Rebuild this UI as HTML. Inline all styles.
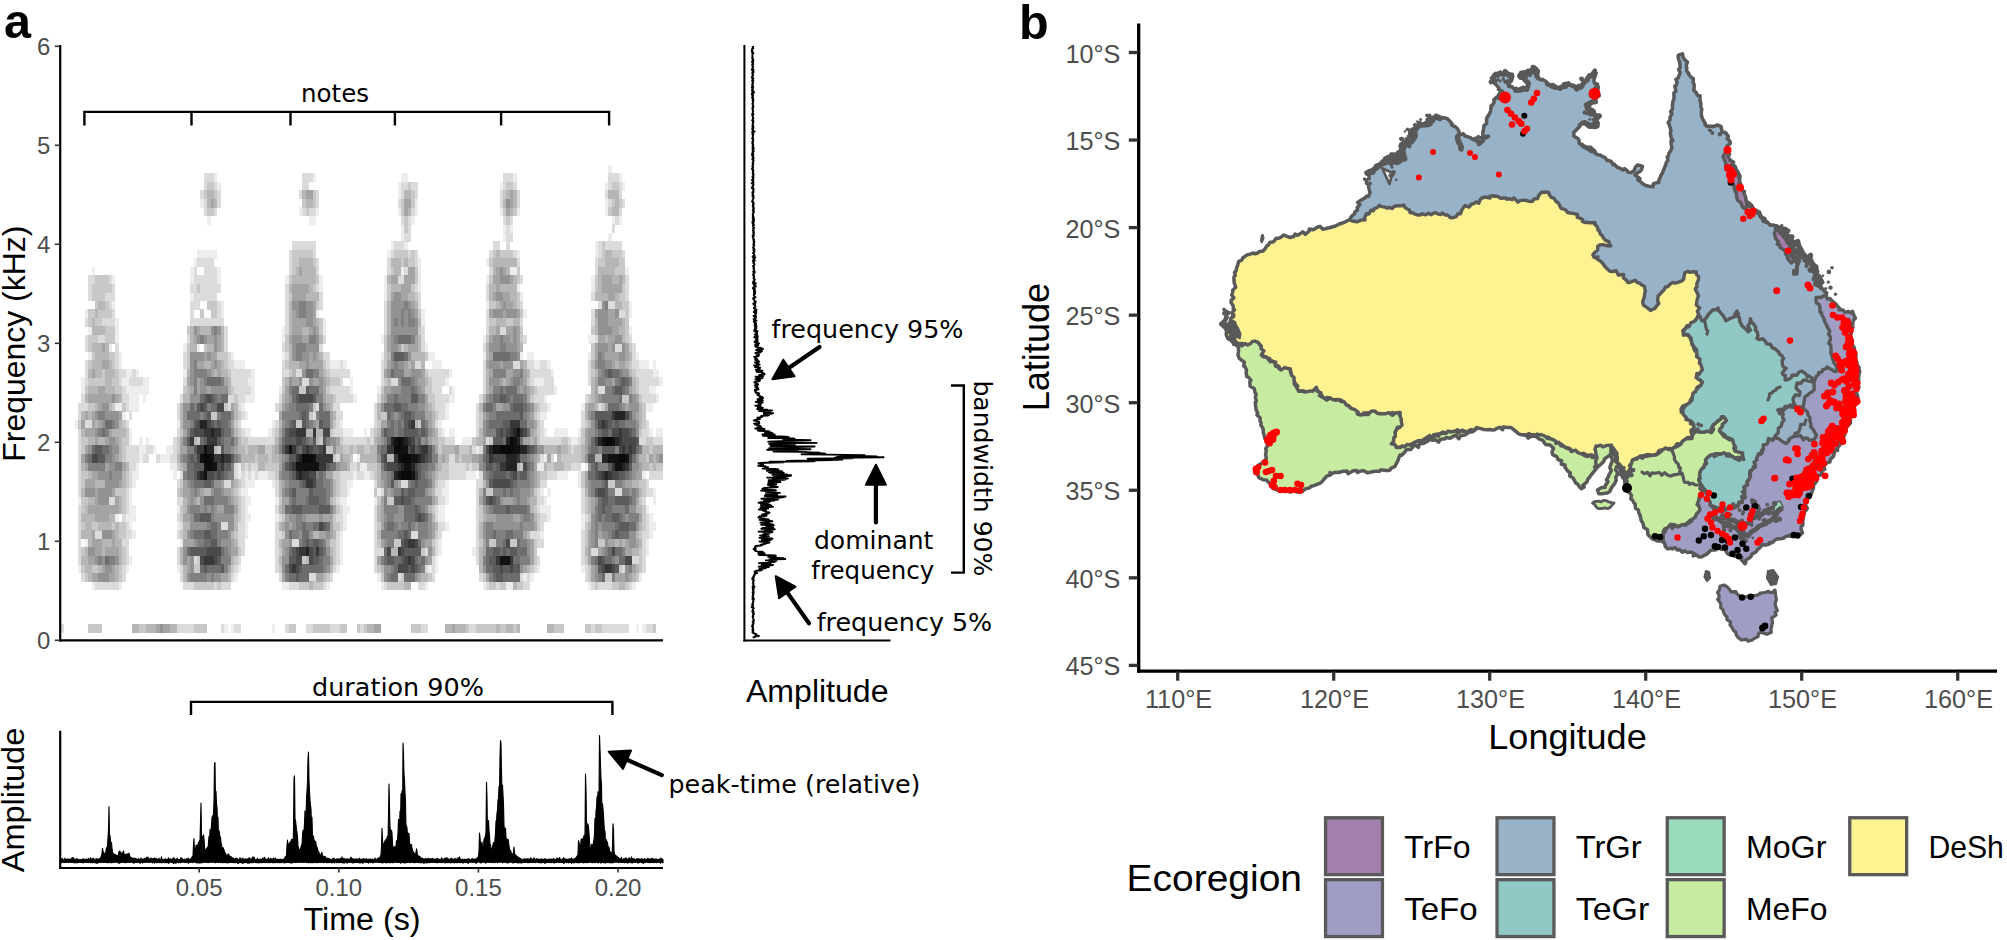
<!DOCTYPE html>
<html lang="en"><head><meta charset="utf-8"><title>Figure</title>
<style>html,body{margin:0;padding:0;background:#fff}svg{display:block}</style></head>
<body>
<svg width="2007" height="940" viewBox="0 0 2007 940">
<rect width="2007" height="940" fill="#fff"/>
<g shape-rendering="crispEdges" fill="none" stroke-width="8.6">
<path stroke="rgb(237,237,237)" d="M608.4 169.25h3.4M214.0 177.75h3.4M312.6 177.75h3.4M401.0 177.75h6.8M513.2 177.75h3.4M618.6 177.75h3.4M217.4 186.25h3.4M397.6 186.25h3.4M499.6 186.25h3.4M605.0 186.25h3.4M622.0 186.25h3.4M397.6 194.75h3.4M200.4 203.25h3.4M414.6 203.25h3.4M605.0 203.25h3.4M299.0 211.75h3.4M316.0 211.75h3.4M397.6 211.75h3.4M414.6 211.75h3.4M499.6 211.75h3.4M516.6 211.75h3.4M605.0 211.75h3.4M207.2 220.25h3.4M309.2 220.25h6.8M411.2 220.25h3.4M611.8 220.25h3.4M618.6 220.25h3.4M401.0 228.75h3.4M503.0 228.75h3.4M509.8 228.75h3.4M401.0 237.25h3.4M503.0 237.25h3.4M608.4 237.25h3.4M390.8 245.75h3.4M404.4 245.75h3.4M594.8 245.75h3.4M197.0 254.25h20.4M387.4 254.25h3.4M516.6 254.25h3.4M594.8 254.25h3.4M193.6 262.75h3.4M418.0 262.75h3.4M486.0 262.75h3.4M91.6 271.25h3.4M190.2 271.25h3.4M217.4 271.25h3.4M401.0 271.25h3.4M418.0 271.25h3.4M509.8 271.25h6.8M625.4 271.25h3.4M112.0 279.75h3.4M190.2 279.75h3.4M217.4 279.75h3.4M285.4 279.75h3.4M319.4 279.75h3.4M384.0 279.75h3.4M418.0 279.75h3.4M486.0 279.75h3.4M591.4 279.75h3.4M319.4 288.25h3.4M384.0 288.25h3.4M418.0 288.25h3.4M516.6 288.25h3.4M591.4 288.25h3.4M190.2 296.75h3.4M384.0 296.75h3.4M520.0 296.75h3.4M112.0 305.25h3.4M220.8 305.25h3.4M486.0 305.25h3.4M628.8 305.25h3.4M84.8 313.75h3.4M220.8 313.75h3.4M316.0 313.75h3.4M421.4 313.75h3.4M523.4 313.75h3.4M628.8 313.75h3.4M115.4 322.25h3.4M322.8 322.25h3.4M421.4 322.25h3.4M88.2 330.75h3.4M115.4 330.75h3.4M282.0 330.75h3.4M322.8 330.75h3.4M628.8 330.75h3.4M115.4 339.25h3.4M282.0 339.25h3.4M380.6 339.25h3.4M482.6 339.25h3.4M588.0 339.25h6.8M108.6 347.75h3.4M183.4 347.75h3.4M197.0 347.75h3.4M424.8 347.75h3.4M88.2 356.25h3.4M118.8 356.25h3.4M231.0 356.25h3.4M282.0 356.25h3.4M380.6 356.25h3.4M428.2 356.25h6.8M482.6 356.25h3.4M520.0 356.25h3.4M526.8 356.25h6.8M588.0 356.25h3.4M635.6 356.25h3.4M118.8 364.75h3.4M234.4 364.75h10.2M329.6 364.75h10.2M343.2 364.75h3.4M431.6 364.75h10.2M533.6 364.75h6.8M547.2 364.75h3.4M639.0 364.75h10.2M652.6 364.75h3.4M125.6 373.25h6.8M135.8 373.25h3.4M183.4 373.25h3.4M251.4 373.25h3.4M448.6 373.25h3.4M550.6 373.25h3.4M652.6 373.25h6.8M81.4 381.75h3.4M122.2 381.75h6.8M142.6 381.75h6.8M248.0 381.75h6.8M350.0 381.75h3.4M445.2 381.75h3.4M533.6 381.75h10.2M659.4 381.75h3.4M81.4 390.25h3.4M125.6 390.25h23.8M251.4 390.25h3.4M278.6 390.25h3.4M350.0 390.25h3.4M377.2 390.25h3.4M452.0 390.25h3.4M554.0 390.25h3.4M649.2 390.25h6.8M129.0 398.75h10.2M142.6 398.75h3.4M244.6 398.75h10.2M353.4 398.75h3.4M448.6 398.75h6.8M543.8 398.75h3.4M656.0 398.75h3.4M115.4 407.25h6.8M129.0 407.25h10.2M241.2 407.25h3.4M445.2 407.25h3.4M547.2 407.25h3.4M581.2 407.25h3.4M645.8 407.25h6.8M122.2 415.75h3.4M244.6 415.75h3.4M445.2 415.75h3.4M540.4 415.75h6.8M74.6 424.25h3.4M176.6 424.25h3.4M271.8 424.25h3.4M339.8 424.25h3.4M438.4 424.25h3.4M129.0 432.75h3.4M244.6 432.75h6.8M268.4 432.75h3.4M343.2 432.75h10.2M363.6 432.75h3.4M441.8 432.75h3.4M448.6 432.75h6.8M543.8 432.75h3.4M554.0 432.75h13.6M577.8 432.75h3.4M649.2 432.75h3.4M656.0 432.75h6.8M129.0 441.25h3.4M139.2 441.25h3.4M146.0 441.25h3.4M462.2 441.25h10.2M571.0 441.25h6.8M139.2 449.75h6.8M152.8 449.75h3.4M166.4 449.75h6.8M475.8 449.75h3.4M139.2 458.25h3.4M159.6 458.25h10.2M356.8 458.25h3.4M543.8 458.25h3.4M135.8 466.75h3.4M169.8 466.75h6.8M237.8 466.75h3.4M360.2 466.75h6.8M537.0 466.75h6.8M584.6 466.75h3.4M132.4 475.25h6.8M173.2 475.25h3.4M237.8 475.25h3.4M244.6 475.25h3.4M251.4 475.25h3.4M258.2 475.25h10.2M353.4 475.25h3.4M363.6 475.25h6.8M465.6 475.25h10.2M557.4 475.25h10.2M577.8 475.25h3.4M642.4 475.25h3.4M132.4 483.75h3.4M244.6 483.75h10.2M271.8 483.75h3.4M346.6 483.75h6.8M445.2 483.75h3.4M577.8 483.75h3.4M129.0 492.25h3.4M241.2 492.25h6.8M346.6 492.25h3.4M377.2 492.25h3.4M441.8 492.25h6.8M540.4 492.25h3.4M547.2 492.25h3.4M652.6 492.25h3.4M78.0 500.75h3.4M129.0 500.75h3.4M244.6 500.75h6.8M275.2 500.75h3.4M339.8 500.75h6.8M373.8 500.75h3.4M445.2 500.75h3.4M543.8 500.75h3.4M652.6 500.75h3.4M129.0 509.25h6.8M176.6 509.25h3.4M244.6 509.25h3.4M343.2 509.25h6.8M438.4 509.25h6.8M540.4 509.25h10.2M645.8 509.25h3.4M115.4 517.75h3.4M125.6 517.75h10.2M244.6 517.75h6.8M275.2 517.75h3.4M343.2 517.75h3.4M438.4 517.75h6.8M547.2 517.75h3.4M581.2 517.75h3.4M649.2 517.75h3.4M129.0 526.25h3.4M176.6 526.25h3.4M244.6 526.25h3.4M343.2 526.25h3.4M445.2 526.25h3.4M581.2 526.25h3.4M649.2 526.25h6.8M132.4 534.75h3.4M244.6 534.75h3.4M339.8 534.75h3.4M540.4 534.75h3.4M649.2 534.75h3.4M84.8 543.25h3.4M180.0 543.25h3.4M339.8 543.25h3.4M438.4 543.25h3.4M645.8 543.25h3.4M339.8 551.75h3.4M438.4 551.75h3.4M472.4 551.75h3.4M645.8 551.75h3.4M129.0 560.25h3.4M339.8 560.25h3.4M435.0 560.25h3.4M78.0 568.75h3.4M125.6 568.75h3.4M176.6 568.75h3.4M237.8 568.75h3.4M336.4 568.75h3.4M428.2 568.75h3.4M435.0 568.75h3.4M537.0 568.75h3.4M581.2 568.75h3.4M234.4 577.25h3.4M377.2 577.25h3.4M523.4 577.25h3.4M530.2 577.25h3.4M639.0 577.25h3.4M91.6 585.75h3.4M118.8 585.75h3.4M282.0 585.75h6.8M326.2 585.75h3.4M380.6 585.75h3.4M424.8 585.75h3.4M482.6 585.75h3.4M506.4 585.75h6.8M588.0 585.75h3.4M632.2 585.75h3.4M224.2 628.25h3.4M231.0 628.25h3.4M271.8 628.25h3.4M635.6 628.25h3.4M642.4 628.25h3.4"/>
<path stroke="rgb(219,219,219)" d="M203.8 177.75h10.2M302.4 177.75h10.2M503.0 177.75h10.2M608.4 177.75h10.2M203.8 186.25h3.4M214.0 186.25h3.4M302.4 186.25h6.8M401.0 186.25h6.8M411.2 186.25h6.8M503.0 186.25h3.4M513.2 186.25h3.4M608.4 186.25h3.4M618.6 186.25h3.4M200.4 194.75h3.4M217.4 194.75h3.4M299.0 194.75h3.4M316.0 194.75h3.4M401.0 194.75h3.4M414.6 194.75h3.4M499.6 194.75h3.4M516.6 194.75h3.4M605.0 194.75h3.4M618.6 194.75h3.4M203.8 203.25h3.4M217.4 203.25h3.4M316.0 203.25h3.4M397.6 203.25h3.4M499.6 203.25h3.4M516.6 203.25h3.4M608.4 203.25h3.4M622.0 203.25h3.4M203.8 211.75h3.4M214.0 211.75h3.4M302.4 211.75h3.4M309.2 211.75h6.8M411.2 211.75h3.4M618.6 211.75h3.4M401.0 220.25h3.4M407.8 220.25h3.4M503.0 220.25h3.4M509.8 220.25h3.4M615.2 220.25h3.4M407.8 228.75h3.4M506.4 228.75h3.4M611.8 228.75h3.4M404.4 237.25h6.8M506.4 237.25h6.8M292.2 245.75h23.8M394.2 245.75h10.2M492.8 245.75h6.8M506.4 245.75h3.4M598.2 245.75h3.4M605.0 245.75h17.0M288.8 254.25h3.4M312.6 254.25h3.4M390.8 254.25h3.4M407.8 254.25h3.4M414.6 254.25h3.4M489.4 254.25h3.4M513.2 254.25h3.4M598.2 254.25h3.4M622.0 254.25h3.4M197.0 262.75h17.0M288.8 262.75h3.4M316.0 262.75h3.4M387.4 262.75h3.4M414.6 262.75h3.4M516.6 262.75h3.4M594.8 262.75h3.4M193.6 271.25h3.4M203.8 271.25h13.6M288.8 271.25h3.4M316.0 271.25h3.4M387.4 271.25h3.4M404.4 271.25h3.4M489.4 271.25h3.4M594.8 271.25h3.4M88.2 279.75h6.8M108.6 279.75h3.4M193.6 279.75h23.8M397.6 279.75h6.8M520.0 279.75h3.4M625.4 279.75h3.4M88.2 288.25h3.4M112.0 288.25h3.4M190.2 288.25h6.8M200.4 288.25h20.4M285.4 288.25h3.4M316.0 288.25h3.4M414.6 288.25h3.4M486.0 288.25h3.4M625.4 288.25h3.4M88.2 296.75h3.4M105.2 296.75h10.2M193.6 296.75h23.8M285.4 296.75h3.4M319.4 296.75h3.4M418.0 296.75h3.4M486.0 296.75h3.4M591.4 296.75h3.4M625.4 296.75h3.4M108.6 305.25h3.4M190.2 305.25h10.2M217.4 305.25h3.4M285.4 305.25h3.4M319.4 305.25h3.4M384.0 305.25h3.4M418.0 305.25h3.4M520.0 305.25h3.4M598.2 305.25h3.4M608.4 305.25h6.8M112.0 313.75h3.4M190.2 313.75h3.4M217.4 313.75h3.4M285.4 313.75h3.4M384.0 313.75h3.4M486.0 313.75h3.4M591.4 313.75h3.4M618.6 313.75h6.8M84.8 322.25h3.4M101.8 322.25h13.6M190.2 322.25h34.0M285.4 322.25h3.4M384.0 322.25h3.4M486.0 322.25h3.4M520.0 322.25h3.4M591.4 322.25h3.4M224.2 330.75h3.4M285.4 330.75h3.4M384.0 330.75h3.4M421.4 330.75h3.4M486.0 330.75h3.4M499.6 330.75h6.8M84.8 339.25h3.4M98.4 339.25h6.8M186.8 339.25h3.4M224.2 339.25h3.4M322.8 339.25h3.4M421.4 339.25h3.4M523.4 339.25h3.4M594.8 339.25h3.4M628.8 339.25h3.4M84.8 347.75h3.4M115.4 347.75h3.4M224.2 347.75h3.4M282.0 347.75h3.4M319.4 347.75h3.4M421.4 347.75h3.4M482.6 347.75h3.4M615.2 347.75h6.8M632.2 347.75h3.4M115.4 356.25h3.4M183.4 356.25h3.4M227.6 356.25h3.4M285.4 356.25h3.4M322.8 356.25h6.8M632.2 356.25h3.4M84.8 364.75h3.4M115.4 364.75h3.4M183.4 364.75h3.4M227.6 364.75h6.8M282.0 364.75h3.4M326.2 364.75h3.4M339.8 364.75h3.4M380.6 364.75h3.4M414.6 364.75h6.8M482.6 364.75h3.4M513.2 364.75h6.8M526.8 364.75h6.8M540.4 364.75h6.8M588.0 364.75h3.4M632.2 364.75h6.8M84.8 373.25h3.4M118.8 373.25h6.8M132.4 373.25h3.4M231.0 373.25h20.4M282.0 373.25h6.8M295.6 373.25h6.8M329.6 373.25h20.4M380.6 373.25h3.4M428.2 373.25h20.4M482.6 373.25h3.4M530.2 373.25h20.4M588.0 373.25h3.4M635.6 373.25h17.0M84.8 381.75h3.4M118.8 381.75h3.4M129.0 381.75h13.6M183.4 381.75h3.4M231.0 381.75h17.0M302.4 381.75h6.8M339.8 381.75h3.4M380.6 381.75h3.4M390.8 381.75h6.8M431.6 381.75h13.6M482.6 381.75h3.4M530.2 381.75h3.4M543.8 381.75h10.2M588.0 381.75h3.4M639.0 381.75h20.4M122.2 390.25h3.4M234.4 390.25h17.0M329.6 390.25h20.4M431.6 390.25h10.2M448.6 390.25h3.4M482.6 390.25h3.4M537.0 390.25h17.0M598.2 390.25h6.8M639.0 390.25h10.2M81.4 398.75h3.4M122.2 398.75h6.8M180.0 398.75h3.4M227.6 398.75h6.8M237.8 398.75h6.8M278.6 398.75h3.4M336.4 398.75h17.0M377.2 398.75h3.4M435.0 398.75h13.6M479.2 398.75h3.4M533.6 398.75h10.2M584.6 398.75h3.4M642.4 398.75h13.6M78.0 407.25h10.2M125.6 407.25h3.4M176.6 407.25h3.4M227.6 407.25h3.4M237.8 407.25h3.4M275.2 407.25h3.4M316.0 407.25h3.4M333.0 407.25h6.8M373.8 407.25h3.4M435.0 407.25h10.2M475.8 407.25h3.4M540.4 407.25h6.8M598.2 407.25h3.4M78.0 415.75h3.4M129.0 415.75h3.4M176.6 415.75h3.4M241.2 415.75h3.4M312.6 415.75h3.4M336.4 415.75h6.8M373.8 415.75h3.4M438.4 415.75h6.8M475.8 415.75h3.4M537.0 415.75h3.4M581.2 415.75h3.4M84.8 424.25h6.8M125.6 424.25h3.4M237.8 424.25h3.4M275.2 424.25h3.4M336.4 424.25h3.4M373.8 424.25h3.4M435.0 424.25h3.4M475.8 424.25h3.4M540.4 424.25h3.4M581.2 424.25h3.4M645.8 424.25h3.4M78.0 432.75h3.4M176.6 432.75h3.4M241.2 432.75h3.4M271.8 432.75h3.4M333.0 432.75h10.2M370.4 432.75h3.4M438.4 432.75h3.4M475.8 432.75h3.4M540.4 432.75h3.4M642.4 432.75h6.8M78.0 441.25h3.4M173.2 441.25h3.4M248.0 441.25h27.2M343.2 441.25h23.8M370.4 441.25h3.4M445.2 441.25h10.2M486.0 441.25h3.4M540.4 441.25h20.4M567.6 441.25h3.4M577.8 441.25h3.4M639.0 441.25h6.8M652.6 441.25h10.2M78.0 449.75h3.4M125.6 449.75h13.6M146.0 449.75h6.8M173.2 449.75h3.4M472.4 449.75h3.4M479.2 449.75h3.4M571.0 449.75h3.4M78.0 458.25h3.4M125.6 458.25h13.6M142.6 458.25h6.8M156.2 458.25h3.4M169.8 458.25h6.8M336.4 458.25h3.4M448.6 458.25h6.8M540.4 458.25h3.4M550.6 458.25h3.4M78.0 466.75h3.4M129.0 466.75h6.8M234.4 466.75h3.4M244.6 466.75h3.4M251.4 466.75h6.8M350.0 466.75h6.8M448.6 466.75h17.0M469.0 466.75h3.4M571.0 466.75h10.2M78.0 475.25h3.4M129.0 475.25h3.4M180.0 475.25h3.4M234.4 475.25h3.4M241.2 475.25h3.4M248.0 475.25h3.4M254.8 475.25h3.4M268.4 475.25h6.8M339.8 475.25h13.6M356.8 475.25h6.8M370.4 475.25h3.4M448.6 475.25h17.0M479.2 475.25h3.4M547.2 475.25h10.2M649.2 475.25h13.6M78.0 483.75h3.4M129.0 483.75h3.4M176.6 483.75h3.4M224.2 483.75h6.8M241.2 483.75h3.4M275.2 483.75h3.4M339.8 483.75h6.8M373.8 483.75h3.4M401.0 483.75h6.8M438.4 483.75h6.8M475.8 483.75h6.8M540.4 483.75h6.8M645.8 483.75h3.4M78.0 492.25h3.4M125.6 492.25h3.4M237.8 492.25h3.4M275.2 492.25h3.4M339.8 492.25h6.8M380.6 492.25h3.4M435.0 492.25h6.8M475.8 492.25h3.4M537.0 492.25h3.4M581.2 492.25h3.4M615.2 492.25h6.8M645.8 492.25h6.8M108.6 500.75h6.8M125.6 500.75h3.4M176.6 500.75h6.8M241.2 500.75h3.4M336.4 500.75h3.4M438.4 500.75h6.8M475.8 500.75h3.4M537.0 500.75h6.8M581.2 500.75h3.4M642.4 500.75h3.4M78.0 509.25h3.4M125.6 509.25h3.4M241.2 509.25h3.4M275.2 509.25h3.4M339.8 509.25h3.4M373.8 509.25h3.4M435.0 509.25h3.4M475.8 509.25h3.4M537.0 509.25h3.4M581.2 509.25h3.4M78.0 517.75h3.4M122.2 517.75h3.4M176.6 517.75h3.4M241.2 517.75h3.4M278.6 517.75h3.4M336.4 517.75h6.8M373.8 517.75h3.4M435.0 517.75h3.4M475.8 517.75h3.4M540.4 517.75h6.8M584.6 517.75h3.4M645.8 517.75h3.4M78.0 526.25h3.4M125.6 526.25h3.4M180.0 526.25h3.4M220.8 526.25h6.8M237.8 526.25h6.8M275.2 526.25h3.4M339.8 526.25h3.4M373.8 526.25h3.4M438.4 526.25h6.8M475.8 526.25h3.4M540.4 526.25h3.4M645.8 526.25h3.4M78.0 534.75h3.4M95.0 534.75h6.8M125.6 534.75h6.8M176.6 534.75h3.4M237.8 534.75h6.8M275.2 534.75h6.8M336.4 534.75h3.4M373.8 534.75h3.4M411.2 534.75h6.8M438.4 534.75h3.4M475.8 534.75h3.4M530.2 534.75h10.2M581.2 534.75h3.4M642.4 534.75h6.8M78.0 543.25h3.4M122.2 543.25h6.8M237.8 543.25h6.8M275.2 543.25h3.4M292.2 543.25h6.8M336.4 543.25h3.4M373.8 543.25h3.4M435.0 543.25h3.4M475.8 543.25h3.4M537.0 543.25h6.8M581.2 543.25h3.4M642.4 543.25h3.4M78.0 551.75h3.4M125.6 551.75h3.4M176.6 551.75h3.4M241.2 551.75h3.4M275.2 551.75h3.4M336.4 551.75h3.4M373.8 551.75h10.2M424.8 551.75h3.4M435.0 551.75h3.4M475.8 551.75h3.4M581.2 551.75h3.4M591.4 551.75h6.8M642.4 551.75h3.4M78.0 560.25h3.4M125.6 560.25h3.4M176.6 560.25h3.4M193.6 560.25h3.4M237.8 560.25h3.4M275.2 560.25h3.4M336.4 560.25h3.4M373.8 560.25h3.4M431.6 560.25h3.4M475.8 560.25h3.4M537.0 560.25h3.4M581.2 560.25h3.4M632.2 560.25h6.8M642.4 560.25h3.4M122.2 568.75h3.4M180.0 568.75h3.4M234.4 568.75h3.4M275.2 568.75h3.4M333.0 568.75h3.4M373.8 568.75h3.4M424.8 568.75h3.4M431.6 568.75h3.4M533.6 568.75h3.4M584.6 568.75h3.4M622.0 568.75h3.4M642.4 568.75h3.4M81.4 577.25h3.4M122.2 577.25h3.4M180.0 577.25h3.4M231.0 577.25h3.4M278.6 577.25h3.4M309.2 577.25h6.8M329.6 577.25h3.4M397.6 577.25h3.4M431.6 577.25h3.4M479.2 577.25h3.4M520.0 577.25h3.4M526.8 577.25h3.4M584.6 577.25h3.4M95.0 585.75h23.8M183.4 585.75h10.2M214.0 585.75h3.4M220.8 585.75h10.2M288.8 585.75h10.2M322.8 585.75h3.4M384.0 585.75h3.4M418.0 585.75h6.8M486.0 585.75h3.4M496.2 585.75h3.4M523.4 585.75h6.8M591.4 585.75h3.4M598.2 585.75h13.6M628.8 585.75h3.4M61.0 628.25h3.4M176.6 628.25h17.0M220.8 628.25h3.4M234.4 628.25h6.8M285.4 628.25h3.4M305.8 628.25h6.8M329.6 628.25h10.2M360.2 628.25h3.4M421.4 628.25h6.8M469.0 628.25h6.8M591.4 628.25h3.4M601.6 628.25h27.2M645.8 628.25h6.8"/>
<path stroke="rgb(200,200,200)" d="M207.2 186.25h6.8M407.8 186.25h3.4M506.4 186.25h6.8M611.8 186.25h6.8M203.8 194.75h3.4M214.0 194.75h3.4M312.6 194.75h3.4M411.2 194.75h3.4M503.0 194.75h3.4M302.4 203.25h3.4M312.6 203.25h3.4M401.0 203.25h3.4M411.2 203.25h3.4M611.8 203.25h3.4M618.6 203.25h3.4M207.2 211.75h6.8M305.8 211.75h3.4M401.0 211.75h3.4M503.0 211.75h3.4M513.2 211.75h3.4M608.4 211.75h3.4M404.4 220.25h3.4M506.4 220.25h3.4M404.4 228.75h3.4M601.6 245.75h3.4M292.2 254.25h20.4M394.2 254.25h13.6M411.2 254.25h3.4M492.8 254.25h3.4M499.6 254.25h13.6M601.6 254.25h3.4M611.8 254.25h10.2M292.2 262.75h6.8M312.6 262.75h3.4M401.0 262.75h3.4M407.8 262.75h6.8M489.4 262.75h3.4M598.2 262.75h6.8M618.6 262.75h6.8M292.2 271.25h3.4M390.8 271.25h3.4M414.6 271.25h3.4M516.6 271.25h3.4M615.2 271.25h10.2M95.0 279.75h13.6M288.8 279.75h3.4M316.0 279.75h3.4M414.6 279.75h3.4M489.4 279.75h3.4M516.6 279.75h3.4M594.8 279.75h3.4M91.6 288.25h20.4M197.0 288.25h3.4M312.6 288.25h3.4M387.4 288.25h3.4M411.2 288.25h3.4M594.8 288.25h3.4M622.0 288.25h3.4M91.6 296.75h13.6M288.8 296.75h3.4M387.4 296.75h3.4M414.6 296.75h3.4M516.6 296.75h3.4M618.6 296.75h6.8M95.0 305.25h3.4M105.2 305.25h3.4M207.2 305.25h10.2M316.0 305.25h3.4M489.4 305.25h6.8M516.6 305.25h3.4M622.0 305.25h6.8M88.2 313.75h6.8M98.4 313.75h13.6M200.4 313.75h3.4M210.6 313.75h6.8M418.0 313.75h3.4M520.0 313.75h3.4M625.4 313.75h3.4M88.2 322.25h3.4M95.0 322.25h6.8M319.4 322.25h3.4M489.4 322.25h6.8M506.4 322.25h6.8M625.4 322.25h3.4M105.2 330.75h10.2M186.8 330.75h3.4M319.4 330.75h3.4M418.0 330.75h3.4M520.0 330.75h3.4M591.4 330.75h3.4M625.4 330.75h3.4M88.2 339.25h10.2M105.2 339.25h10.2M285.4 339.25h3.4M384.0 339.25h3.4M486.0 339.25h3.4M520.0 339.25h3.4M625.4 339.25h3.4M88.2 347.75h3.4M186.8 347.75h3.4M203.8 347.75h3.4M285.4 347.75h3.4M384.0 347.75h3.4M401.0 347.75h3.4M591.4 347.75h3.4M628.8 347.75h3.4M91.6 356.25h3.4M108.6 356.25h6.8M186.8 356.25h3.4M217.4 356.25h10.2M384.0 356.25h3.4M424.8 356.25h3.4M591.4 356.25h3.4M88.2 364.75h3.4M112.0 364.75h3.4M186.8 364.75h3.4M224.2 364.75h3.4M285.4 364.75h3.4M322.8 364.75h3.4M384.0 364.75h3.4M628.8 364.75h3.4M101.8 373.25h3.4M115.4 373.25h3.4M227.6 373.25h3.4M288.8 373.25h3.4M326.2 373.25h3.4M424.8 373.25h3.4M591.4 373.25h3.4M632.2 373.25h3.4M88.2 381.75h17.0M112.0 381.75h6.8M282.0 381.75h3.4M329.6 381.75h10.2M384.0 381.75h3.4M428.2 381.75h3.4M526.8 381.75h3.4M635.6 381.75h3.4M84.8 390.25h3.4M115.4 390.25h6.8M183.4 390.25h3.4M231.0 390.25h3.4M282.0 390.25h3.4M299.0 390.25h6.8M326.2 390.25h3.4M380.6 390.25h3.4M424.8 390.25h6.8M533.6 390.25h3.4M635.6 390.25h3.4M234.4 398.75h3.4M333.0 398.75h3.4M428.2 398.75h6.8M530.2 398.75h3.4M588.0 398.75h3.4M622.0 398.75h6.8M639.0 398.75h3.4M88.2 407.25h6.8M112.0 407.25h3.4M122.2 407.25h3.4M224.2 407.25h3.4M278.6 407.25h3.4M312.6 407.25h3.4M431.6 407.25h3.4M537.0 407.25h3.4M601.6 407.25h3.4M642.4 407.25h3.4M210.6 415.75h6.8M237.8 415.75h3.4M309.2 415.75h3.4M380.6 415.75h6.8M435.0 415.75h3.4M479.2 415.75h3.4M533.6 415.75h3.4M642.4 415.75h3.4M78.0 424.25h3.4M122.2 424.25h3.4M234.4 424.25h3.4M295.6 424.25h6.8M333.0 424.25h3.4M377.2 424.25h3.4M418.0 424.25h3.4M479.2 424.25h3.4M537.0 424.25h3.4M584.6 424.25h3.4M642.4 424.25h3.4M125.6 432.75h3.4M180.0 432.75h3.4M237.8 432.75h3.4M275.2 432.75h3.4M329.6 432.75h3.4M373.8 432.75h3.4M537.0 432.75h3.4M581.2 432.75h3.4M639.0 432.75h3.4M81.4 441.25h6.8M122.2 441.25h6.8M176.6 441.25h3.4M197.0 441.25h3.4M241.2 441.25h6.8M319.4 441.25h3.4M339.8 441.25h3.4M367.0 441.25h3.4M438.4 441.25h6.8M472.4 441.25h3.4M489.4 441.25h3.4M537.0 441.25h3.4M560.8 441.25h6.8M581.2 441.25h3.4M645.8 441.25h6.8M81.4 449.75h3.4M122.2 449.75h3.4M176.6 449.75h3.4M217.4 449.75h3.4M244.6 449.75h3.4M265.0 449.75h6.8M326.2 449.75h6.8M343.2 449.75h6.8M353.4 449.75h3.4M363.6 449.75h6.8M438.4 449.75h3.4M458.8 449.75h10.2M567.6 449.75h3.4M574.4 449.75h6.8M649.2 449.75h3.4M122.2 458.25h3.4M254.8 458.25h3.4M268.4 458.25h3.4M333.0 458.25h3.4M350.0 458.25h3.4M458.8 458.25h3.4M560.8 458.25h20.4M645.8 458.25h3.4M176.6 466.75h3.4M241.2 466.75h3.4M248.0 466.75h3.4M265.0 466.75h13.6M356.8 466.75h3.4M367.0 466.75h10.2M441.8 466.75h6.8M465.6 466.75h3.4M472.4 466.75h6.8M520.0 466.75h3.4M547.2 466.75h6.8M564.2 466.75h6.8M649.2 466.75h3.4M656.0 466.75h6.8M81.4 475.25h6.8M125.6 475.25h3.4M275.2 475.25h3.4M333.0 475.25h6.8M373.8 475.25h3.4M438.4 475.25h10.2M540.4 475.25h6.8M581.2 475.25h3.4M81.4 483.75h3.4M125.6 483.75h3.4M180.0 483.75h3.4M237.8 483.75h3.4M336.4 483.75h3.4M435.0 483.75h3.4M581.2 483.75h3.4M608.4 483.75h6.8M639.0 483.75h6.8M115.4 492.25h10.2M176.6 492.25h3.4M234.4 492.25h3.4M336.4 492.25h3.4M373.8 492.25h3.4M486.0 492.25h6.8M533.6 492.25h3.4M642.4 492.25h3.4M81.4 500.75h6.8M122.2 500.75h3.4M237.8 500.75h3.4M278.6 500.75h3.4M333.0 500.75h3.4M377.2 500.75h3.4M387.4 500.75h6.8M584.6 500.75h3.4M639.0 500.75h3.4M81.4 509.25h3.4M122.2 509.25h3.4M180.0 509.25h3.4M237.8 509.25h3.4M336.4 509.25h3.4M431.6 509.25h3.4M479.2 509.25h3.4M533.6 509.25h3.4M584.6 509.25h3.4M642.4 509.25h3.4M180.0 517.75h3.4M237.8 517.75h3.4M282.0 517.75h3.4M333.0 517.75h3.4M479.2 517.75h3.4M537.0 517.75h3.4M588.0 517.75h3.4M642.4 517.75h3.4M81.4 526.25h3.4M91.6 526.25h6.8M112.0 526.25h3.4M118.8 526.25h6.8M333.0 526.25h6.8M377.2 526.25h3.4M537.0 526.25h3.4M584.6 526.25h3.4M642.4 526.25h3.4M118.8 534.75h6.8M180.0 534.75h3.4M234.4 534.75h3.4M282.0 534.75h3.4M435.0 534.75h3.4M584.6 534.75h3.4M639.0 534.75h3.4M329.6 543.25h6.8M377.2 543.25h3.4M394.2 543.25h6.8M431.6 543.25h3.4M479.2 543.25h3.4M489.4 543.25h6.8M509.8 543.25h6.8M533.6 543.25h3.4M584.6 543.25h3.4M598.2 543.25h6.8M81.4 551.75h3.4M122.2 551.75h3.4M237.8 551.75h3.4M278.6 551.75h3.4M333.0 551.75h3.4M421.4 551.75h3.4M533.6 551.75h3.4M639.0 551.75h3.4M122.2 560.25h3.4M197.0 560.25h3.4M234.4 560.25h3.4M302.4 560.25h3.4M333.0 560.25h3.4M533.6 560.25h3.4M584.6 560.25h3.4M639.0 560.25h3.4M81.4 568.75h3.4M91.6 568.75h6.8M118.8 568.75h3.4M193.6 568.75h6.8M231.0 568.75h3.4M278.6 568.75h3.4M377.2 568.75h3.4M530.2 568.75h3.4M588.0 568.75h3.4M618.6 568.75h3.4M639.0 568.75h3.4M84.8 577.25h3.4M118.8 577.25h3.4M326.2 577.25h3.4M380.6 577.25h3.4M401.0 577.25h3.4M428.2 577.25h3.4M482.6 577.25h3.4M588.0 577.25h3.4M605.0 577.25h6.8M635.6 577.25h3.4M193.6 585.75h20.4M217.4 585.75h3.4M299.0 585.75h10.2M312.6 585.75h10.2M387.4 585.75h17.0M489.4 585.75h6.8M499.6 585.75h6.8M516.6 585.75h6.8M594.8 585.75h3.4M611.8 585.75h6.8M625.4 585.75h3.4M88.2 628.25h13.6M139.2 628.25h6.8M193.6 628.25h13.6M288.8 628.25h6.8M312.6 628.25h17.0M339.8 628.25h6.8M356.8 628.25h3.4M363.6 628.25h3.4M411.2 628.25h10.2M465.6 628.25h3.4M475.8 628.25h20.4M499.6 628.25h6.8M513.2 628.25h3.4M554.0 628.25h10.2M584.6 628.25h6.8M594.8 628.25h6.8M652.6 628.25h3.4"/>
<path stroke="rgb(182,182,182)" d="M207.2 194.75h6.8M302.4 194.75h3.4M404.4 194.75h6.8M506.4 194.75h3.4M513.2 194.75h3.4M608.4 194.75h10.2M207.2 203.25h3.4M214.0 203.25h3.4M305.8 203.25h6.8M503.0 203.25h3.4M513.2 203.25h3.4M615.2 203.25h3.4M407.8 211.75h3.4M509.8 211.75h3.4M611.8 211.75h6.8M496.2 254.25h3.4M605.0 254.25h6.8M299.0 262.75h13.6M390.8 262.75h10.2M404.4 262.75h3.4M492.8 262.75h23.8M605.0 262.75h13.6M295.6 271.25h3.4M302.4 271.25h13.6M394.2 271.25h6.8M492.8 271.25h3.4M506.4 271.25h3.4M598.2 271.25h17.0M292.2 279.75h23.8M387.4 279.75h3.4M513.2 279.75h3.4M598.2 279.75h3.4M611.8 279.75h6.8M622.0 279.75h3.4M288.8 288.25h3.4M309.2 288.25h3.4M390.8 288.25h10.2M489.4 288.25h6.8M499.6 288.25h17.0M598.2 288.25h3.4M305.8 296.75h13.6M407.8 296.75h6.8M489.4 296.75h3.4M509.8 296.75h6.8M594.8 296.75h13.6M615.2 296.75h3.4M98.4 305.25h6.8M288.8 305.25h3.4M387.4 305.25h3.4M414.6 305.25h3.4M496.2 305.25h3.4M513.2 305.25h3.4M615.2 305.25h6.8M95.0 313.75h3.4M288.8 313.75h3.4M387.4 313.75h3.4M91.6 322.25h3.4M288.8 322.25h3.4M316.0 322.25h3.4M387.4 322.25h3.4M418.0 322.25h3.4M496.2 322.25h10.2M513.2 322.25h6.8M594.8 322.25h3.4M622.0 322.25h3.4M91.6 330.75h13.6M190.2 330.75h3.4M200.4 330.75h10.2M220.8 330.75h3.4M288.8 330.75h3.4M302.4 330.75h6.8M387.4 330.75h3.4M489.4 330.75h6.8M594.8 330.75h3.4M618.6 330.75h6.8M190.2 339.25h3.4M220.8 339.25h3.4M319.4 339.25h3.4M418.0 339.25h3.4M605.0 339.25h3.4M622.0 339.25h3.4M91.6 347.75h10.2M105.2 347.75h3.4M190.2 347.75h6.8M207.2 347.75h6.8M220.8 347.75h3.4M288.8 347.75h3.4M404.4 347.75h3.4M418.0 347.75h3.4M486.0 347.75h3.4M520.0 347.75h3.4M95.0 356.25h13.6M288.8 356.25h3.4M319.4 356.25h3.4M387.4 356.25h3.4M411.2 356.25h13.6M486.0 356.25h3.4M628.8 356.25h3.4M91.6 364.75h10.2M108.6 364.75h3.4M203.8 364.75h6.8M220.8 364.75h3.4M288.8 364.75h10.2M407.8 364.75h3.4M421.4 364.75h3.4M523.4 364.75h3.4M591.4 364.75h3.4M615.2 364.75h3.4M625.4 364.75h3.4M88.2 373.25h3.4M95.0 373.25h6.8M105.2 373.25h10.2M186.8 373.25h3.4M214.0 373.25h3.4M220.8 373.25h6.8M292.2 373.25h3.4M322.8 373.25h3.4M486.0 373.25h3.4M526.8 373.25h3.4M594.8 373.25h3.4M628.8 373.25h3.4M105.2 381.75h6.8M227.6 381.75h3.4M285.4 381.75h3.4M326.2 381.75h3.4M387.4 381.75h3.4M424.8 381.75h3.4M486.0 381.75h3.4M503.0 381.75h3.4M591.4 381.75h3.4M632.2 381.75h3.4M88.2 390.25h10.2M105.2 390.25h10.2M186.8 390.25h3.4M227.6 390.25h3.4M486.0 390.25h3.4M530.2 390.25h3.4M591.4 390.25h3.4M632.2 390.25h3.4M84.8 398.75h3.4M118.8 398.75h3.4M183.4 398.75h6.8M282.0 398.75h3.4M326.2 398.75h6.8M380.6 398.75h3.4M482.6 398.75h3.4M591.4 398.75h3.4M95.0 407.25h3.4M108.6 407.25h3.4M180.0 407.25h3.4M234.4 407.25h3.4M329.6 407.25h3.4M377.2 407.25h3.4M428.2 407.25h3.4M479.2 407.25h3.4M533.6 407.25h3.4M584.6 407.25h3.4M594.8 407.25h3.4M639.0 407.25h3.4M81.4 415.75h3.4M88.2 415.75h3.4M180.0 415.75h3.4M234.4 415.75h3.4M333.0 415.75h3.4M377.2 415.75h3.4M431.6 415.75h3.4M584.6 415.75h3.4M639.0 415.75h3.4M95.0 424.25h3.4M118.8 424.25h3.4M180.0 424.25h3.4M278.6 424.25h3.4M414.6 424.25h3.4M431.6 424.25h3.4M588.0 424.25h3.4M639.0 424.25h3.4M81.4 432.75h3.4M112.0 432.75h13.6M234.4 432.75h3.4M305.8 432.75h6.8M316.0 432.75h6.8M377.2 432.75h3.4M435.0 432.75h3.4M479.2 432.75h3.4M533.6 432.75h3.4M88.2 441.25h6.8M98.4 441.25h6.8M118.8 441.25h3.4M193.6 441.25h3.4M237.8 441.25h3.4M275.2 441.25h3.4M316.0 441.25h3.4M373.8 441.25h3.4M431.6 441.25h6.8M475.8 441.25h6.8M530.2 441.25h3.4M118.8 449.75h3.4M214.0 449.75h3.4M237.8 449.75h6.8M248.0 449.75h10.2M271.8 449.75h3.4M336.4 449.75h6.8M350.0 449.75h3.4M356.8 449.75h6.8M370.4 449.75h6.8M441.8 449.75h13.6M469.0 449.75h3.4M543.8 449.75h13.6M560.8 449.75h6.8M581.2 449.75h3.4M642.4 449.75h6.8M652.6 449.75h10.2M118.8 458.25h3.4M176.6 458.25h3.4M241.2 458.25h13.6M258.2 458.25h10.2M271.8 458.25h6.8M343.2 458.25h6.8M360.2 458.25h17.0M387.4 458.25h6.8M438.4 458.25h3.4M445.2 458.25h3.4M455.4 458.25h3.4M462.2 458.25h10.2M537.0 458.25h3.4M557.4 458.25h3.4M581.2 458.25h3.4M594.8 458.25h6.8M639.0 458.25h6.8M652.6 458.25h3.4M81.4 466.75h3.4M125.6 466.75h3.4M180.0 466.75h3.4M258.2 466.75h6.8M346.6 466.75h3.4M377.2 466.75h3.4M438.4 466.75h3.4M516.6 466.75h3.4M543.8 466.75h3.4M554.0 466.75h10.2M642.4 466.75h6.8M652.6 466.75h3.4M88.2 475.25h3.4M122.2 475.25h3.4M377.2 475.25h3.4M435.0 475.25h3.4M537.0 475.25h3.4M95.0 483.75h10.2M122.2 483.75h3.4M234.4 483.75h3.4M278.6 483.75h3.4M333.0 483.75h3.4M377.2 483.75h3.4M482.6 483.75h3.4M537.0 483.75h3.4M632.2 483.75h6.8M81.4 492.25h3.4M180.0 492.25h3.4M203.8 492.25h6.8M231.0 492.25h3.4M278.6 492.25h3.4M333.0 492.25h3.4M431.6 492.25h3.4M479.2 492.25h3.4M584.6 492.25h3.4M639.0 492.25h3.4M88.2 500.75h6.8M118.8 500.75h3.4M183.4 500.75h3.4M197.0 500.75h3.4M234.4 500.75h3.4M329.6 500.75h3.4M435.0 500.75h3.4M530.2 500.75h6.8M588.0 500.75h3.4M84.8 509.25h3.4M118.8 509.25h3.4M183.4 509.25h3.4M278.6 509.25h3.4M377.2 509.25h3.4M428.2 509.25h3.4M530.2 509.25h3.4M588.0 509.25h3.4M635.6 509.25h6.8M81.4 517.75h13.6M108.6 517.75h6.8M234.4 517.75h3.4M377.2 517.75h3.4M431.6 517.75h3.4M482.6 517.75h3.4M533.6 517.75h3.4M84.8 526.25h6.8M98.4 526.25h13.6M115.4 526.25h3.4M183.4 526.25h6.8M234.4 526.25h3.4M278.6 526.25h3.4M435.0 526.25h3.4M479.2 526.25h3.4M588.0 526.25h3.4M639.0 526.25h3.4M81.4 534.75h10.2M115.4 534.75h3.4M183.4 534.75h3.4M231.0 534.75h3.4M312.6 534.75h6.8M333.0 534.75h3.4M377.2 534.75h3.4M479.2 534.75h3.4M526.8 534.75h3.4M635.6 534.75h3.4M88.2 543.25h3.4M101.8 543.25h10.2M115.4 543.25h6.8M234.4 543.25h3.4M278.6 543.25h3.4M615.2 543.25h3.4M622.0 543.25h3.4M639.0 543.25h3.4M84.8 551.75h3.4M101.8 551.75h3.4M118.8 551.75h3.4M180.0 551.75h3.4M329.6 551.75h3.4M390.8 551.75h6.8M431.6 551.75h3.4M479.2 551.75h3.4M584.6 551.75h3.4M632.2 551.75h6.8M81.4 560.25h6.8M118.8 560.25h3.4M180.0 560.25h3.4M231.0 560.25h3.4M278.6 560.25h3.4M305.8 560.25h3.4M479.2 560.25h3.4M84.8 568.75h6.8M98.4 568.75h3.4M115.4 568.75h3.4M183.4 568.75h3.4M329.6 568.75h3.4M380.6 568.75h3.4M479.2 568.75h3.4M526.8 568.75h3.4M635.6 568.75h3.4M88.2 577.25h3.4M115.4 577.25h3.4M183.4 577.25h3.4M227.6 577.25h3.4M322.8 577.25h3.4M421.4 577.25h6.8M632.2 577.25h3.4M309.2 585.75h3.4M404.4 585.75h6.8M513.2 585.75h3.4M618.6 585.75h6.8M132.4 628.25h6.8M146.0 628.25h10.2M169.8 628.25h6.8M367.0 628.25h6.8M445.2 628.25h6.8M455.4 628.25h10.2M496.2 628.25h3.4M506.4 628.25h6.8M516.6 628.25h3.4M547.2 628.25h6.8"/>
<path stroke="rgb(164,164,164)" d="M305.8 194.75h6.8M509.8 194.75h3.4M210.6 203.25h3.4M404.4 203.25h6.8M509.8 203.25h3.4M404.4 211.75h3.4M506.4 211.75h3.4M299.0 271.25h3.4M407.8 271.25h6.8M496.2 271.25h3.4M503.0 271.25h3.4M390.8 279.75h6.8M404.4 279.75h10.2M492.8 279.75h6.8M509.8 279.75h3.4M601.6 279.75h10.2M618.6 279.75h3.4M292.2 288.25h17.0M401.0 288.25h10.2M496.2 288.25h3.4M601.6 288.25h20.4M292.2 296.75h13.6M390.8 296.75h3.4M401.0 296.75h6.8M492.8 296.75h3.4M503.0 296.75h6.8M608.4 296.75h6.8M312.6 305.25h3.4M411.2 305.25h3.4M499.6 305.25h3.4M506.4 305.25h6.8M292.2 313.75h3.4M312.6 313.75h3.4M414.6 313.75h3.4M489.4 313.75h3.4M503.0 313.75h3.4M516.6 313.75h3.4M594.8 313.75h3.4M608.4 313.75h6.8M292.2 322.25h13.6M312.6 322.25h3.4M608.4 322.25h13.6M197.0 330.75h3.4M292.2 330.75h10.2M309.2 330.75h3.4M316.0 330.75h3.4M496.2 330.75h3.4M506.4 330.75h6.8M516.6 330.75h3.4M611.8 330.75h6.8M193.6 339.25h3.4M207.2 339.25h6.8M217.4 339.25h3.4M288.8 339.25h3.4M302.4 339.25h6.8M387.4 339.25h3.4M414.6 339.25h3.4M489.4 339.25h3.4M509.8 339.25h3.4M516.6 339.25h3.4M598.2 339.25h6.8M608.4 339.25h6.8M101.8 347.75h3.4M217.4 347.75h3.4M387.4 347.75h3.4M397.6 347.75h3.4M407.8 347.75h10.2M516.6 347.75h3.4M594.8 347.75h3.4M608.4 347.75h3.4M625.4 347.75h3.4M203.8 356.25h3.4M210.6 356.25h6.8M309.2 356.25h3.4M316.0 356.25h3.4M489.4 356.25h3.4M594.8 356.25h3.4M605.0 356.25h13.6M625.4 356.25h3.4M101.8 364.75h6.8M197.0 364.75h6.8M210.6 364.75h3.4M217.4 364.75h3.4M299.0 364.75h6.8M309.2 364.75h13.6M387.4 364.75h3.4M404.4 364.75h3.4M411.2 364.75h3.4M486.0 364.75h3.4M499.6 364.75h3.4M520.0 364.75h3.4M611.8 364.75h3.4M618.6 364.75h6.8M91.6 373.25h3.4M210.6 373.25h3.4M217.4 373.25h3.4M319.4 373.25h3.4M384.0 373.25h3.4M404.4 373.25h6.8M421.4 373.25h3.4M489.4 373.25h3.4M506.4 373.25h6.8M523.4 373.25h3.4M186.8 381.75h3.4M197.0 381.75h3.4M224.2 381.75h3.4M292.2 381.75h6.8M312.6 381.75h6.8M322.8 381.75h3.4M418.0 381.75h6.8M499.6 381.75h3.4M506.4 381.75h3.4M523.4 381.75h3.4M594.8 381.75h3.4M611.8 381.75h3.4M98.4 390.25h6.8M190.2 390.25h3.4M197.0 390.25h3.4M207.2 390.25h3.4M285.4 390.25h3.4M322.8 390.25h3.4M384.0 390.25h6.8M421.4 390.25h3.4M489.4 390.25h3.4M520.0 390.25h3.4M526.8 390.25h3.4M594.8 390.25h3.4M628.8 390.25h3.4M88.2 398.75h23.8M115.4 398.75h3.4M285.4 398.75h3.4M322.8 398.75h3.4M384.0 398.75h3.4M424.8 398.75h3.4M526.8 398.75h3.4M594.8 398.75h3.4M635.6 398.75h3.4M98.4 407.25h3.4M231.0 407.25h3.4M282.0 407.25h3.4M326.2 407.25h3.4M424.8 407.25h3.4M496.2 407.25h6.8M588.0 407.25h6.8M605.0 407.25h3.4M625.4 407.25h3.4M84.8 415.75h3.4M91.6 415.75h3.4M118.8 415.75h3.4M278.6 415.75h3.4M329.6 415.75h3.4M424.8 415.75h6.8M482.6 415.75h3.4M530.2 415.75h3.4M635.6 415.75h3.4M81.4 424.25h3.4M91.6 424.25h3.4M98.4 424.25h3.4M231.0 424.25h3.4M316.0 424.25h3.4M329.6 424.25h3.4M380.6 424.25h6.8M428.2 424.25h3.4M533.6 424.25h3.4M84.8 432.75h10.2M108.6 432.75h3.4M183.4 432.75h3.4M278.6 432.75h3.4M431.6 432.75h3.4M530.2 432.75h3.4M584.6 432.75h3.4M95.0 441.25h3.4M105.2 441.25h3.4M115.4 441.25h3.4M180.0 441.25h3.4M336.4 441.25h3.4M377.2 441.25h3.4M428.2 441.25h3.4M482.6 441.25h3.4M523.4 441.25h6.8M533.6 441.25h3.4M584.6 441.25h3.4M84.8 449.75h3.4M180.0 449.75h6.8M234.4 449.75h3.4M258.2 449.75h6.8M275.2 449.75h3.4M435.0 449.75h3.4M455.4 449.75h3.4M557.4 449.75h3.4M584.6 449.75h3.4M81.4 458.25h3.4M115.4 458.25h3.4M278.6 458.25h3.4M339.8 458.25h3.4M441.8 458.25h3.4M472.4 458.25h6.8M533.6 458.25h3.4M547.2 458.25h3.4M649.2 458.25h3.4M656.0 458.25h3.4M84.8 466.75h3.4M105.2 466.75h3.4M122.2 466.75h3.4M183.4 466.75h3.4M278.6 466.75h3.4M339.8 466.75h6.8M435.0 466.75h3.4M533.6 466.75h3.4M639.0 466.75h3.4M91.6 475.25h6.8M326.2 475.25h6.8M431.6 475.25h3.4M533.6 475.25h3.4M584.6 475.25h3.4M635.6 475.25h6.8M84.8 483.75h10.2M118.8 483.75h3.4M183.4 483.75h3.4M220.8 483.75h3.4M231.0 483.75h3.4M282.0 483.75h3.4M380.6 483.75h3.4M397.6 483.75h3.4M431.6 483.75h3.4M533.6 483.75h3.4M584.6 483.75h3.4M625.4 483.75h6.8M95.0 492.25h3.4M112.0 492.25h3.4M183.4 492.25h6.8M200.4 492.25h3.4M224.2 492.25h6.8M387.4 492.25h3.4M428.2 492.25h3.4M530.2 492.25h3.4M95.0 500.75h3.4M115.4 500.75h3.4M186.8 500.75h3.4M193.6 500.75h3.4M231.0 500.75h3.4M282.0 500.75h6.8M380.6 500.75h3.4M431.6 500.75h3.4M479.2 500.75h3.4M503.0 500.75h10.2M526.8 500.75h3.4M591.4 500.75h3.4M635.6 500.75h3.4M88.2 509.25h30.6M217.4 509.25h6.8M234.4 509.25h3.4M282.0 509.25h3.4M333.0 509.25h3.4M380.6 509.25h3.4M482.6 509.25h3.4M591.4 509.25h3.4M95.0 517.75h13.6M183.4 517.75h6.8M285.4 517.75h3.4M305.8 517.75h13.6M322.8 517.75h10.2M380.6 517.75h3.4M486.0 517.75h10.2M513.2 517.75h6.8M639.0 517.75h3.4M282.0 526.25h3.4M288.8 526.25h3.4M329.6 526.25h3.4M380.6 526.25h3.4M431.6 526.25h3.4M533.6 526.25h3.4M91.6 534.75h3.4M112.0 534.75h3.4M319.4 534.75h6.8M329.6 534.75h3.4M431.6 534.75h3.4M523.4 534.75h3.4M588.0 534.75h3.4M598.2 534.75h3.4M91.6 543.25h10.2M112.0 543.25h3.4M183.4 543.25h10.2M231.0 543.25h3.4M282.0 543.25h6.8M326.2 543.25h3.4M380.6 543.25h3.4M424.8 543.25h6.8M482.6 543.25h3.4M530.2 543.25h3.4M588.0 543.25h3.4M608.4 543.25h6.8M618.6 543.25h3.4M625.4 543.25h3.4M635.6 543.25h3.4M95.0 551.75h6.8M105.2 551.75h13.6M231.0 551.75h6.8M282.0 551.75h3.4M482.6 551.75h3.4M530.2 551.75h3.4M588.0 551.75h3.4M598.2 551.75h3.4M625.4 551.75h6.8M88.2 560.25h6.8M186.8 560.25h3.4M329.6 560.25h3.4M377.2 560.25h3.4M428.2 560.25h3.4M530.2 560.25h3.4M588.0 560.25h3.4M101.8 568.75h3.4M112.0 568.75h3.4M186.8 568.75h3.4M227.6 568.75h3.4M523.4 568.75h3.4M591.4 568.75h3.4M632.2 568.75h3.4M91.6 577.25h6.8M108.6 577.25h6.8M220.8 577.25h6.8M282.0 577.25h3.4M316.0 577.25h6.8M418.0 577.25h3.4M486.0 577.25h3.4M591.4 577.25h3.4M615.2 577.25h10.2M628.8 577.25h3.4M156.2 628.25h3.4M163.0 628.25h6.8M373.8 628.25h6.8M452.0 628.25h3.4"/>
<path stroke="rgb(146,146,146)" d="M506.4 203.25h3.4M499.6 271.25h3.4M499.6 279.75h10.2M394.2 296.75h6.8M496.2 296.75h6.8M292.2 305.25h6.8M305.8 305.25h6.8M390.8 305.25h13.6M407.8 305.25h3.4M503.0 305.25h3.4M601.6 305.25h3.4M295.6 313.75h3.4M305.8 313.75h6.8M390.8 313.75h10.2M404.4 313.75h3.4M411.2 313.75h3.4M492.8 313.75h10.2M506.4 313.75h10.2M598.2 313.75h10.2M615.2 313.75h3.4M305.8 322.25h6.8M390.8 322.25h3.4M397.6 322.25h3.4M404.4 322.25h3.4M414.6 322.25h3.4M598.2 322.25h10.2M193.6 330.75h3.4M210.6 330.75h3.4M217.4 330.75h3.4M312.6 330.75h3.4M390.8 330.75h27.2M513.2 330.75h3.4M598.2 330.75h13.6M197.0 339.25h3.4M203.8 339.25h3.4M214.0 339.25h3.4M292.2 339.25h10.2M316.0 339.25h3.4M390.8 339.25h3.4M492.8 339.25h6.8M503.0 339.25h6.8M513.2 339.25h3.4M615.2 339.25h6.8M214.0 347.75h3.4M292.2 347.75h3.4M305.8 347.75h13.6M390.8 347.75h6.8M489.4 347.75h10.2M506.4 347.75h10.2M598.2 347.75h10.2M611.8 347.75h3.4M622.0 347.75h3.4M190.2 356.25h13.6M207.2 356.25h3.4M292.2 356.25h3.4M302.4 356.25h6.8M312.6 356.25h3.4M407.8 356.25h3.4M516.6 356.25h3.4M601.6 356.25h3.4M618.6 356.25h6.8M190.2 364.75h3.4M214.0 364.75h3.4M305.8 364.75h3.4M390.8 364.75h3.4M397.6 364.75h6.8M489.4 364.75h10.2M503.0 364.75h10.2M594.8 364.75h3.4M605.0 364.75h6.8M190.2 373.25h3.4M207.2 373.25h3.4M302.4 373.25h3.4M387.4 373.25h3.4M411.2 373.25h10.2M513.2 373.25h6.8M598.2 373.25h3.4M622.0 373.25h6.8M190.2 381.75h3.4M200.4 381.75h3.4M288.8 381.75h3.4M299.0 381.75h3.4M309.2 381.75h3.4M319.4 381.75h3.4M397.6 381.75h3.4M414.6 381.75h3.4M489.4 381.75h10.2M509.8 381.75h3.4M520.0 381.75h3.4M605.0 381.75h6.8M200.4 390.25h6.8M210.6 390.25h17.0M319.4 390.25h3.4M390.8 390.25h10.2M418.0 390.25h3.4M516.6 390.25h3.4M523.4 390.25h3.4M112.0 398.75h3.4M190.2 398.75h10.2M288.8 398.75h3.4M486.0 398.75h3.4M598.2 398.75h3.4M632.2 398.75h3.4M101.8 407.25h6.8M183.4 407.25h6.8M285.4 407.25h3.4M322.8 407.25h3.4M380.6 407.25h3.4M418.0 407.25h6.8M503.0 407.25h6.8M530.2 407.25h3.4M622.0 407.25h3.4M628.8 407.25h10.2M95.0 415.75h3.4M105.2 415.75h13.6M183.4 415.75h3.4M231.0 415.75h3.4M394.2 415.75h3.4M486.0 415.75h3.4M526.8 415.75h3.4M588.0 415.75h3.4M632.2 415.75h3.4M101.8 424.25h3.4M115.4 424.25h3.4M183.4 424.25h6.8M282.0 424.25h3.4M312.6 424.25h3.4M482.6 424.25h3.4M526.8 424.25h6.8M591.4 424.25h3.4M635.6 424.25h3.4M95.0 432.75h3.4M231.0 432.75h3.4M428.2 432.75h3.4M482.6 432.75h3.4M588.0 432.75h6.8M635.6 432.75h3.4M108.6 441.25h6.8M234.4 441.25h3.4M278.6 441.25h3.4M329.6 441.25h6.8M380.6 441.25h3.4M421.4 441.25h3.4M588.0 441.25h3.4M88.2 449.75h3.4M112.0 449.75h6.8M231.0 449.75h3.4M333.0 449.75h3.4M537.0 449.75h6.8M112.0 458.25h3.4M180.0 458.25h3.4M237.8 458.25h3.4M282.0 458.25h3.4M377.2 458.25h3.4M479.2 458.25h3.4M530.2 458.25h3.4M584.6 458.25h3.4M635.6 458.25h3.4M659.4 458.25h3.4M108.6 466.75h6.8M336.4 466.75h3.4M479.2 466.75h3.4M588.0 466.75h3.4M632.2 466.75h6.8M98.4 475.25h10.2M112.0 475.25h10.2M278.6 475.25h3.4M380.6 475.25h6.8M428.2 475.25h3.4M482.6 475.25h3.4M530.2 475.25h3.4M632.2 475.25h3.4M105.2 483.75h13.6M186.8 483.75h3.4M214.0 483.75h6.8M285.4 483.75h3.4M329.6 483.75h3.4M384.0 483.75h3.4M394.2 483.75h3.4M486.0 483.75h3.4M530.2 483.75h3.4M588.0 483.75h3.4M622.0 483.75h3.4M84.8 492.25h10.2M98.4 492.25h13.6M190.2 492.25h3.4M197.0 492.25h3.4M210.6 492.25h3.4M220.8 492.25h3.4M282.0 492.25h3.4M329.6 492.25h3.4M384.0 492.25h3.4M390.8 492.25h3.4M424.8 492.25h3.4M520.0 492.25h10.2M588.0 492.25h3.4M628.8 492.25h3.4M635.6 492.25h3.4M98.4 500.75h10.2M190.2 500.75h3.4M200.4 500.75h3.4M227.6 500.75h3.4M499.6 500.75h3.4M513.2 500.75h3.4M520.0 500.75h6.8M594.8 500.75h3.4M186.8 509.25h3.4M200.4 509.25h3.4M207.2 509.25h3.4M214.0 509.25h3.4M397.6 509.25h6.8M424.8 509.25h3.4M486.0 509.25h3.4M628.8 509.25h6.8M190.2 517.75h3.4M214.0 517.75h20.4M288.8 517.75h6.8M302.4 517.75h3.4M319.4 517.75h3.4M384.0 517.75h3.4M394.2 517.75h10.2M428.2 517.75h3.4M496.2 517.75h17.0M520.0 517.75h3.4M530.2 517.75h3.4M591.4 517.75h3.4M625.4 517.75h3.4M190.2 526.25h17.0M227.6 526.25h6.8M285.4 526.25h3.4M292.2 526.25h3.4M397.6 526.25h3.4M414.6 526.25h3.4M428.2 526.25h3.4M482.6 526.25h3.4M492.8 526.25h27.2M523.4 526.25h10.2M591.4 526.25h3.4M598.2 526.25h3.4M635.6 526.25h3.4M101.8 534.75h10.2M186.8 534.75h3.4M227.6 534.75h3.4M285.4 534.75h3.4M299.0 534.75h3.4M309.2 534.75h3.4M326.2 534.75h3.4M428.2 534.75h3.4M482.6 534.75h3.4M591.4 534.75h3.4M601.6 534.75h6.8M628.8 534.75h6.8M193.6 543.25h3.4M220.8 543.25h10.2M288.8 543.25h3.4M384.0 543.25h3.4M421.4 543.25h3.4M526.8 543.25h3.4M591.4 543.25h3.4M605.0 543.25h3.4M628.8 543.25h6.8M88.2 551.75h6.8M183.4 551.75h3.4M227.6 551.75h3.4M285.4 551.75h3.4M326.2 551.75h3.4M428.2 551.75h3.4M526.8 551.75h3.4M601.6 551.75h3.4M95.0 560.25h3.4M101.8 560.25h3.4M115.4 560.25h3.4M183.4 560.25h3.4M190.2 560.25h3.4M282.0 560.25h6.8M424.8 560.25h3.4M615.2 560.25h3.4M105.2 568.75h6.8M190.2 568.75h3.4M282.0 568.75h3.4M326.2 568.75h3.4M384.0 568.75h6.8M482.6 568.75h3.4M520.0 568.75h3.4M594.8 568.75h3.4M625.4 568.75h3.4M98.4 577.25h10.2M186.8 577.25h3.4M207.2 577.25h3.4M214.0 577.25h6.8M384.0 577.25h3.4M414.6 577.25h3.4M594.8 577.25h3.4M625.4 577.25h3.4M159.6 628.25h3.4"/>
<path stroke="rgb(128,128,128)" d="M299.0 305.25h6.8M404.4 305.25h3.4M605.0 305.25h3.4M299.0 313.75h6.8M401.0 313.75h3.4M407.8 313.75h3.4M394.2 322.25h3.4M401.0 322.25h3.4M407.8 322.25h6.8M214.0 330.75h3.4M200.4 339.25h3.4M309.2 339.25h6.8M394.2 339.25h3.4M411.2 339.25h3.4M499.6 339.25h3.4M295.6 347.75h10.2M499.6 347.75h6.8M295.6 356.25h6.8M390.8 356.25h3.4M509.8 356.25h6.8M598.2 356.25h3.4M193.6 364.75h3.4M394.2 364.75h3.4M598.2 364.75h6.8M193.6 373.25h13.6M312.6 373.25h6.8M394.2 373.25h10.2M492.8 373.25h13.6M520.0 373.25h3.4M601.6 373.25h3.4M618.6 373.25h3.4M193.6 381.75h3.4M203.8 381.75h3.4M220.8 381.75h3.4M411.2 381.75h3.4M513.2 381.75h6.8M598.2 381.75h6.8M615.2 381.75h3.4M628.8 381.75h3.4M193.6 390.25h3.4M288.8 390.25h3.4M401.0 390.25h10.2M414.6 390.25h3.4M492.8 390.25h6.8M503.0 390.25h3.4M605.0 390.25h6.8M625.4 390.25h3.4M217.4 398.75h3.4M316.0 398.75h6.8M387.4 398.75h6.8M397.6 398.75h13.6M418.0 398.75h6.8M489.4 398.75h3.4M509.8 398.75h3.4M523.4 398.75h3.4M601.6 398.75h17.0M628.8 398.75h3.4M193.6 407.25h3.4M207.2 407.25h3.4M288.8 407.25h6.8M309.2 407.25h3.4M407.8 407.25h10.2M482.6 407.25h3.4M492.8 407.25h3.4M526.8 407.25h3.4M618.6 407.25h3.4M98.4 415.75h6.8M200.4 415.75h3.4M217.4 415.75h3.4M282.0 415.75h17.0M316.0 415.75h3.4M390.8 415.75h3.4M397.6 415.75h3.4M414.6 415.75h10.2M489.4 415.75h6.8M523.4 415.75h3.4M591.4 415.75h3.4M112.0 424.25h3.4M190.2 424.25h3.4M227.6 424.25h3.4M285.4 424.25h3.4M309.2 424.25h3.4M387.4 424.25h3.4M394.2 424.25h3.4M401.0 424.25h3.4M424.8 424.25h3.4M486.0 424.25h3.4M625.4 424.25h10.2M98.4 432.75h3.4M105.2 432.75h3.4M186.8 432.75h3.4M282.0 432.75h3.4M380.6 432.75h3.4M394.2 432.75h3.4M486.0 432.75h10.2M594.8 432.75h3.4M183.4 441.25h3.4M224.2 441.25h6.8M309.2 441.25h3.4M326.2 441.25h3.4M384.0 441.25h3.4M424.8 441.25h3.4M108.6 449.75h3.4M186.8 449.75h6.8M224.2 449.75h6.8M278.6 449.75h3.4M377.2 449.75h3.4M431.6 449.75h3.4M482.6 449.75h3.4M588.0 449.75h3.4M598.2 449.75h3.4M615.2 449.75h3.4M639.0 449.75h3.4M84.8 458.25h3.4M105.2 458.25h6.8M183.4 458.25h3.4M234.4 458.25h3.4M285.4 458.25h3.4M431.6 458.25h6.8M526.8 458.25h3.4M88.2 466.75h17.0M115.4 466.75h6.8M231.0 466.75h3.4M282.0 466.75h3.4M380.6 466.75h3.4M428.2 466.75h6.8M482.6 466.75h3.4M530.2 466.75h3.4M598.2 466.75h10.2M108.6 475.25h3.4M183.4 475.25h3.4M227.6 475.25h6.8M282.0 475.25h6.8M316.0 475.25h3.4M322.8 475.25h3.4M387.4 475.25h3.4M424.8 475.25h3.4M486.0 475.25h3.4M526.8 475.25h3.4M628.8 475.25h3.4M190.2 483.75h3.4M288.8 483.75h10.2M322.8 483.75h6.8M387.4 483.75h3.4M407.8 483.75h3.4M428.2 483.75h3.4M516.6 483.75h13.6M591.4 483.75h10.2M615.2 483.75h6.8M193.6 492.25h3.4M214.0 492.25h6.8M285.4 492.25h3.4M295.6 492.25h13.6M326.2 492.25h3.4M394.2 492.25h6.8M482.6 492.25h3.4M492.8 492.25h10.2M506.4 492.25h3.4M513.2 492.25h6.8M591.4 492.25h3.4M608.4 492.25h6.8M622.0 492.25h6.8M632.2 492.25h3.4M214.0 500.75h13.6M288.8 500.75h3.4M295.6 500.75h10.2M326.2 500.75h3.4M384.0 500.75h3.4M414.6 500.75h17.0M482.6 500.75h3.4M516.6 500.75h3.4M632.2 500.75h3.4M190.2 509.25h10.2M203.8 509.25h3.4M210.6 509.25h3.4M224.2 509.25h10.2M329.6 509.25h3.4M384.0 509.25h13.6M421.4 509.25h3.4M489.4 509.25h3.4M526.8 509.25h3.4M594.8 509.25h3.4M611.8 509.25h13.6M210.6 517.75h3.4M295.6 517.75h6.8M387.4 517.75h6.8M523.4 517.75h6.8M594.8 517.75h3.4M601.6 517.75h3.4M622.0 517.75h3.4M628.8 517.75h10.2M207.2 526.25h3.4M217.4 526.25h3.4M295.6 526.25h6.8M305.8 526.25h6.8M384.0 526.25h3.4M394.2 526.25h3.4M401.0 526.25h6.8M411.2 526.25h3.4M418.0 526.25h10.2M486.0 526.25h6.8M520.0 526.25h3.4M594.8 526.25h3.4M601.6 526.25h13.6M190.2 534.75h3.4M217.4 534.75h10.2M292.2 534.75h6.8M380.6 534.75h17.0M418.0 534.75h10.2M486.0 534.75h6.8M496.2 534.75h10.2M513.2 534.75h10.2M594.8 534.75h3.4M608.4 534.75h3.4M197.0 543.25h6.8M217.4 543.25h3.4M299.0 543.25h3.4M322.8 543.25h3.4M387.4 543.25h6.8M486.0 543.25h3.4M496.2 543.25h6.8M520.0 543.25h6.8M594.8 543.25h3.4M224.2 551.75h3.4M605.0 551.75h3.4M622.0 551.75h3.4M98.4 560.25h3.4M108.6 560.25h6.8M220.8 560.25h10.2M322.8 560.25h6.8M380.6 560.25h3.4M418.0 560.25h3.4M482.6 560.25h3.4M520.0 560.25h10.2M591.4 560.25h3.4M611.8 560.25h3.4M224.2 568.75h3.4M322.8 568.75h3.4M390.8 568.75h3.4M421.4 568.75h3.4M628.8 568.75h3.4M190.2 577.25h17.0M210.6 577.25h3.4M285.4 577.25h3.4M387.4 577.25h3.4M489.4 577.25h3.4M598.2 577.25h3.4M611.8 577.25h3.4"/>
<path stroke="rgb(109,109,109)" d="M397.6 339.25h13.6M404.4 356.25h3.4M492.8 356.25h17.0M305.8 373.25h6.8M390.8 373.25h3.4M605.0 373.25h3.4M611.8 373.25h6.8M207.2 381.75h13.6M401.0 381.75h10.2M618.6 381.75h3.4M625.4 381.75h3.4M292.2 390.25h6.8M309.2 390.25h10.2M411.2 390.25h3.4M499.6 390.25h3.4M506.4 390.25h10.2M611.8 390.25h3.4M622.0 390.25h3.4M200.4 398.75h3.4M214.0 398.75h3.4M220.8 398.75h6.8M292.2 398.75h3.4M394.2 398.75h3.4M492.8 398.75h6.8M506.4 398.75h3.4M513.2 398.75h10.2M618.6 398.75h3.4M190.2 407.25h3.4M210.6 407.25h6.8M295.6 407.25h13.6M319.4 407.25h3.4M384.0 407.25h10.2M401.0 407.25h6.8M486.0 407.25h6.8M509.8 407.25h3.4M523.4 407.25h3.4M608.4 407.25h10.2M186.8 415.75h13.6M203.8 415.75h3.4M220.8 415.75h10.2M299.0 415.75h3.4M305.8 415.75h3.4M319.4 415.75h10.2M387.4 415.75h3.4M401.0 415.75h3.4M411.2 415.75h3.4M496.2 415.75h23.8M628.8 415.75h3.4M105.2 424.25h6.8M214.0 424.25h3.4M220.8 424.25h6.8M288.8 424.25h3.4M305.8 424.25h3.4M322.8 424.25h6.8M390.8 424.25h3.4M397.6 424.25h3.4M421.4 424.25h3.4M489.4 424.25h13.6M520.0 424.25h6.8M594.8 424.25h3.4M611.8 424.25h3.4M618.6 424.25h6.8M101.8 432.75h3.4M224.2 432.75h6.8M387.4 432.75h6.8M397.6 432.75h6.8M418.0 432.75h3.4M424.8 432.75h3.4M526.8 432.75h3.4M598.2 432.75h3.4M608.4 432.75h3.4M632.2 432.75h3.4M200.4 441.25h3.4M220.8 441.25h3.4M231.0 441.25h3.4M282.0 441.25h3.4M305.8 441.25h3.4M414.6 441.25h3.4M503.0 441.25h3.4M520.0 441.25h3.4M591.4 441.25h3.4M91.6 449.75h3.4M101.8 449.75h6.8M299.0 449.75h3.4M380.6 449.75h6.8M533.6 449.75h3.4M591.4 449.75h6.8M635.6 449.75h3.4M88.2 458.25h3.4M186.8 458.25h3.4M193.6 458.25h3.4M482.6 458.25h3.4M520.0 458.25h6.8M632.2 458.25h3.4M186.8 466.75h6.8M329.6 466.75h6.8M421.4 466.75h6.8M492.8 466.75h3.4M526.8 466.75h3.4M591.4 466.75h3.4M186.8 475.25h6.8M224.2 475.25h3.4M288.8 475.25h3.4M319.4 475.25h3.4M390.8 475.25h3.4M421.4 475.25h3.4M489.4 475.25h3.4M506.4 475.25h3.4M516.6 475.25h3.4M588.0 475.25h6.8M625.4 475.25h3.4M193.6 483.75h10.2M210.6 483.75h3.4M299.0 483.75h3.4M316.0 483.75h6.8M411.2 483.75h3.4M418.0 483.75h10.2M513.2 483.75h3.4M601.6 483.75h3.4M288.8 492.25h3.4M312.6 492.25h13.6M404.4 492.25h3.4M414.6 492.25h10.2M503.0 492.25h3.4M509.8 492.25h3.4M203.8 500.75h10.2M292.2 500.75h3.4M305.8 500.75h3.4M319.4 500.75h6.8M411.2 500.75h3.4M496.2 500.75h3.4M598.2 500.75h3.4M608.4 500.75h6.8M628.8 500.75h3.4M285.4 509.25h6.8M302.4 509.25h17.0M404.4 509.25h10.2M418.0 509.25h3.4M492.8 509.25h13.6M509.8 509.25h17.0M598.2 509.25h3.4M605.0 509.25h6.8M625.4 509.25h3.4M193.6 517.75h6.8M404.4 517.75h10.2M424.8 517.75h3.4M598.2 517.75h3.4M605.0 517.75h6.8M618.6 517.75h3.4M210.6 526.25h6.8M302.4 526.25h3.4M312.6 526.25h6.8M326.2 526.25h3.4M387.4 526.25h6.8M407.8 526.25h3.4M615.2 526.25h3.4M628.8 526.25h6.8M193.6 534.75h10.2M210.6 534.75h6.8M288.8 534.75h3.4M302.4 534.75h6.8M397.6 534.75h6.8M407.8 534.75h3.4M492.8 534.75h3.4M506.4 534.75h6.8M611.8 534.75h3.4M618.6 534.75h10.2M203.8 543.25h6.8M302.4 543.25h3.4M309.2 543.25h3.4M319.4 543.25h3.4M418.0 543.25h3.4M503.0 543.25h3.4M516.6 543.25h3.4M186.8 551.75h3.4M220.8 551.75h3.4M288.8 551.75h3.4M322.8 551.75h3.4M384.0 551.75h3.4M486.0 551.75h6.8M499.6 551.75h3.4M506.4 551.75h3.4M516.6 551.75h10.2M608.4 551.75h3.4M615.2 551.75h6.8M105.2 560.25h3.4M319.4 560.25h3.4M384.0 560.25h3.4M394.2 560.25h6.8M414.6 560.25h3.4M421.4 560.25h3.4M486.0 560.25h3.4M513.2 560.25h6.8M594.8 560.25h3.4M605.0 560.25h6.8M618.6 560.25h6.8M200.4 568.75h3.4M207.2 568.75h13.6M285.4 568.75h3.4M302.4 568.75h20.4M394.2 568.75h3.4M418.0 568.75h3.4M486.0 568.75h6.8M288.8 577.25h6.8M299.0 577.25h10.2M390.8 577.25h6.8M404.4 577.25h10.2M492.8 577.25h3.4M503.0 577.25h17.0M601.6 577.25h3.4"/>
<path stroke="rgb(91,91,91)" d="M394.2 356.25h10.2M608.4 373.25h3.4M622.0 381.75h3.4M305.8 390.25h3.4M615.2 390.25h6.8M203.8 398.75h3.4M210.6 398.75h3.4M295.6 398.75h3.4M312.6 398.75h3.4M411.2 398.75h6.8M499.6 398.75h6.8M197.0 407.25h3.4M203.8 407.25h3.4M394.2 407.25h6.8M513.2 407.25h10.2M207.2 415.75h3.4M302.4 415.75h3.4M404.4 415.75h6.8M520.0 415.75h3.4M594.8 415.75h17.0M193.6 424.25h3.4M210.6 424.25h3.4M217.4 424.25h3.4M292.2 424.25h3.4M302.4 424.25h3.4M319.4 424.25h3.4M404.4 424.25h3.4M503.0 424.25h6.8M608.4 424.25h3.4M615.2 424.25h3.4M190.2 432.75h3.4M220.8 432.75h3.4M285.4 432.75h3.4M384.0 432.75h3.4M404.4 432.75h13.6M421.4 432.75h3.4M496.2 432.75h3.4M503.0 432.75h3.4M601.6 432.75h6.8M628.8 432.75h3.4M186.8 441.25h3.4M203.8 441.25h3.4M217.4 441.25h3.4M285.4 441.25h10.2M302.4 441.25h3.4M312.6 441.25h3.4M322.8 441.25h3.4M387.4 441.25h3.4M418.0 441.25h3.4M492.8 441.25h10.2M635.6 441.25h3.4M95.0 449.75h6.8M193.6 449.75h3.4M220.8 449.75h3.4M282.0 449.75h3.4M295.6 449.75h3.4M312.6 449.75h6.8M414.6 449.75h3.4M428.2 449.75h3.4M530.2 449.75h3.4M601.6 449.75h13.6M98.4 458.25h6.8M190.2 458.25h3.4M231.0 458.25h3.4M288.8 458.25h6.8M380.6 458.25h3.4M428.2 458.25h3.4M486.0 458.25h3.4M588.0 458.25h6.8M193.6 466.75h10.2M224.2 466.75h6.8M285.4 466.75h3.4M326.2 466.75h3.4M384.0 466.75h3.4M418.0 466.75h3.4M486.0 466.75h6.8M496.2 466.75h3.4M594.8 466.75h3.4M608.4 466.75h3.4M628.8 466.75h3.4M193.6 475.25h3.4M214.0 475.25h3.4M220.8 475.25h3.4M292.2 475.25h3.4M418.0 475.25h3.4M492.8 475.25h13.6M509.8 475.25h3.4M520.0 475.25h6.8M594.8 475.25h3.4M618.6 475.25h6.8M203.8 483.75h6.8M302.4 483.75h3.4M390.8 483.75h3.4M414.6 483.75h3.4M489.4 483.75h3.4M509.8 483.75h3.4M605.0 483.75h3.4M292.2 492.25h3.4M309.2 492.25h3.4M401.0 492.25h3.4M407.8 492.25h6.8M594.8 492.25h3.4M605.0 492.25h3.4M309.2 500.75h10.2M394.2 500.75h6.8M404.4 500.75h6.8M486.0 500.75h3.4M492.8 500.75h3.4M601.6 500.75h6.8M615.2 500.75h13.6M292.2 509.25h10.2M319.4 509.25h10.2M414.6 509.25h3.4M506.4 509.25h3.4M601.6 509.25h3.4M200.4 517.75h10.2M414.6 517.75h3.4M421.4 517.75h3.4M611.8 517.75h6.8M322.8 526.25h3.4M618.6 526.25h10.2M203.8 534.75h6.8M404.4 534.75h3.4M615.2 534.75h3.4M210.6 543.25h6.8M305.8 543.25h3.4M312.6 543.25h6.8M401.0 543.25h3.4M190.2 551.75h17.0M292.2 551.75h3.4M312.6 551.75h3.4M319.4 551.75h3.4M404.4 551.75h17.0M492.8 551.75h6.8M503.0 551.75h3.4M509.8 551.75h6.8M217.4 560.25h3.4M288.8 560.25h6.8M312.6 560.25h6.8M387.4 560.25h6.8M401.0 560.25h3.4M489.4 560.25h6.8M601.6 560.25h3.4M203.8 568.75h3.4M220.8 568.75h3.4M299.0 568.75h3.4M407.8 568.75h3.4M414.6 568.75h3.4M492.8 568.75h6.8M503.0 568.75h6.8M513.2 568.75h6.8M598.2 568.75h3.4M615.2 568.75h3.4M295.6 577.25h3.4M496.2 577.25h6.8"/>
<path stroke="rgb(73,73,73)" d="M207.2 398.75h3.4M299.0 398.75h13.6M200.4 407.25h3.4M217.4 407.25h6.8M625.4 415.75h3.4M197.0 424.25h3.4M207.2 424.25h3.4M407.8 424.25h3.4M598.2 424.25h3.4M605.0 424.25h3.4M193.6 432.75h10.2M288.8 432.75h6.8M322.8 432.75h6.8M499.6 432.75h3.4M506.4 432.75h3.4M523.4 432.75h3.4M611.8 432.75h6.8M622.0 432.75h6.8M295.6 441.25h6.8M411.2 441.25h3.4M594.8 441.25h3.4M622.0 441.25h13.6M302.4 449.75h3.4M309.2 449.75h3.4M319.4 449.75h3.4M407.8 449.75h3.4M418.0 449.75h3.4M486.0 449.75h3.4M526.8 449.75h3.4M618.6 449.75h3.4M625.4 449.75h3.4M632.2 449.75h3.4M91.6 458.25h6.8M197.0 458.25h3.4M384.0 458.25h3.4M424.8 458.25h3.4M492.8 458.25h13.6M628.8 458.25h3.4M217.4 466.75h3.4M288.8 466.75h3.4M387.4 466.75h10.2M414.6 466.75h3.4M523.4 466.75h3.4M207.2 475.25h6.8M217.4 475.25h3.4M309.2 475.25h6.8M513.2 475.25h3.4M598.2 475.25h3.4M611.8 475.25h6.8M312.6 483.75h3.4M492.8 483.75h17.0M598.2 492.25h6.8M401.0 500.75h3.4M489.4 500.75h3.4M418.0 517.75h3.4M319.4 526.25h3.4M404.4 543.25h3.4M414.6 543.25h3.4M506.4 543.25h3.4M207.2 551.75h13.6M295.6 551.75h3.4M309.2 551.75h3.4M387.4 551.75h3.4M401.0 551.75h3.4M611.8 551.75h3.4M200.4 560.25h3.4M214.0 560.25h3.4M295.6 560.25h6.8M309.2 560.25h3.4M404.4 560.25h3.4M411.2 560.25h3.4M598.2 560.25h3.4M625.4 560.25h6.8M288.8 568.75h3.4M295.6 568.75h3.4M397.6 568.75h10.2M411.2 568.75h3.4M499.6 568.75h3.4M509.8 568.75h3.4M601.6 568.75h3.4M611.8 568.75h3.4"/>
<path stroke="rgb(55,55,55)" d="M611.8 415.75h3.4M411.2 424.25h3.4M509.8 424.25h10.2M601.6 424.25h3.4M203.8 432.75h6.8M214.0 432.75h6.8M295.6 432.75h10.2M312.6 432.75h3.4M509.8 432.75h3.4M520.0 432.75h3.4M618.6 432.75h3.4M190.2 441.25h3.4M207.2 441.25h10.2M407.8 441.25h3.4M618.6 441.25h3.4M197.0 449.75h6.8M285.4 449.75h3.4M292.2 449.75h3.4M305.8 449.75h3.4M322.8 449.75h3.4M387.4 449.75h6.8M411.2 449.75h3.4M421.4 449.75h6.8M622.0 449.75h3.4M628.8 449.75h3.4M214.0 458.25h6.8M224.2 458.25h6.8M295.6 458.25h3.4M316.0 458.25h17.0M394.2 458.25h3.4M421.4 458.25h3.4M489.4 458.25h3.4M516.6 458.25h3.4M220.8 466.75h3.4M292.2 466.75h3.4M319.4 466.75h6.8M397.6 466.75h3.4M499.6 466.75h6.8M611.8 466.75h3.4M625.4 466.75h3.4M197.0 475.25h3.4M295.6 475.25h3.4M302.4 475.25h6.8M414.6 475.25h3.4M601.6 475.25h3.4M608.4 475.25h3.4M305.8 483.75h6.8M407.8 543.25h6.8M299.0 551.75h6.8M316.0 551.75h3.4M397.6 551.75h3.4M203.8 560.25h10.2M407.8 560.25h3.4M496.2 560.25h3.4M509.8 560.25h3.4M292.2 568.75h3.4M605.0 568.75h6.8"/>
<path stroke="rgb(36,36,36)" d="M615.2 415.75h10.2M200.4 424.25h6.8M210.6 432.75h3.4M513.2 432.75h3.4M390.8 441.25h3.4M404.4 441.25h3.4M506.4 441.25h3.4M516.6 441.25h3.4M598.2 441.25h3.4M615.2 441.25h3.4M207.2 449.75h6.8M489.4 449.75h3.4M520.0 449.75h6.8M220.8 458.25h3.4M299.0 458.25h3.4M418.0 458.25h3.4M506.4 458.25h10.2M601.6 458.25h6.8M401.0 466.75h3.4M411.2 466.75h3.4M506.4 466.75h10.2M622.0 466.75h3.4M200.4 475.25h3.4M299.0 475.25h3.4M394.2 475.25h3.4M605.0 475.25h3.4M305.8 551.75h3.4"/>
<path stroke="rgb(18,18,18)" d="M516.6 432.75h3.4M394.2 441.25h3.4M401.0 441.25h3.4M513.2 441.25h3.4M601.6 441.25h3.4M611.8 441.25h3.4M203.8 449.75h3.4M288.8 449.75h3.4M401.0 449.75h6.8M492.8 449.75h6.8M513.2 449.75h6.8M200.4 458.25h3.4M210.6 458.25h3.4M312.6 458.25h3.4M397.6 458.25h3.4M411.2 458.25h6.8M608.4 458.25h10.2M625.4 458.25h3.4M203.8 466.75h3.4M210.6 466.75h6.8M295.6 466.75h23.8M404.4 466.75h6.8M615.2 466.75h6.8M203.8 475.25h3.4M397.6 475.25h3.4M411.2 475.25h3.4M499.6 560.25h10.2"/>
<path stroke="rgb(10,10,10)" d="M397.6 441.25h3.4M509.8 441.25h3.4M605.0 441.25h6.8M394.2 449.75h6.8M499.6 449.75h13.6M203.8 458.25h6.8M302.4 458.25h10.2M401.0 458.25h10.2M618.6 458.25h6.8M207.2 466.75h3.4M401.0 475.25h10.2"/>
</g>
<line x1="60.2" y1="45" x2="60.2" y2="641.4" stroke="#000" stroke-width="2.2" stroke-linecap="butt"/>
<line x1="59.1" y1="640.4" x2="663" y2="640.4" stroke="#000" stroke-width="2.2" stroke-linecap="butt"/>
<line x1="54.8" y1="640.3" x2="60" y2="640.3" stroke="#333" stroke-width="1.6" stroke-linecap="butt"/>
<text x="50.3" y="648.9" font-size="24" fill="#4d4d4d" text-anchor="end" font-family='"Liberation Sans", Arial, Helvetica, sans-serif'>0</text>
<line x1="54.8" y1="541.3" x2="60" y2="541.3" stroke="#333" stroke-width="1.6" stroke-linecap="butt"/>
<text x="50.3" y="549.9" font-size="24" fill="#4d4d4d" text-anchor="end" font-family='"Liberation Sans", Arial, Helvetica, sans-serif'>1</text>
<line x1="54.8" y1="442.3" x2="60" y2="442.3" stroke="#333" stroke-width="1.6" stroke-linecap="butt"/>
<text x="50.3" y="450.90000000000003" font-size="24" fill="#4d4d4d" text-anchor="end" font-family='"Liberation Sans", Arial, Helvetica, sans-serif'>2</text>
<line x1="54.8" y1="343.3" x2="60" y2="343.3" stroke="#333" stroke-width="1.6" stroke-linecap="butt"/>
<text x="50.3" y="351.90000000000003" font-size="24" fill="#4d4d4d" text-anchor="end" font-family='"Liberation Sans", Arial, Helvetica, sans-serif'>3</text>
<line x1="54.8" y1="244.3" x2="60" y2="244.3" stroke="#333" stroke-width="1.6" stroke-linecap="butt"/>
<text x="50.3" y="252.9" font-size="24" fill="#4d4d4d" text-anchor="end" font-family='"Liberation Sans", Arial, Helvetica, sans-serif'>4</text>
<line x1="54.8" y1="145.3" x2="60" y2="145.3" stroke="#333" stroke-width="1.6" stroke-linecap="butt"/>
<text x="50.3" y="153.9" font-size="24" fill="#4d4d4d" text-anchor="end" font-family='"Liberation Sans", Arial, Helvetica, sans-serif'>5</text>
<line x1="54.8" y1="46.3" x2="60" y2="46.3" stroke="#333" stroke-width="1.6" stroke-linecap="butt"/>
<text x="50.3" y="54.9" font-size="24" fill="#4d4d4d" text-anchor="end" font-family='"Liberation Sans", Arial, Helvetica, sans-serif'>6</text>
<text x="25.3" y="343.7" font-size="31" fill="#000" text-anchor="middle" font-family='"Liberation Sans", Arial, Helvetica, sans-serif' textLength="236" lengthAdjust="spacingAndGlyphs" transform="rotate(-90 25.3 343.7)">Frequency (kHz)</text>
<text x="4.0" y="38.4" font-size="48.5" fill="#000" text-anchor="start" font-family='"Liberation Sans", Arial, Helvetica, sans-serif' font-weight="bold">a</text>
<path d="M84.4 125.5V111.9H609.1V125.5M191.5 111.9V125.5M290.5 111.9V125.5M394.9 111.9V125.5M501.1 111.9V125.5" fill="none" stroke="#000" stroke-width="2.4"/>
<text x="335" y="101.8" font-size="25" fill="#000" text-anchor="middle" font-family='"DejaVu Sans", Verdana, sans-serif' textLength="68" lengthAdjust="spacingAndGlyphs">notes</text>
<path d="M191 715V701.9H612.4V715" fill="none" stroke="#000" stroke-width="2.4"/>
<text x="398" y="696" font-size="25" fill="#000" text-anchor="middle" font-family='"DejaVu Sans", Verdana, sans-serif' textLength="172" lengthAdjust="spacingAndGlyphs">duration 90%</text>
<polygon points="61.0,858.9 61.5,859.9 62.0,858.3 62.5,859.1 63.0,859.9 63.5,859.9 64.0,859.9 64.5,859.1 65.0,858.3 65.5,860.0 66.0,859.2 66.5,859.5 67.0,859.6 67.5,859.4 68.0,858.7 68.5,859.7 69.0,859.7 69.5,859.0 70.0,859.0 70.5,859.6 71.0,859.1 71.5,859.9 72.0,857.5 72.5,858.0 73.0,859.1 73.5,857.7 74.0,859.8 74.5,859.5 75.0,859.2 75.5,859.5 76.0,859.9 76.5,859.1 77.0,858.4 77.5,859.8 78.0,859.2 78.5,859.4 79.0,859.9 79.5,859.7 80.0,859.6 80.5,859.5 81.0,859.5 81.5,860.0 82.0,859.8 82.5,859.8 83.0,858.8 83.5,859.7 84.0,858.9 84.5,859.6 85.0,859.4 85.5,859.9 86.0,859.6 86.5,859.1 87.0,859.7 87.5,859.9 88.0,858.9 88.5,858.4 89.0,859.3 89.5,859.3 90.0,859.4 90.5,857.6 91.0,859.0 91.5,859.0 92.0,858.9 92.5,860.0 93.0,858.1 93.5,859.4 94.0,859.2 94.5,859.4 95.0,859.3 95.5,859.7 96.0,859.1 96.5,858.6 97.0,858.9 97.5,859.3 98.0,859.6 98.5,859.1 99.0,859.2 99.5,858.8 100.0,858.5 100.5,858.3 101.0,856.8 101.5,855.8 102.0,853.4 102.5,848.4 103.0,851.6 103.5,852.1 104.0,856.0 104.5,853.8 105.0,853.0 105.5,852.6 106.0,851.2 106.5,847.7 107.0,848.5 107.5,845.0 108.0,837.9 108.5,829.1 109.0,806.5 109.5,834.8 110.0,835.7 110.5,840.4 111.0,843.3 111.5,842.6 112.0,848.3 112.5,852.0 113.0,852.7 113.5,853.7 114.0,855.0 114.5,854.9 115.0,854.3 115.5,854.9 116.0,855.1 116.5,856.7 117.0,855.4 117.5,856.0 118.0,855.6 118.5,854.0 119.0,851.5 119.5,851.1 120.0,851.3 120.5,853.0 121.0,856.4 121.5,854.5 122.0,852.4 122.5,854.6 123.0,854.9 123.5,850.8 124.0,853.8 124.5,855.2 125.0,854.6 125.5,855.6 126.0,854.1 126.5,854.2 127.0,854.6 127.5,854.5 128.0,853.5 128.5,854.5 129.0,853.3 129.5,855.3 130.0,856.8 130.5,857.6 131.0,857.6 131.5,857.5 132.0,857.8 132.5,858.7 133.0,858.8 133.5,858.3 134.0,859.1 134.5,858.1 135.0,859.4 135.5,858.4 136.0,858.7 136.5,859.2 137.0,859.8 137.5,859.3 138.0,859.9 138.5,858.6 139.0,858.7 139.5,859.7 140.0,859.9 140.5,859.5 141.0,857.9 141.5,859.5 142.0,859.2 142.5,859.5 143.0,859.0 143.5,859.9 144.0,858.9 144.5,859.7 145.0,858.1 145.5,859.8 146.0,859.5 146.5,857.3 147.0,859.1 147.5,857.5 148.0,857.1 148.5,859.4 149.0,858.7 149.5,858.9 150.0,859.4 150.5,858.3 151.0,857.8 151.5,859.8 152.0,859.9 152.5,858.7 153.0,858.6 153.5,859.5 154.0,859.0 154.5,857.9 155.0,859.1 155.5,858.5 156.0,859.6 156.5,858.2 157.0,859.7 157.5,860.0 158.0,859.5 158.5,860.0 159.0,858.1 159.5,859.6 160.0,860.0 160.5,859.4 161.0,859.2 161.5,856.8 162.0,859.4 162.5,859.7 163.0,859.7 163.5,859.4 164.0,859.5 164.5,859.4 165.0,859.8 165.5,858.6 166.0,859.8 166.5,859.5 167.0,859.7 167.5,859.2 168.0,859.3 168.5,857.7 169.0,859.9 169.5,859.0 170.0,859.5 170.5,858.9 171.0,859.3 171.5,859.4 172.0,859.3 172.5,858.9 173.0,858.3 173.5,859.9 174.0,857.6 174.5,859.1 175.0,859.3 175.5,859.5 176.0,859.8 176.5,860.0 177.0,858.1 177.5,858.8 178.0,859.9 178.5,859.5 179.0,859.5 179.5,859.5 180.0,860.0 180.5,859.0 181.0,857.5 181.5,859.9 182.0,858.1 182.5,859.6 183.0,859.7 183.5,860.0 184.0,859.2 184.5,859.3 185.0,859.3 185.5,859.5 186.0,859.4 186.5,858.7 187.0,859.7 187.5,859.8 188.0,858.1 188.5,858.6 189.0,859.0 189.5,859.5 190.0,859.7 190.5,859.2 191.0,858.5 191.5,857.8 192.0,857.5 192.5,856.3 193.0,855.7 193.5,844.3 194.0,838.5 194.5,854.1 195.0,848.2 195.5,852.3 196.0,845.1 196.5,846.2 197.0,845.9 197.5,845.6 198.0,844.2 198.5,842.3 199.0,844.5 199.5,840.5 200.0,840.2 200.5,822.0 201.0,803.0 201.5,834.2 202.0,856.0 202.5,836.6 203.0,836.8 203.5,834.9 204.0,839.1 204.5,846.9 205.0,854.0 205.5,851.8 206.0,849.0 206.5,849.1 207.0,848.1 207.5,847.0 208.0,851.5 208.5,842.1 209.0,836.4 209.5,842.8 210.0,829.5 210.5,833.8 211.0,831.1 211.5,825.5 212.0,817.8 212.5,815.8 213.0,823.2 213.5,814.3 214.0,800.6 214.5,763.4 215.0,762.5 215.5,804.8 216.0,791.3 216.5,804.0 217.0,807.5 217.5,822.0 218.0,817.3 218.5,838.7 219.0,830.8 219.5,833.0 220.0,844.1 220.5,836.9 221.0,842.8 221.5,844.5 222.0,848.1 222.5,850.4 223.0,847.5 223.5,849.1 224.0,849.8 224.5,851.7 225.0,852.7 225.5,853.1 226.0,856.0 226.5,854.9 227.0,855.9 227.5,856.5 228.0,854.1 228.5,854.0 229.0,855.0 229.5,856.3 230.0,856.2 230.5,856.5 231.0,856.5 231.5,857.4 232.0,858.6 232.5,857.9 233.0,858.0 233.5,858.5 234.0,858.8 234.5,858.8 235.0,859.3 235.5,858.4 236.0,859.7 236.5,858.0 237.0,858.2 237.5,860.0 238.0,859.9 238.5,859.6 239.0,859.3 239.5,859.1 240.0,857.7 240.5,858.9 241.0,858.5 241.5,859.1 242.0,859.8 242.5,859.9 243.0,858.0 243.5,860.0 244.0,859.7 244.5,859.2 245.0,859.5 245.5,859.0 246.0,859.8 246.5,859.0 247.0,859.5 247.5,858.9 248.0,859.6 248.5,858.5 249.0,857.9 249.5,857.7 250.0,859.0 250.5,859.9 251.0,858.8 251.5,859.2 252.0,860.0 252.5,857.0 253.0,857.9 253.5,859.9 254.0,856.8 254.5,858.6 255.0,859.7 255.5,859.7 256.0,859.5 256.5,859.7 257.0,859.0 257.5,858.3 258.0,859.8 258.5,859.3 259.0,859.8 259.5,859.7 260.0,859.0 260.5,859.5 261.0,859.7 261.5,859.1 262.0,859.6 262.5,858.9 263.0,858.0 263.5,859.1 264.0,859.2 264.5,857.2 265.0,859.4 265.5,858.6 266.0,859.5 266.5,859.8 267.0,859.8 267.5,859.2 268.0,859.9 268.5,857.5 269.0,860.0 269.5,859.7 270.0,859.4 270.5,858.2 271.0,859.6 271.5,859.0 272.0,858.8 272.5,859.8 273.0,859.9 273.5,858.0 274.0,859.1 274.5,858.9 275.0,859.7 275.5,858.0 276.0,859.9 276.5,859.2 277.0,859.5 277.5,859.6 278.0,859.1 278.5,859.9 279.0,859.7 279.5,859.4 280.0,859.5 280.5,859.1 281.0,859.6 281.5,859.5 282.0,859.9 282.5,859.8 283.0,859.2 283.5,859.3 284.0,858.8 284.5,858.1 285.0,857.3 285.5,856.6 286.0,856.3 286.5,855.2 287.0,845.6 287.5,840.1 288.0,847.0 288.5,847.0 289.0,843.8 289.5,842.6 290.0,842.7 290.5,842.7 291.0,841.1 291.5,839.4 292.0,839.5 292.5,839.4 293.0,848.0 293.5,829.8 294.0,778.2 294.5,775.8 295.0,818.7 295.5,820.4 296.0,824.9 296.5,829.8 297.0,832.2 297.5,836.9 298.0,845.9 298.5,848.9 299.0,849.3 299.5,849.7 300.0,849.9 300.5,848.2 301.0,847.2 301.5,844.9 302.0,845.7 302.5,834.8 303.0,830.3 303.5,831.2 304.0,831.4 304.5,823.5 305.0,810.8 305.5,831.8 306.0,817.0 306.5,798.9 307.0,791.0 307.5,782.0 308.0,758.5 308.5,752.0 309.0,780.3 309.5,791.4 310.0,800.0 310.5,805.7 311.0,808.8 311.5,830.5 312.0,817.4 312.5,837.8 313.0,836.0 313.5,836.0 314.0,840.2 314.5,840.3 315.0,842.1 315.5,841.5 316.0,843.4 316.5,846.9 317.0,847.1 317.5,849.1 318.0,850.6 318.5,852.2 319.0,852.5 319.5,853.9 320.0,854.5 320.5,855.4 321.0,855.5 321.5,852.8 322.0,852.6 322.5,856.5 323.0,856.4 323.5,856.2 324.0,856.1 324.5,856.4 325.0,856.7 325.5,857.0 326.0,858.0 326.5,858.0 327.0,858.2 327.5,858.6 328.0,858.6 328.5,858.4 329.0,858.4 329.5,859.5 330.0,858.8 330.5,859.5 331.0,859.8 331.5,859.8 332.0,859.9 332.5,858.9 333.0,858.2 333.5,859.2 334.0,858.1 334.5,859.8 335.0,859.9 335.5,859.2 336.0,859.2 336.5,859.9 337.0,858.6 337.5,859.6 338.0,859.2 338.5,858.9 339.0,859.4 339.5,859.6 340.0,858.6 340.5,859.2 341.0,858.4 341.5,858.6 342.0,856.7 342.5,859.8 343.0,859.9 343.5,858.4 344.0,858.9 344.5,858.9 345.0,859.7 345.5,859.0 346.0,858.7 346.5,859.9 347.0,859.1 347.5,859.5 348.0,858.9 348.5,859.9 349.0,859.1 349.5,859.9 350.0,859.7 350.5,857.9 351.0,857.2 351.5,859.2 352.0,858.4 352.5,858.8 353.0,859.7 353.5,859.4 354.0,858.8 354.5,859.3 355.0,859.2 355.5,859.0 356.0,859.1 356.5,859.4 357.0,858.7 357.5,859.6 358.0,859.7 358.5,859.4 359.0,858.7 359.5,858.2 360.0,858.9 360.5,859.8 361.0,859.7 361.5,859.4 362.0,859.4 362.5,859.6 363.0,858.7 363.5,859.3 364.0,858.6 364.5,859.4 365.0,859.5 365.5,859.3 366.0,859.6 366.5,858.7 367.0,859.3 367.5,859.4 368.0,859.6 368.5,859.4 369.0,859.1 369.5,858.9 370.0,859.2 370.5,859.3 371.0,859.0 371.5,859.6 372.0,859.7 372.5,859.0 373.0,859.9 373.5,859.9 374.0,859.4 374.5,859.8 375.0,858.0 375.5,860.0 376.0,859.3 376.5,859.4 377.0,859.7 377.5,858.9 378.0,858.0 378.5,858.4 379.0,858.5 379.5,857.5 380.0,857.7 380.5,855.7 381.0,854.8 381.5,845.9 382.0,828.4 382.5,839.1 383.0,847.9 383.5,847.8 384.0,843.4 384.5,842.1 385.0,840.8 385.5,841.5 386.0,839.4 386.5,838.8 387.0,838.4 387.5,836.3 388.0,841.1 388.5,813.9 389.0,784.0 389.5,805.9 390.0,827.1 390.5,830.1 391.0,835.5 391.5,830.3 392.0,832.9 392.5,844.0 393.0,847.1 393.5,853.7 394.0,847.0 394.5,847.2 395.0,846.7 395.5,849.4 396.0,846.3 396.5,840.6 397.0,842.2 397.5,839.0 398.0,833.4 398.5,819.3 399.0,820.3 399.5,833.2 400.0,811.1 400.5,820.7 401.0,793.8 401.5,802.2 402.0,790.7 402.5,827.6 403.0,743.0 403.5,754.6 404.0,774.1 404.5,780.0 405.0,792.0 405.5,801.9 406.0,827.5 406.5,825.7 407.0,828.0 407.5,835.4 408.0,837.7 408.5,833.4 409.0,833.3 409.5,842.5 410.0,845.6 410.5,844.3 411.0,846.0 411.5,844.5 412.0,848.5 412.5,850.3 413.0,854.2 413.5,851.7 414.0,853.0 414.5,853.3 415.0,856.0 415.5,855.4 416.0,852.3 416.5,848.7 417.0,851.2 417.5,856.4 418.0,855.7 418.5,855.9 419.0,856.0 419.5,857.0 420.0,856.6 420.5,857.6 421.0,858.1 421.5,858.1 422.0,857.9 422.5,858.4 423.0,859.0 423.5,859.0 424.0,858.9 424.5,859.7 425.0,859.6 425.5,858.6 426.0,859.1 426.5,858.6 427.0,859.1 427.5,858.9 428.0,858.9 428.5,858.2 429.0,859.0 429.5,860.0 430.0,858.8 430.5,859.3 431.0,858.5 431.5,859.0 432.0,859.5 432.5,858.2 433.0,859.7 433.5,859.7 434.0,859.0 434.5,859.7 435.0,858.7 435.5,859.8 436.0,859.8 436.5,859.6 437.0,858.2 437.5,858.7 438.0,859.5 438.5,859.1 439.0,859.2 439.5,859.4 440.0,860.0 440.5,859.6 441.0,859.4 441.5,857.7 442.0,859.9 442.5,858.7 443.0,859.5 443.5,859.9 444.0,859.1 444.5,859.1 445.0,858.1 445.5,858.8 446.0,858.2 446.5,859.6 447.0,857.6 447.5,859.9 448.0,859.3 448.5,858.9 449.0,859.7 449.5,859.5 450.0,859.4 450.5,859.4 451.0,858.2 451.5,858.8 452.0,858.3 452.5,859.8 453.0,859.9 453.5,859.3 454.0,859.8 454.5,858.5 455.0,858.5 455.5,859.2 456.0,859.1 456.5,859.9 457.0,859.1 457.5,858.6 458.0,857.7 458.5,859.0 459.0,859.2 459.5,856.8 460.0,859.2 460.5,858.9 461.0,859.5 461.5,860.0 462.0,859.4 462.5,859.4 463.0,859.4 463.5,859.6 464.0,859.2 464.5,859.5 465.0,859.6 465.5,859.3 466.0,859.4 466.5,859.4 467.0,859.7 467.5,859.8 468.0,858.7 468.5,858.8 469.0,859.8 469.5,859.0 470.0,859.7 470.5,859.8 471.0,859.8 471.5,859.0 472.0,859.0 472.5,858.6 473.0,859.3 473.5,859.4 474.0,859.3 474.5,858.9 475.0,859.9 475.5,859.8 476.0,858.7 476.5,858.5 477.0,857.9 477.5,857.7 478.0,857.1 478.5,856.8 479.0,850.6 479.5,833.1 480.0,837.0 480.5,844.6 481.0,843.8 481.5,846.5 482.0,841.9 482.5,846.9 483.0,847.6 483.5,848.6 484.0,839.1 484.5,839.9 485.0,836.8 485.5,837.4 486.0,830.9 486.5,782.3 487.0,796.9 487.5,835.1 488.0,826.2 488.5,820.6 489.0,830.3 489.5,835.4 490.0,843.9 490.5,845.3 491.0,851.3 491.5,848.0 492.0,849.7 492.5,846.1 493.0,844.7 493.5,842.5 494.0,842.8 494.5,845.8 495.0,839.0 495.5,832.9 496.0,820.9 496.5,821.7 497.0,812.6 497.5,810.1 498.0,799.5 498.5,799.9 499.0,786.4 499.5,791.1 500.0,756.8 500.5,740.5 501.0,743.6 501.5,772.3 502.0,790.2 502.5,785.4 503.0,794.9 503.5,804.1 504.0,824.8 504.5,831.9 505.0,835.4 505.5,828.0 506.0,837.1 506.5,840.2 507.0,842.3 507.5,839.5 508.0,839.1 508.5,841.6 509.0,846.2 509.5,849.1 510.0,852.1 510.5,850.5 511.0,851.4 511.5,855.1 512.0,853.7 512.5,853.8 513.0,855.2 513.5,852.6 514.0,847.1 514.5,853.0 515.0,856.0 515.5,854.7 516.0,855.6 516.5,855.8 517.0,856.6 517.5,856.7 518.0,857.2 518.5,857.6 519.0,857.4 519.5,858.3 520.0,858.7 520.5,858.5 521.0,859.1 521.5,859.1 522.0,859.7 522.5,859.9 523.0,859.8 523.5,860.0 524.0,858.6 524.5,859.5 525.0,858.8 525.5,859.3 526.0,860.0 526.5,859.3 527.0,858.7 527.5,859.2 528.0,858.7 528.5,859.1 529.0,859.5 529.5,859.7 530.0,858.7 530.5,857.9 531.0,858.1 531.5,859.7 532.0,859.1 532.5,859.7 533.0,859.8 533.5,858.6 534.0,857.9 534.5,859.2 535.0,859.8 535.5,859.9 536.0,858.9 536.5,858.6 537.0,859.0 537.5,859.8 538.0,859.0 538.5,859.4 539.0,859.5 539.5,859.3 540.0,859.2 540.5,859.6 541.0,859.7 541.5,858.9 542.0,858.7 542.5,859.9 543.0,859.9 543.5,859.4 544.0,859.2 544.5,859.4 545.0,858.5 545.5,859.8 546.0,859.6 546.5,859.3 547.0,859.4 547.5,859.9 548.0,859.6 548.5,859.3 549.0,859.0 549.5,859.5 550.0,859.3 550.5,859.2 551.0,859.0 551.5,859.3 552.0,859.9 552.5,859.7 553.0,859.2 553.5,858.4 554.0,859.5 554.5,859.5 555.0,859.8 555.5,859.9 556.0,858.9 556.5,860.0 557.0,857.9 557.5,858.8 558.0,858.6 558.5,859.8 559.0,859.3 559.5,857.5 560.0,858.5 560.5,859.3 561.0,860.0 561.5,859.9 562.0,859.3 562.5,858.9 563.0,859.3 563.5,857.6 564.0,858.5 564.5,858.7 565.0,858.8 565.5,859.6 566.0,859.2 566.5,859.4 567.0,859.4 567.5,859.7 568.0,859.1 568.5,859.7 569.0,858.9 569.5,858.7 570.0,859.3 570.5,859.1 571.0,859.2 571.5,857.9 572.0,859.1 572.5,859.3 573.0,858.8 573.5,860.0 574.0,859.8 574.5,859.3 575.0,858.2 575.5,858.7 576.0,857.6 576.5,857.0 577.0,856.0 577.5,857.6 578.0,854.0 578.5,840.6 579.0,842.7 579.5,845.1 580.0,845.8 580.5,849.4 581.0,839.8 581.5,838.9 582.0,845.4 582.5,838.8 583.0,841.5 583.5,838.0 584.0,835.6 584.5,841.2 585.0,833.1 585.5,774.1 586.0,788.8 586.5,822.9 587.0,824.3 587.5,823.9 588.0,824.4 588.5,826.9 589.0,833.6 589.5,840.9 590.0,849.0 590.5,849.8 591.0,847.4 591.5,844.5 592.0,844.4 592.5,846.5 593.0,847.0 593.5,841.5 594.0,839.7 594.5,833.5 595.0,818.3 595.5,829.8 596.0,810.5 596.5,808.5 597.0,796.9 597.5,801.3 598.0,791.7 598.5,793.0 599.0,795.1 599.5,735.5 600.0,748.8 600.5,764.3 601.0,778.7 601.5,784.8 602.0,816.1 602.5,803.8 603.0,808.8 603.5,815.7 604.0,823.5 604.5,833.9 605.0,831.0 605.5,844.7 606.0,839.5 606.5,840.1 607.0,843.4 607.5,842.3 608.0,846.4 608.5,847.4 609.0,847.1 609.5,850.1 610.0,853.1 610.5,851.9 611.0,852.9 611.5,854.0 612.0,854.5 612.5,846.5 613.0,823.7 613.5,830.3 614.0,851.1 614.5,854.3 615.0,854.8 615.5,855.2 616.0,855.7 616.5,856.3 617.0,856.6 617.5,857.3 618.0,857.3 618.5,857.7 619.0,858.2 619.5,858.6 620.0,859.2 620.5,858.6 621.0,859.6 621.5,857.2 622.0,859.6 622.5,860.0 623.0,859.5 623.5,859.2 624.0,858.5 624.5,858.5 625.0,860.0 625.5,858.8 626.0,857.7 626.5,858.8 627.0,859.0 627.5,859.2 628.0,859.2 628.5,859.1 629.0,857.6 629.5,858.6 630.0,859.2 630.5,858.7 631.0,859.9 631.5,856.8 632.0,859.1 632.5,858.8 633.0,858.6 633.5,859.7 634.0,859.5 634.5,858.8 635.0,860.0 635.5,859.6 636.0,859.5 636.5,859.5 637.0,858.4 637.5,859.7 638.0,858.7 638.5,859.0 639.0,858.9 639.5,859.5 640.0,859.2 640.5,859.5 641.0,859.2 641.5,858.5 642.0,859.8 642.5,859.4 643.0,859.0 643.5,859.6 644.0,859.8 644.5,858.6 645.0,859.9 645.5,859.2 646.0,859.6 646.5,859.7 647.0,859.1 647.5,858.9 648.0,858.1 648.5,859.5 649.0,859.0 649.5,859.6 650.0,859.0 650.5,858.9 651.0,859.9 651.5,858.5 652.0,858.7 652.5,858.5 653.0,858.5 653.5,859.9 654.0,859.2 654.5,859.3 655.0,859.2 655.5,859.0 656.0,859.3 656.5,859.0 657.0,859.5 657.5,859.5 658.0,859.7 658.5,859.5 659.0,859.4 659.5,858.9 660.0,858.9 660.5,859.2 661.0,858.0 661.5,859.4 662.0,859.6 662.5,859.1 663.0,859.6 663.0,862.7 662.5,862.7 662.0,862.0 661.5,862.1 661.0,862.3 660.5,863.3 660.0,862.2 659.5,862.4 659.0,862.4 658.5,862.0 658.0,862.3 657.5,862.1 657.0,862.3 656.5,862.7 656.0,862.1 655.5,862.1 655.0,862.2 654.5,862.5 654.0,862.7 653.5,862.2 653.0,862.1 652.5,862.5 652.0,862.6 651.5,862.4 651.0,862.3 650.5,862.6 650.0,862.7 649.5,862.2 649.0,862.1 648.5,862.6 648.0,862.2 647.5,862.1 647.0,862.4 646.5,862.0 646.0,862.2 645.5,862.3 645.0,862.4 644.5,862.5 644.0,862.6 643.5,863.4 643.0,863.0 642.5,862.1 642.0,862.7 641.5,862.5 641.0,862.1 640.5,862.2 640.0,862.1 639.5,862.6 639.0,862.4 638.5,863.0 638.0,862.1 637.5,863.0 637.0,862.2 636.5,862.3 636.0,862.0 635.5,862.2 635.0,862.5 634.5,862.1 634.0,862.1 633.5,862.2 633.0,862.1 632.5,863.0 632.0,862.1 631.5,862.3 631.0,862.8 630.5,862.2 630.0,862.0 629.5,862.0 629.0,862.3 628.5,862.1 628.0,863.1 627.5,863.0 627.0,862.1 626.5,862.5 626.0,862.5 625.5,862.3 625.0,862.3 624.5,862.7 624.0,862.3 623.5,862.2 623.0,862.4 622.5,862.0 622.0,862.5 621.5,862.3 621.0,862.4 620.5,862.1 620.0,862.1 619.5,862.4 619.0,862.0 618.5,862.7 618.0,862.3 617.5,862.1 617.0,862.2 616.5,862.1 616.0,862.1 615.5,862.1 615.0,862.1 614.5,862.1 614.0,862.0 613.5,862.4 613.0,862.1 612.5,862.9 612.0,863.0 611.5,862.2 611.0,862.2 610.5,862.7 610.0,862.9 609.5,862.3 609.0,862.2 608.5,862.4 608.0,862.1 607.5,862.5 607.0,862.3 606.5,862.4 606.0,862.3 605.5,863.1 605.0,862.5 604.5,862.2 604.0,862.8 603.5,862.1 603.0,862.2 602.5,862.2 602.0,862.3 601.5,862.7 601.0,863.2 600.5,862.3 600.0,862.4 599.5,862.0 599.0,862.0 598.5,862.9 598.0,862.1 597.5,862.6 597.0,862.5 596.5,862.1 596.0,862.3 595.5,862.6 595.0,862.3 594.5,862.6 594.0,862.8 593.5,862.0 593.0,862.1 592.5,862.7 592.0,862.6 591.5,862.4 591.0,862.3 590.5,862.2 590.0,862.3 589.5,862.3 589.0,862.2 588.5,862.1 588.0,862.7 587.5,862.8 587.0,862.0 586.5,862.6 586.0,862.2 585.5,862.4 585.0,862.1 584.5,862.6 584.0,862.2 583.5,863.0 583.0,862.4 582.5,862.2 582.0,862.7 581.5,862.1 581.0,862.3 580.5,862.0 580.0,862.5 579.5,862.7 579.0,863.0 578.5,862.4 578.0,862.5 577.5,862.7 577.0,862.3 576.5,862.1 576.0,862.7 575.5,862.1 575.0,862.1 574.5,862.5 574.0,863.2 573.5,862.2 573.0,862.3 572.5,862.3 572.0,862.5 571.5,863.4 571.0,862.5 570.5,862.4 570.0,862.1 569.5,862.5 569.0,862.5 568.5,862.9 568.0,862.4 567.5,862.3 567.0,862.3 566.5,862.7 566.0,862.4 565.5,862.0 565.0,862.1 564.5,862.3 564.0,863.4 563.5,863.0 563.0,862.1 562.5,862.4 562.0,862.5 561.5,862.4 561.0,862.3 560.5,862.2 560.0,862.2 559.5,862.5 559.0,862.6 558.5,862.1 558.0,862.1 557.5,862.1 557.0,862.4 556.5,862.4 556.0,862.5 555.5,862.6 555.0,862.2 554.5,863.1 554.0,862.9 553.5,862.4 553.0,862.2 552.5,862.1 552.0,862.6 551.5,862.1 551.0,862.7 550.5,862.3 550.0,862.5 549.5,862.1 549.0,862.0 548.5,862.6 548.0,862.4 547.5,862.5 547.0,862.1 546.5,862.2 546.0,862.7 545.5,862.2 545.0,863.5 544.5,862.8 544.0,862.3 543.5,862.5 543.0,862.5 542.5,862.4 542.0,862.2 541.5,862.8 541.0,862.3 540.5,862.7 540.0,862.2 539.5,862.4 539.0,862.9 538.5,862.3 538.0,862.2 537.5,862.1 537.0,862.1 536.5,862.4 536.0,862.1 535.5,862.6 535.0,862.5 534.5,862.2 534.0,862.4 533.5,862.3 533.0,862.3 532.5,862.5 532.0,862.6 531.5,862.0 531.0,862.2 530.5,862.3 530.0,862.4 529.5,862.4 529.0,862.8 528.5,862.3 528.0,862.0 527.5,862.7 527.0,862.2 526.5,862.0 526.0,862.1 525.5,862.5 525.0,862.2 524.5,862.5 524.0,862.2 523.5,862.3 523.0,862.4 522.5,862.6 522.0,862.8 521.5,863.1 521.0,862.8 520.5,862.4 520.0,863.0 519.5,862.1 519.0,862.0 518.5,862.4 518.0,863.2 517.5,862.1 517.0,862.2 516.5,862.4 516.0,862.5 515.5,862.3 515.0,862.4 514.5,862.5 514.0,862.4 513.5,862.7 513.0,863.2 512.5,862.3 512.0,862.1 511.5,862.1 511.0,862.0 510.5,862.3 510.0,862.1 509.5,862.2 509.0,862.2 508.5,862.0 508.0,863.1 507.5,862.2 507.0,863.0 506.5,862.1 506.0,862.2 505.5,862.1 505.0,862.2 504.5,862.6 504.0,862.4 503.5,862.2 503.0,862.6 502.5,862.9 502.0,862.0 501.5,862.0 501.0,862.1 500.5,862.0 500.0,862.1 499.5,862.0 499.0,862.1 498.5,862.3 498.0,862.6 497.5,862.8 497.0,862.2 496.5,862.0 496.0,862.0 495.5,862.0 495.0,862.8 494.5,862.3 494.0,862.3 493.5,862.3 493.0,862.4 492.5,862.6 492.0,862.8 491.5,862.1 491.0,862.2 490.5,862.1 490.0,862.4 489.5,862.5 489.0,862.2 488.5,862.1 488.0,862.1 487.5,862.0 487.0,862.3 486.5,862.6 486.0,862.2 485.5,863.2 485.0,862.3 484.5,862.1 484.0,862.1 483.5,862.1 483.0,862.3 482.5,862.3 482.0,862.1 481.5,862.8 481.0,862.3 480.5,862.9 480.0,862.1 479.5,862.1 479.0,862.0 478.5,862.0 478.0,862.1 477.5,862.1 477.0,862.3 476.5,862.7 476.0,863.3 475.5,862.4 475.0,862.4 474.5,862.3 474.0,862.3 473.5,862.1 473.0,862.0 472.5,862.5 472.0,862.1 471.5,862.1 471.0,862.3 470.5,862.2 470.0,862.1 469.5,862.1 469.0,862.4 468.5,862.4 468.0,863.5 467.5,862.5 467.0,862.5 466.5,862.2 466.0,862.5 465.5,862.5 465.0,862.3 464.5,862.3 464.0,862.3 463.5,862.0 463.0,863.2 462.5,862.3 462.0,862.2 461.5,862.5 461.0,862.5 460.5,862.6 460.0,862.1 459.5,862.5 459.0,862.7 458.5,862.1 458.0,862.5 457.5,862.6 457.0,862.0 456.5,862.7 456.0,862.0 455.5,862.5 455.0,862.6 454.5,862.0 454.0,862.9 453.5,862.2 453.0,862.0 452.5,862.2 452.0,862.5 451.5,862.6 451.0,862.9 450.5,862.9 450.0,862.4 449.5,862.0 449.0,862.1 448.5,862.2 448.0,862.8 447.5,862.4 447.0,862.0 446.5,862.6 446.0,862.2 445.5,862.8 445.0,863.0 444.5,862.1 444.0,862.1 443.5,862.1 443.0,862.7 442.5,862.1 442.0,862.2 441.5,862.7 441.0,862.5 440.5,862.4 440.0,862.2 439.5,862.2 439.0,862.7 438.5,862.1 438.0,862.4 437.5,862.6 437.0,862.9 436.5,862.2 436.0,862.3 435.5,862.5 435.0,862.3 434.5,862.4 434.0,862.4 433.5,862.1 433.0,862.4 432.5,862.2 432.0,862.2 431.5,862.2 431.0,862.5 430.5,862.3 430.0,862.4 429.5,862.8 429.0,862.5 428.5,862.5 428.0,862.6 427.5,862.4 427.0,863.0 426.5,862.7 426.0,862.6 425.5,862.6 425.0,862.1 424.5,862.7 424.0,863.5 423.5,862.8 423.0,862.3 422.5,862.3 422.0,863.0 421.5,862.3 421.0,862.6 420.5,862.2 420.0,862.8 419.5,862.2 419.0,862.0 418.5,862.5 418.0,862.5 417.5,862.4 417.0,862.1 416.5,862.3 416.0,862.2 415.5,862.4 415.0,862.5 414.5,862.6 414.0,862.8 413.5,862.2 413.0,862.5 412.5,862.3 412.0,862.1 411.5,862.1 411.0,862.5 410.5,862.8 410.0,862.0 409.5,862.3 409.0,862.2 408.5,862.0 408.0,862.4 407.5,862.5 407.0,862.5 406.5,862.2 406.0,862.4 405.5,862.9 405.0,862.2 404.5,863.1 404.0,862.1 403.5,862.1 403.0,862.8 402.5,862.2 402.0,862.6 401.5,862.0 401.0,862.2 400.5,863.3 400.0,862.1 399.5,862.3 399.0,862.2 398.5,862.5 398.0,862.2 397.5,862.5 397.0,862.2 396.5,862.4 396.0,862.1 395.5,862.3 395.0,862.3 394.5,862.2 394.0,862.2 393.5,862.8 393.0,862.7 392.5,862.5 392.0,862.3 391.5,862.4 391.0,862.5 390.5,862.0 390.0,863.0 389.5,862.2 389.0,862.4 388.5,862.1 388.0,862.5 387.5,862.0 387.0,863.0 386.5,862.7 386.0,862.1 385.5,862.8 385.0,862.1 384.5,862.2 384.0,862.4 383.5,862.7 383.0,862.3 382.5,862.5 382.0,863.0 381.5,862.5 381.0,862.4 380.5,862.4 380.0,862.5 379.5,862.0 379.0,862.5 378.5,862.2 378.0,862.4 377.5,862.0 377.0,862.1 376.5,862.0 376.0,862.3 375.5,862.2 375.0,862.1 374.5,862.2 374.0,862.3 373.5,862.0 373.0,863.0 372.5,862.8 372.0,862.2 371.5,862.1 371.0,862.4 370.5,862.4 370.0,862.2 369.5,862.5 369.0,862.3 368.5,863.2 368.0,862.1 367.5,862.4 367.0,862.2 366.5,862.5 366.0,862.2 365.5,862.0 365.0,862.1 364.5,862.2 364.0,862.1 363.5,862.5 363.0,863.0 362.5,863.2 362.0,862.6 361.5,862.7 361.0,862.2 360.5,862.2 360.0,863.2 359.5,862.2 359.0,862.5 358.5,862.1 358.0,862.6 357.5,862.4 357.0,862.5 356.5,862.6 356.0,862.3 355.5,862.2 355.0,862.5 354.5,862.2 354.0,862.4 353.5,863.0 353.0,862.9 352.5,862.0 352.0,862.6 351.5,862.0 351.0,862.2 350.5,862.4 350.0,862.6 349.5,862.3 349.0,862.2 348.5,862.0 348.0,862.2 347.5,863.1 347.0,862.2 346.5,862.9 346.0,862.2 345.5,862.3 345.0,862.3 344.5,862.7 344.0,863.3 343.5,862.3 343.0,862.1 342.5,862.9 342.0,862.5 341.5,862.4 341.0,862.5 340.5,862.0 340.0,862.7 339.5,862.7 339.0,862.5 338.5,862.1 338.0,862.5 337.5,862.1 337.0,862.9 336.5,862.2 336.0,862.1 335.5,862.1 335.0,862.3 334.5,863.1 334.0,862.6 333.5,862.4 333.0,862.2 332.5,862.6 332.0,862.1 331.5,863.1 331.0,862.0 330.5,862.1 330.0,862.5 329.5,862.4 329.0,862.2 328.5,862.6 328.0,862.9 327.5,862.4 327.0,862.1 326.5,862.7 326.0,862.4 325.5,862.0 325.0,862.4 324.5,862.3 324.0,862.6 323.5,862.7 323.0,862.6 322.5,862.0 322.0,862.1 321.5,862.3 321.0,862.6 320.5,862.3 320.0,862.3 319.5,862.4 319.0,862.6 318.5,862.1 318.0,862.1 317.5,862.4 317.0,862.8 316.5,862.1 316.0,862.0 315.5,862.1 315.0,862.8 314.5,862.0 314.0,862.0 313.5,862.4 313.0,862.5 312.5,862.8 312.0,862.0 311.5,862.7 311.0,862.6 310.5,862.2 310.0,862.7 309.5,862.1 309.0,862.2 308.5,863.0 308.0,862.4 307.5,862.2 307.0,862.0 306.5,862.4 306.0,862.4 305.5,862.0 305.0,862.2 304.5,862.3 304.0,862.2 303.5,862.1 303.0,862.5 302.5,862.5 302.0,862.1 301.5,862.1 301.0,862.2 300.5,862.2 300.0,862.5 299.5,862.1 299.0,862.0 298.5,862.3 298.0,862.2 297.5,862.2 297.0,862.5 296.5,862.1 296.0,862.4 295.5,862.6 295.0,862.4 294.5,862.1 294.0,862.5 293.5,862.3 293.0,862.2 292.5,862.7 292.0,863.1 291.5,862.5 291.0,862.5 290.5,863.1 290.0,862.2 289.5,862.0 289.0,862.5 288.5,862.1 288.0,862.5 287.5,862.2 287.0,862.3 286.5,862.0 286.0,862.8 285.5,862.2 285.0,862.3 284.5,862.5 284.0,863.1 283.5,862.0 283.0,862.1 282.5,862.1 282.0,862.1 281.5,862.7 281.0,862.8 280.5,862.5 280.0,862.2 279.5,862.8 279.0,862.5 278.5,862.2 278.0,862.7 277.5,862.1 277.0,862.4 276.5,862.4 276.0,862.7 275.5,862.5 275.0,862.0 274.5,862.5 274.0,862.8 273.5,862.7 273.0,862.5 272.5,862.6 272.0,862.0 271.5,862.4 271.0,862.0 270.5,862.5 270.0,862.5 269.5,862.7 269.0,862.4 268.5,862.5 268.0,862.7 267.5,862.6 267.0,862.4 266.5,862.3 266.0,862.6 265.5,862.7 265.0,862.5 264.5,862.5 264.0,862.5 263.5,862.1 263.0,862.4 262.5,862.6 262.0,862.9 261.5,862.2 261.0,862.6 260.5,862.5 260.0,862.0 259.5,862.6 259.0,862.5 258.5,862.9 258.0,862.2 257.5,862.2 257.0,862.8 256.5,862.4 256.0,862.1 255.5,862.1 255.0,862.7 254.5,862.0 254.0,862.3 253.5,862.1 253.0,862.6 252.5,862.8 252.0,862.3 251.5,862.5 251.0,862.9 250.5,862.5 250.0,862.2 249.5,862.5 249.0,863.4 248.5,862.2 248.0,862.6 247.5,863.2 247.0,862.0 246.5,862.6 246.0,862.0 245.5,862.4 245.0,862.4 244.5,862.4 244.0,863.0 243.5,862.7 243.0,862.9 242.5,863.3 242.0,862.6 241.5,862.5 241.0,862.6 240.5,862.5 240.0,862.1 239.5,862.2 239.0,862.8 238.5,862.3 238.0,863.4 237.5,863.3 237.0,862.1 236.5,862.1 236.0,862.4 235.5,862.3 235.0,862.9 234.5,862.3 234.0,862.2 233.5,862.6 233.0,862.3 232.5,862.6 232.0,862.0 231.5,862.3 231.0,862.4 230.5,862.2 230.0,862.4 229.5,862.3 229.0,862.2 228.5,862.7 228.0,863.1 227.5,862.2 227.0,862.4 226.5,862.8 226.0,862.3 225.5,862.3 225.0,862.7 224.5,862.0 224.0,862.5 223.5,862.1 223.0,862.4 222.5,862.9 222.0,862.3 221.5,862.0 221.0,862.1 220.5,862.6 220.0,862.4 219.5,862.3 219.0,862.3 218.5,862.6 218.0,862.2 217.5,862.2 217.0,862.2 216.5,862.2 216.0,862.1 215.5,862.8 215.0,862.4 214.5,862.0 214.0,862.3 213.5,862.0 213.0,862.4 212.5,862.1 212.0,862.1 211.5,862.3 211.0,862.3 210.5,862.0 210.0,862.1 209.5,862.2 209.0,862.5 208.5,862.1 208.0,862.7 207.5,862.3 207.0,862.2 206.5,862.0 206.0,862.3 205.5,862.3 205.0,862.4 204.5,862.3 204.0,862.2 203.5,862.2 203.0,862.2 202.5,862.3 202.0,863.0 201.5,862.3 201.0,862.5 200.5,862.1 200.0,863.5 199.5,862.7 199.0,862.5 198.5,862.7 198.0,862.0 197.5,862.4 197.0,863.2 196.5,862.3 196.0,862.0 195.5,862.3 195.0,862.3 194.5,862.0 194.0,862.1 193.5,862.2 193.0,862.1 192.5,862.7 192.0,862.2 191.5,862.1 191.0,862.2 190.5,862.4 190.0,862.1 189.5,862.3 189.0,862.5 188.5,863.3 188.0,862.7 187.5,862.3 187.0,862.3 186.5,862.3 186.0,862.6 185.5,862.0 185.0,862.5 184.5,862.0 184.0,862.3 183.5,862.1 183.0,862.1 182.5,862.1 182.0,862.0 181.5,862.4 181.0,862.3 180.5,862.7 180.0,862.5 179.5,862.2 179.0,862.2 178.5,862.8 178.0,862.4 177.5,862.1 177.0,862.3 176.5,862.5 176.0,863.2 175.5,862.5 175.0,863.1 174.5,862.3 174.0,862.3 173.5,863.4 173.0,862.3 172.5,862.6 172.0,862.3 171.5,862.5 171.0,862.3 170.5,862.1 170.0,862.1 169.5,862.3 169.0,862.6 168.5,863.4 168.0,862.5 167.5,862.1 167.0,862.7 166.5,862.8 166.0,862.0 165.5,862.1 165.0,862.8 164.5,862.3 164.0,862.2 163.5,862.4 163.0,862.1 162.5,862.1 162.0,862.9 161.5,862.3 161.0,862.5 160.5,862.3 160.0,862.7 159.5,862.7 159.0,862.3 158.5,862.0 158.0,862.1 157.5,862.6 157.0,862.5 156.5,862.6 156.0,862.1 155.5,862.0 155.0,862.3 154.5,863.2 154.0,862.6 153.5,862.1 153.0,862.2 152.5,862.8 152.0,862.2 151.5,862.3 151.0,862.0 150.5,862.1 150.0,862.3 149.5,862.2 149.0,862.3 148.5,862.5 148.0,862.2 147.5,862.1 147.0,862.1 146.5,862.2 146.0,862.3 145.5,862.3 145.0,862.3 144.5,862.4 144.0,862.2 143.5,862.2 143.0,862.5 142.5,863.0 142.0,862.1 141.5,862.1 141.0,862.2 140.5,862.5 140.0,863.4 139.5,862.1 139.0,862.3 138.5,862.1 138.0,862.0 137.5,862.5 137.0,862.0 136.5,862.5 136.0,862.0 135.5,862.2 135.0,862.2 134.5,863.0 134.0,862.4 133.5,863.1 133.0,862.6 132.5,862.2 132.0,862.3 131.5,862.0 131.0,862.1 130.5,862.2 130.0,862.3 129.5,862.5 129.0,862.5 128.5,862.0 128.0,862.1 127.5,862.0 127.0,862.2 126.5,862.6 126.0,862.5 125.5,862.7 125.0,862.4 124.5,862.3 124.0,862.5 123.5,862.2 123.0,862.1 122.5,862.1 122.0,862.5 121.5,862.1 121.0,862.3 120.5,862.4 120.0,862.9 119.5,862.1 119.0,863.5 118.5,862.8 118.0,862.4 117.5,862.4 117.0,862.2 116.5,862.1 116.0,862.0 115.5,862.1 115.0,862.3 114.5,862.1 114.0,862.1 113.5,862.2 113.0,862.6 112.5,862.0 112.0,862.3 111.5,862.9 111.0,862.2 110.5,862.0 110.0,862.4 109.5,862.3 109.0,862.8 108.5,862.8 108.0,862.4 107.5,862.2 107.0,862.7 106.5,862.2 106.0,862.6 105.5,862.3 105.0,862.1 104.5,862.2 104.0,862.5 103.5,862.4 103.0,862.4 102.5,862.0 102.0,862.0 101.5,862.2 101.0,862.4 100.5,862.2 100.0,862.5 99.5,862.4 99.0,862.4 98.5,862.5 98.0,862.9 97.5,862.0 97.0,863.5 96.5,862.8 96.0,862.4 95.5,863.0 95.0,862.2 94.5,862.1 94.0,862.7 93.5,862.3 93.0,862.4 92.5,862.8 92.0,862.5 91.5,862.4 91.0,862.7 90.5,862.7 90.0,862.1 89.5,862.3 89.0,862.1 88.5,862.7 88.0,862.1 87.5,862.5 87.0,862.2 86.5,862.1 86.0,862.3 85.5,862.5 85.0,862.5 84.5,862.2 84.0,862.1 83.5,862.2 83.0,863.1 82.5,862.0 82.0,862.5 81.5,862.1 81.0,862.5 80.5,862.4 80.0,862.4 79.5,862.1 79.0,862.2 78.5,862.4 78.0,862.7 77.5,862.6 77.0,862.3 76.5,862.7 76.0,862.7 75.5,862.6 75.0,862.1 74.5,863.0 74.0,862.2 73.5,862.2 73.0,862.4 72.5,862.1 72.0,862.2 71.5,862.4 71.0,862.1 70.5,862.4 70.0,862.3 69.5,862.2 69.0,862.2 68.5,862.4 68.0,862.3 67.5,862.1 67.0,862.5 66.5,862.2 66.0,862.0 65.5,862.4 65.0,862.4 64.5,862.1 64.0,862.8 63.5,862.1 63.0,862.2 62.5,862.3 62.0,862.3 61.5,862.7 61.0,862.6" fill="#000" stroke="#000" stroke-width="1.1" stroke-linejoin="round"/>
<line x1="60.2" y1="730.8" x2="60.2" y2="869" stroke="#000" stroke-width="2.2" stroke-linecap="butt"/>
<line x1="59.1" y1="868" x2="663" y2="868" stroke="#000" stroke-width="2.2" stroke-linecap="butt"/>
<line x1="199.2" y1="868" x2="199.2" y2="872.6" stroke="#333" stroke-width="1.6" stroke-linecap="butt"/>
<text x="199.2" y="895.9" font-size="24" fill="#4d4d4d" text-anchor="middle" font-family='"Liberation Sans", Arial, Helvetica, sans-serif'>0.05</text>
<line x1="338.8" y1="868" x2="338.8" y2="872.6" stroke="#333" stroke-width="1.6" stroke-linecap="butt"/>
<text x="338.8" y="895.9" font-size="24" fill="#4d4d4d" text-anchor="middle" font-family='"Liberation Sans", Arial, Helvetica, sans-serif'>0.10</text>
<line x1="478.4" y1="868" x2="478.4" y2="872.6" stroke="#333" stroke-width="1.6" stroke-linecap="butt"/>
<text x="478.4" y="895.9" font-size="24" fill="#4d4d4d" text-anchor="middle" font-family='"Liberation Sans", Arial, Helvetica, sans-serif'>0.15</text>
<line x1="618.0" y1="868" x2="618.0" y2="872.6" stroke="#333" stroke-width="1.6" stroke-linecap="butt"/>
<text x="618.0" y="895.9" font-size="24" fill="#4d4d4d" text-anchor="middle" font-family='"Liberation Sans", Arial, Helvetica, sans-serif'>0.20</text>
<text x="362" y="929.6" font-size="31" fill="#000" text-anchor="middle" font-family='"Liberation Sans", Arial, Helvetica, sans-serif' textLength="117" lengthAdjust="spacingAndGlyphs">Time (s)</text>
<text x="24" y="800" font-size="31.5" fill="#000" text-anchor="middle" font-family='"Liberation Sans", Arial, Helvetica, sans-serif' textLength="144.5" lengthAdjust="spacingAndGlyphs" transform="rotate(-90 24 800)">Amplitude</text>
<line x1="661.8" y1="775.1" x2="625.2" y2="759.0" stroke="#000" stroke-width="4.2" stroke-linecap="round"/>
<polygon points="608.7,751.7 631.0,750.6 623.0,768.9" fill="#000" stroke="#000" stroke-width="2" stroke-linejoin="round"/>
<text x="668.5" y="793.4" font-size="25" fill="#000" text-anchor="start" font-family='"DejaVu Sans", Verdana, sans-serif' textLength="252" lengthAdjust="spacingAndGlyphs">peak-time (relative)</text>
<line x1="744.4" y1="45" x2="744.4" y2="641.4" stroke="#000" stroke-width="2.0" stroke-linecap="butt"/>
<line x1="743.4" y1="640.4" x2="890.5" y2="640.4" stroke="#000" stroke-width="2.0" stroke-linecap="butt"/>
<polyline points="752.6,46.0 752.7,46.5 753.2,46.9 752.9,47.4 752.7,47.8 753.2,48.3 752.2,48.7 752.3,49.2 752.2,49.6 752.1,50.1 751.7,50.5 752.6,51.0 752.5,51.4 751.9,51.9 752.4,52.3 752.8,52.8 753.5,53.2 752.4,53.7 752.6,54.1 752.5,54.6 752.6,55.0 752.4,55.5 752.3,55.9 752.5,56.4 752.4,56.8 752.7,57.3 752.2,57.7 752.2,58.2 752.8,58.6 752.5,59.1 753.1,59.5 752.8,60.0 753.4,60.4 752.4,60.9 752.3,61.3 753.1,61.8 752.0,62.2 752.2,62.7 752.9,63.1 752.7,63.6 753.3,64.0 753.0,64.5 752.1,64.9 752.6,65.4 752.4,65.8 752.6,66.3 753.3,66.7 752.8,67.2 752.6,67.6 752.8,68.1 752.3,68.5 752.1,69.0 753.4,69.4 751.8,69.9 752.9,70.3 753.0,70.8 753.6,71.2 752.7,71.7 753.7,72.1 752.3,72.6 753.0,73.0 752.8,73.5 752.5,73.9 752.3,74.4 753.2,74.8 752.9,75.3 752.7,75.7 752.7,76.2 752.4,76.6 751.8,77.1 752.7,77.5 752.2,78.0 753.3,78.4 752.7,78.9 752.4,79.3 752.6,79.8 753.3,80.2 752.2,80.7 752.1,81.1 753.0,81.6 753.2,82.0 752.9,82.5 752.8,82.9 753.1,83.4 752.3,83.8 752.4,84.3 752.3,84.7 752.1,85.2 753.0,85.6 752.4,86.1 753.0,86.5 752.7,87.0 751.8,87.4 753.2,87.9 752.2,88.3 752.5,88.8 752.3,89.2 752.7,89.7 752.0,90.1 753.3,90.6 752.2,91.0 752.3,91.5 752.7,91.9 754.1,92.4 752.4,92.8 751.9,93.3 753.2,93.7 752.6,94.2 751.9,94.6 752.4,95.1 753.1,95.5 752.4,96.0 752.6,96.4 753.0,96.9 752.3,97.3 752.0,97.8 752.9,98.2 753.2,98.7 753.1,99.1 752.7,99.6 753.5,100.0 752.6,100.5 753.1,100.9 753.1,101.4 753.0,101.8 753.1,102.3 753.3,102.7 752.5,103.2 752.8,103.6 752.4,104.1 752.8,104.5 752.9,105.0 753.2,105.4 753.4,105.9 753.1,106.3 752.7,106.8 753.3,107.2 752.6,107.7 752.3,108.1 752.9,108.6 752.7,109.0 752.6,109.5 752.6,109.9 753.2,110.4 753.1,110.8 752.9,111.3 752.8,111.7 753.1,112.2 752.8,112.6 752.7,113.1 752.9,113.5 752.1,114.0 753.5,114.4 752.8,114.9 752.3,115.3 752.5,115.8 752.6,116.2 752.9,116.7 752.8,117.1 753.0,117.6 753.1,118.0 753.4,118.5 753.0,118.9 752.8,119.4 753.0,119.8 752.1,120.3 752.9,120.7 753.4,121.2 752.9,121.6 753.0,122.1 753.4,122.5 752.9,123.0 752.6,123.4 752.6,123.9 752.9,124.3 753.1,124.8 752.5,125.2 752.6,125.7 753.4,126.1 752.6,126.6 752.4,127.0 753.2,127.5 753.5,127.9 752.4,128.4 752.2,128.8 753.1,129.3 752.6,129.7 753.0,130.2 752.9,130.6 752.7,131.1 754.6,131.5 752.1,132.0 752.5,132.4 753.1,132.9 752.7,133.3 753.3,133.8 752.4,134.2 752.7,134.7 753.3,135.1 752.9,135.6 752.8,136.0 752.9,136.5 752.8,136.9 753.0,137.4 752.9,137.8 752.1,138.3 752.6,138.7 753.3,139.2 753.0,139.6 753.1,140.1 753.2,140.5 753.2,141.0 752.4,141.4 753.1,141.9 752.5,142.3 752.7,142.8 752.4,143.2 752.2,143.7 753.2,144.1 753.0,144.6 752.7,145.0 752.9,145.5 753.2,145.9 752.5,146.4 753.4,146.8 752.7,147.3 752.6,147.7 753.5,148.2 753.9,148.6 752.4,149.1 753.1,149.5 752.7,150.0 753.1,150.4 752.9,150.9 753.7,151.3 752.6,151.8 753.1,152.2 752.7,152.7 752.2,153.1 752.7,153.6 753.3,154.0 753.3,154.5 751.8,154.9 752.9,155.4 753.3,155.8 752.7,156.3 752.8,156.7 752.6,157.2 753.6,157.6 753.1,158.1 753.6,158.5 753.1,159.0 752.2,159.4 753.1,159.9 753.5,160.3 753.6,160.8 753.1,161.2 753.3,161.7 753.1,162.1 752.9,162.6 752.5,163.0 753.2,163.5 753.4,163.9 752.8,164.4 752.7,164.8 752.7,165.3 752.5,165.7 753.0,166.2 752.4,166.6 752.9,167.1 753.1,167.5 752.6,168.0 752.8,168.4 752.0,168.9 752.7,169.3 753.2,169.8 753.4,170.2 752.7,170.7 752.9,171.1 753.3,171.6 753.0,172.0 752.7,172.5 752.7,172.9 753.4,173.4 752.8,173.8 753.7,174.3 753.5,174.7 753.1,175.2 753.5,175.6 752.9,176.1 752.5,176.5 753.2,177.0 753.7,177.4 752.7,177.9 752.9,178.3 753.2,178.8 752.9,179.2 753.4,179.7 751.8,180.1 752.8,180.6 753.3,181.0 753.0,181.5 753.0,181.9 753.6,182.4 752.4,182.8 751.8,183.3 752.4,183.7 753.5,184.2 753.6,184.6 753.3,185.1 753.0,185.5 753.2,186.0 752.3,186.4 752.4,186.9 752.4,187.3 753.0,187.8 751.8,188.2 753.5,188.7 753.3,189.1 753.7,189.6 753.1,190.0 753.3,190.5 753.1,190.9 753.1,191.4 753.6,191.8 752.3,192.3 753.3,192.7 752.8,193.2 752.9,193.6 752.5,194.1 752.7,194.5 753.3,195.0 752.4,195.4 753.5,195.9 753.1,196.3 752.6,196.8 753.6,197.2 753.3,197.7 753.6,198.1 753.5,198.6 753.0,199.0 752.8,199.5 752.7,199.9 752.7,200.4 752.4,200.8 751.9,201.3 753.2,201.7 753.0,202.2 752.8,202.6 753.3,203.1 753.8,203.5 753.0,204.0 752.9,204.4 753.6,204.9 752.8,205.3 753.5,205.8 753.0,206.2 752.7,206.7 753.3,207.1 753.3,207.6 754.0,208.0 753.4,208.5 753.1,208.9 753.4,209.4 753.8,209.8 752.7,210.3 753.1,210.7 753.1,211.2 753.7,211.6 754.1,212.1 753.3,212.5 753.4,213.0 753.0,213.4 752.7,213.9 752.7,214.3 753.2,214.8 752.8,215.2 752.9,215.7 753.3,216.1 752.8,216.6 753.7,217.0 753.4,217.5 752.7,217.9 753.2,218.4 754.0,218.8 754.0,219.3 752.8,219.7 753.3,220.2 754.0,220.6 753.9,221.1 753.0,221.5 752.3,222.0 753.5,222.4 753.3,222.9 752.6,223.3 753.7,223.8 753.5,224.2 753.1,224.7 754.1,225.1 753.1,225.6 752.8,226.0 753.1,226.5 753.1,226.9 753.8,227.4 754.1,227.8 753.6,228.3 753.1,228.7 753.8,229.2 753.6,229.6 753.5,230.1 752.9,230.5 753.4,231.0 753.7,231.4 753.9,231.9 753.2,232.3 754.0,232.8 753.4,233.2 753.7,233.7 753.6,234.1 753.3,234.6 753.7,235.0 752.7,235.5 753.8,235.9 753.6,236.4 752.7,236.8 752.7,237.3 753.2,237.7 753.3,238.2 753.5,238.6 753.9,239.1 753.3,239.5 754.1,240.0 754.0,240.4 753.5,240.9 753.4,241.3 754.4,241.8 754.4,242.2 754.0,242.7 753.8,243.1 754.1,243.6 753.2,244.0 753.4,244.5 753.7,244.9 754.3,245.4 753.6,245.8 753.9,246.3 753.4,246.7 753.6,247.2 753.1,247.6 753.2,248.1 753.8,248.5 753.5,249.0 754.5,249.4 754.5,249.9 753.3,250.3 754.1,250.8 753.8,251.2 754.5,251.7 753.7,252.1 753.6,252.6 753.0,253.0 753.9,253.5 754.0,253.9 754.0,254.4 753.8,254.8 754.3,255.3 754.7,255.7 753.0,256.2 752.6,256.6 754.3,257.1 755.3,257.5 753.2,258.0 754.3,258.4 754.5,258.9 753.8,259.3 754.2,259.8 754.7,260.2 752.9,260.7 754.4,261.1 754.4,261.6 753.3,262.0 753.3,262.5 753.7,262.9 753.5,263.4 754.2,263.8 754.5,264.3 754.2,264.7 754.3,265.2 753.8,265.6 753.0,266.1 753.1,266.5 753.9,267.0 753.9,267.4 754.2,267.9 753.4,268.3 753.5,268.8 753.7,269.2 753.9,269.7 753.9,270.1 754.0,270.6 754.6,271.0 753.5,271.5 753.1,271.9 754.8,272.4 754.1,272.8 754.1,273.3 753.5,273.7 753.5,274.2 753.8,274.6 753.0,275.1 754.0,275.5 754.2,276.0 754.0,276.4 753.6,276.9 753.9,277.3 754.0,277.8 753.6,278.2 753.7,278.7 754.1,279.1 754.9,279.6 754.2,280.0 754.2,280.5 754.2,280.9 753.4,281.4 754.2,281.8 754.0,282.3 752.8,282.7 755.1,283.2 755.9,283.6 753.5,284.1 753.5,284.5 754.4,285.0 754.4,285.4 755.2,285.9 756.0,286.3 755.1,286.8 753.6,287.2 753.4,287.7 752.9,288.1 754.6,288.6 754.9,289.0 754.3,289.5 753.7,289.9 753.9,290.4 755.3,290.8 753.9,291.3 753.9,291.7 754.9,292.2 755.1,292.6 753.9,293.1 753.9,293.5 755.1,294.0 754.1,294.4 754.0,294.9 753.7,295.3 754.0,295.8 754.5,296.2 754.5,296.7 755.5,297.1 755.3,297.6 753.6,298.0 752.9,298.5 753.8,298.9 753.6,299.4 754.1,299.8 754.5,300.3 754.6,300.7 754.7,301.2 755.7,301.6 754.5,302.1 754.8,302.5 755.5,303.0 754.4,303.4 753.2,303.9 754.5,304.3 755.2,304.8 754.2,305.2 755.2,305.7 755.3,306.1 755.4,306.6 755.2,307.0 754.2,307.5 753.9,307.9 754.2,308.4 754.7,308.8 755.7,309.3 756.5,309.7 754.8,310.2 754.6,310.6 756.4,311.1 754.3,311.5 753.8,312.0 756.1,312.4 756.3,312.9 756.1,313.3 754.9,313.8 755.1,314.2 755.2,314.7 755.8,315.1 755.0,315.6 753.6,316.0 755.9,316.5 755.8,316.9 756.1,317.4 755.0,317.8 755.5,318.3 754.1,318.7 753.6,319.2 755.3,319.6 754.3,320.1 756.5,320.5 753.9,321.0 754.8,321.4 753.9,321.9 755.3,322.3 755.0,322.8 756.0,323.2 756.1,323.7 754.7,324.1 754.8,324.6 755.2,325.0 756.4,325.5 754.6,325.9 755.5,326.4 756.5,326.8 755.0,327.3 755.2,327.7 756.4,328.2 755.0,328.6 754.9,329.1 754.5,329.5 755.3,330.0 756.4,330.4 754.0,330.9 757.5,331.3 755.8,331.8 755.6,332.2 757.1,332.7 756.9,333.1 756.8,333.6 757.2,334.0 754.9,334.5 757.0,334.9 756.7,335.4 755.6,335.8 757.8,336.3 754.9,336.7 754.3,337.2 757.4,337.6 756.0,338.1 755.8,338.5 757.5,339.0 756.3,339.4 757.6,339.9 757.6,340.3 755.2,340.8 757.6,341.2 757.1,341.7 754.6,342.1 755.8,342.6 758.2,343.0 759.1,343.5 758.3,343.9 758.1,344.4 755.2,344.8 758.2,345.3 758.0,345.7 755.9,346.2 755.2,346.6 757.8,347.1 757.4,347.5 761.1,348.0 761.0,348.4 763.0,348.9 761.3,349.3 756.2,349.8 756.1,350.2 760.3,350.7 762.1,351.1 758.8,351.6 760.9,352.0 759.4,352.5 755.4,352.9 756.0,353.4 757.8,353.8 758.1,354.3 759.0,354.7 758.7,355.2 756.8,355.6 758.6,356.1 755.9,356.5 754.2,357.0 755.5,357.4 756.3,357.9 755.0,358.3 755.8,358.8 757.3,359.2 755.1,359.7 756.0,360.1 757.9,360.6 757.7,361.0 759.0,361.5 757.0,361.9 754.9,362.4 758.6,362.8 755.9,363.3 758.0,363.7 758.4,364.2 759.6,364.6 758.0,365.1 754.1,365.5 755.1,366.0 756.7,366.4 758.4,366.9 755.1,367.3 760.2,367.8 758.9,368.2 759.4,368.7 758.0,369.1 758.4,369.6 755.9,370.0 761.6,370.5 762.3,370.9 761.7,371.4 756.5,371.8 762.5,372.3 762.8,372.7 761.7,373.2 764.5,373.6 764.6,374.1 764.4,374.5 759.2,375.0 760.0,375.4 761.0,375.9 763.1,376.3 755.5,376.8 758.7,377.2 756.5,377.7 762.5,378.1 759.8,378.6 758.6,379.0 755.3,379.5 760.1,379.9 756.8,380.4 759.7,380.8 758.2,381.3 756.7,381.7 754.3,382.2 755.0,382.6 755.5,383.1 756.1,383.5 757.7,384.0 758.1,384.4 756.1,384.9 754.9,385.3 757.5,385.8 756.0,386.2 756.7,386.7 755.4,387.1 757.8,387.6 756.5,388.0 758.1,388.5 757.0,388.9 758.6,389.4 754.8,389.8 756.1,390.3 754.8,390.7 755.7,391.2 755.5,391.6 755.5,392.1 755.6,392.5 758.2,393.0 758.9,393.4 757.4,393.9 759.0,394.3 758.9,394.8 757.5,395.2 758.8,395.7 760.2,396.1 760.9,396.6 762.2,397.0 759.5,397.5 763.2,397.9 762.6,398.4 762.5,398.8 757.6,399.3 759.0,399.7 757.6,400.2 762.8,400.6 760.3,401.1 761.0,401.5 755.8,402.0 762.7,402.4 759.6,402.9 761.6,403.3 758.6,403.8 758.8,404.2 758.7,404.7 760.7,405.1 755.2,405.6 758.7,406.0 757.4,406.5 760.9,406.9 758.2,407.4 762.7,407.8 762.1,408.3 757.3,408.7 757.2,409.2 767.3,409.6 763.4,410.1 772.0,410.5 759.1,411.0 764.9,411.4 769.0,411.9 770.3,412.3 763.9,412.8 773.1,413.2 770.7,413.7 763.7,414.1 768.1,414.6 769.0,415.0 768.1,415.5 761.2,415.9 761.3,416.4 762.2,416.8 760.7,417.3 757.5,417.7 757.6,418.2 757.4,418.6 760.0,419.1 757.5,419.5 755.4,420.0 753.8,420.4 755.3,420.9 757.3,421.3 759.1,421.8 758.5,422.2 759.1,422.7 759.3,423.1 754.0,423.6 758.3,424.0 755.0,424.5 758.9,424.9 756.6,425.4 759.8,425.8 760.6,426.3 760.8,426.7 759.5,427.2 757.2,427.6 762.2,428.1 755.3,428.5 764.5,429.0 757.9,429.4 764.1,429.9 757.8,430.3 758.7,430.8 768.2,431.2 769.5,431.7 766.3,432.1 771.7,432.6 764.9,433.0 772.9,433.5 767.4,433.9 762.4,434.4 774.8,434.8 765.1,435.3 763.0,435.7 774.2,436.2 785.9,436.6 788.8,437.1 785.5,437.5 768.2,438.0 793.2,438.4 794.7,438.9 783.2,439.3 791.5,439.8 810.6,440.2 795.4,440.7 780.1,441.1 768.2,441.6 787.9,442.0 769.7,442.5 816.6,442.9 778.9,443.4 769.2,443.8 770.6,444.3 794.8,444.7 784.2,445.2 776.2,445.6 770.6,446.1 814.6,446.5 796.1,447.0 793.6,447.4 775.0,447.9 769.2,448.3 784.7,448.8 810.6,449.2 767.2,449.7 793.4,450.1 795.5,450.6 797.9,451.0 773.6,451.5 802.5,451.9 810.4,452.4 819.9,452.8 820.6,453.3 825.3,453.7 801.5,454.2 827.4,454.6 864.6,455.1 839.2,455.5 860.1,456.0 876.6,456.4 837.0,456.9 883.6,457.3 834.6,457.8 852.6,458.2 807.7,458.7 813.0,459.1 842.6,459.6 830.6,460.0 807.2,460.5 786.6,460.9 814.6,461.4 769.5,461.8 783.8,462.3 765.1,462.7 758.5,463.2 758.5,463.6 763.2,464.1 759.9,464.5 763.0,465.0 761.9,465.4 758.2,465.9 765.5,466.3 764.4,466.8 768.0,467.2 764.8,467.7 768.1,468.1 762.7,468.6 775.2,469.0 778.4,469.5 771.1,469.9 774.8,470.4 766.8,470.8 782.0,471.3 772.4,471.7 768.7,472.2 783.7,472.6 770.4,473.1 775.5,473.5 774.7,474.0 787.2,474.4 772.5,474.9 791.1,475.3 790.7,475.8 783.4,476.2 773.9,476.7 785.4,477.1 767.2,477.6 780.1,478.0 787.9,478.5 772.9,478.9 785.6,479.4 784.0,479.8 768.7,480.3 780.2,480.7 772.8,481.2 768.6,481.6 780.3,482.1 772.7,482.5 768.3,483.0 772.3,483.4 774.1,483.9 776.3,484.3 767.8,484.8 769.2,485.2 775.5,485.7 770.0,486.1 774.1,486.6 777.8,487.0 771.3,487.5 764.1,487.9 766.8,488.4 762.4,488.8 767.8,489.3 765.8,489.7 775.9,490.2 761.1,490.6 767.7,491.1 765.4,491.5 767.9,492.0 774.2,492.4 779.9,492.9 776.3,493.3 771.4,493.8 765.7,494.2 766.7,494.7 777.3,495.1 772.6,495.6 764.8,496.0 785.6,496.5 784.3,496.9 782.3,497.4 778.4,497.8 768.0,498.3 761.3,498.7 772.1,499.2 777.9,499.6 771.5,500.1 774.5,500.5 763.7,501.0 768.8,501.4 769.8,501.9 761.2,502.3 758.6,502.8 762.6,503.2 767.8,503.7 765.5,504.1 769.9,504.6 760.8,505.0 771.1,505.5 770.3,505.9 763.0,506.4 773.0,506.8 760.5,507.3 765.0,507.7 764.4,508.2 768.1,508.6 760.6,509.1 758.9,509.5 765.8,510.0 762.5,510.4 763.7,510.9 766.2,511.3 765.4,511.8 767.9,512.2 769.5,512.7 768.4,513.1 767.9,513.6 765.0,514.0 762.2,514.5 762.4,514.9 762.2,515.4 766.6,515.8 759.9,516.3 760.3,516.7 758.4,517.2 758.7,517.6 761.7,518.1 764.5,518.5 764.0,519.0 768.9,519.4 759.6,519.9 764.3,520.3 768.4,520.8 772.4,521.2 765.2,521.7 765.6,522.1 760.4,522.6 769.2,523.0 765.0,523.5 767.6,523.9 772.8,524.4 761.2,524.8 773.8,525.3 769.1,525.7 766.2,526.2 768.1,526.6 770.4,527.1 773.2,527.5 762.7,528.0 762.2,528.4 761.3,528.9 774.8,529.3 770.5,529.8 765.1,530.2 767.2,530.7 771.8,531.1 758.5,531.6 772.6,532.0 770.3,532.5 763.5,532.9 764.9,533.4 769.0,533.8 765.5,534.3 765.0,534.7 762.1,535.2 760.0,535.6 768.7,536.1 762.8,536.5 762.7,537.0 765.6,537.4 759.4,537.9 769.4,538.3 772.5,538.8 765.6,539.2 761.9,539.7 770.8,540.1 767.5,540.6 763.7,541.0 759.5,541.5 762.9,541.9 769.5,542.4 768.6,542.8 763.7,543.3 765.9,543.7 764.1,544.2 760.7,544.6 762.4,545.1 760.8,545.5 755.4,546.0 757.3,546.4 754.9,546.9 754.7,547.3 754.5,547.8 755.3,548.2 755.7,548.7 753.5,549.1 755.6,549.6 755.1,550.0 754.9,550.5 755.4,550.9 757.0,551.4 762.8,551.8 762.1,552.3 758.1,552.7 764.6,553.2 762.3,553.6 758.5,554.1 764.5,554.5 759.1,555.0 775.6,555.4 775.2,555.9 775.9,556.3 768.0,556.8 770.4,557.2 771.7,557.7 783.5,558.1 771.5,558.6 785.3,559.0 769.4,559.5 774.8,559.9 765.9,560.4 776.5,560.8 771.8,561.3 775.1,561.7 769.3,562.2 768.6,562.6 759.0,563.1 764.4,563.5 770.7,564.0 761.9,564.4 773.1,564.9 771.6,565.3 765.5,565.8 761.6,566.2 758.6,566.7 768.7,567.1 761.7,567.6 765.9,568.0 764.1,568.5 759.4,568.9 759.2,569.4 759.3,569.8 761.7,570.3 756.4,570.7 755.6,571.2 754.6,571.6 755.3,572.1 754.8,572.5 757.2,573.0 755.4,573.4 754.6,573.9 755.3,574.3 754.1,574.8 754.2,575.2 753.9,575.7 753.6,576.1 753.3,576.6 754.0,577.0 753.1,577.5 753.4,577.9 752.2,578.4 753.5,578.8 753.5,579.3 752.4,579.7 753.6,580.2 753.9,580.6 753.7,581.1 753.2,581.5 753.1,582.0 753.1,582.4 752.8,582.9 753.5,583.3 753.6,583.8 753.7,584.2 753.2,584.7 753.1,585.1 753.2,585.6 753.5,586.0 754.5,586.5 752.5,586.9 753.0,587.4 753.9,587.8 752.9,588.3 752.7,588.7 752.8,589.2 753.6,589.6 753.0,590.1 753.4,590.5 753.2,591.0 753.1,591.4 753.8,591.9 752.5,592.3 753.3,592.8 753.3,593.2 753.0,593.7 753.6,594.1 753.0,594.6 753.3,595.0 753.0,595.5 752.7,595.9 753.0,596.4 752.5,596.8 752.9,597.3 753.3,597.7 752.7,598.2 754.0,598.6 752.5,599.1 753.7,599.5 753.3,600.0 753.1,600.4 753.5,600.9 753.2,601.3 753.0,601.8 753.1,602.2 753.2,602.7 753.1,603.1 752.5,603.6 752.7,604.0 753.1,604.5 752.0,604.9 752.9,605.4 752.9,605.8 752.9,606.3 753.0,606.7 751.6,607.2 753.5,607.6 753.7,608.1 753.3,608.5 753.3,609.0 752.9,609.4 752.9,609.9 752.7,610.3 753.2,610.8 752.2,611.2 753.7,611.7 752.6,612.1 753.0,612.6 753.0,613.0 753.3,613.5 754.1,613.9 753.7,614.4 753.1,614.8 752.9,615.3 753.0,615.7 753.3,616.2 752.7,616.6 752.6,617.1 752.9,617.5 753.0,618.0 753.2,618.4 753.4,618.9 753.6,619.3 753.5,619.8 753.9,620.2 753.2,620.7 753.6,621.1 752.6,621.6 753.6,622.0 753.4,622.5 753.3,622.9 753.2,623.4 753.6,623.8 752.5,624.3 752.8,624.7 752.7,625.2 752.4,625.6 753.1,626.1 752.0,626.5 752.5,627.0 752.8,627.4 753.1,627.9 753.0,628.3 752.8,628.8 752.9,629.2 752.4,629.7 753.4,630.1 753.0,630.6 752.6,631.0 752.6,631.5 753.2,631.9 752.5,632.4 753.5,632.8 753.4,633.3 755.3,633.7 755.8,634.2 756.8,634.6 756.9,635.1 755.5,635.5 758.9,636.0 755.3,636.4 755.4,636.9 753.5,637.3 754.0,637.8" fill="none" stroke="#000" stroke-width="1.9" stroke-linejoin="round"/>
<text x="746" y="702.2" font-size="31" fill="#000" text-anchor="start" font-family='"Liberation Sans", Arial, Helvetica, sans-serif' textLength="142.5" lengthAdjust="spacingAndGlyphs">Amplitude</text>
<text x="771.5" y="337.5" font-size="25" fill="#000" text-anchor="start" font-family='"DejaVu Sans", Verdana, sans-serif' textLength="192" lengthAdjust="spacingAndGlyphs">frequency 95%</text>
<line x1="819.5" y1="347.0" x2="787.3" y2="369.0" stroke="#000" stroke-width="4.2" stroke-linecap="round"/>
<polygon points="772.4,379.2 783.3,359.7 794.6,376.2" fill="#000" stroke="#000" stroke-width="2" stroke-linejoin="round"/>
<line x1="875.9" y1="522.5" x2="875.9" y2="482.7" stroke="#000" stroke-width="4.2" stroke-linecap="round"/>
<polygon points="875.9,464.7 885.9,484.7 865.9,484.7" fill="#000" stroke="#000" stroke-width="2" stroke-linejoin="round"/>
<text x="873.7" y="548.7" font-size="25" fill="#000" text-anchor="middle" font-family='"DejaVu Sans", Verdana, sans-serif' textLength="119.5" lengthAdjust="spacingAndGlyphs">dominant</text>
<text x="872.8" y="579.1" font-size="25" fill="#000" text-anchor="middle" font-family='"DejaVu Sans", Verdana, sans-serif' textLength="123" lengthAdjust="spacingAndGlyphs">frequency</text>
<line x1="809.0" y1="623.2" x2="786.1" y2="590.9" stroke="#000" stroke-width="4.2" stroke-linecap="round"/>
<polygon points="775.7,576.2 795.4,586.7 779.1,598.3" fill="#000" stroke="#000" stroke-width="2" stroke-linejoin="round"/>
<text x="816.7" y="630.6" font-size="25" fill="#000" text-anchor="start" font-family='"DejaVu Sans", Verdana, sans-serif' textLength="175.5" lengthAdjust="spacingAndGlyphs">frequency 5%</text>
<path d="M951 385.5H963.8V572.6H951" fill="none" stroke="#000" stroke-width="2.4"/>
<text x="973.5" y="380.4" font-size="25" fill="#000" text-anchor="start" font-family='"DejaVu Sans", Verdana, sans-serif' textLength="196" lengthAdjust="spacingAndGlyphs" transform="rotate(90 973.5 380.4)">bandwidth 90%</text>
<text x="1019" y="38.7" font-size="48.5" fill="#000" text-anchor="start" font-family='"Liberation Sans", Arial, Helvetica, sans-serif' font-weight="bold">b</text>
<line x1="1138.7" y1="23.4" x2="1138.7" y2="672.7" stroke="#000" stroke-width="3.3" stroke-linecap="butt"/>
<line x1="1137.1" y1="671.1" x2="1997" y2="671.1" stroke="#000" stroke-width="3.3" stroke-linecap="butt"/>
<line x1="1128.8" y1="52.5" x2="1138" y2="52.5" stroke="#333" stroke-width="3.3" stroke-linecap="butt"/>
<text x="1120.3" y="62.6" font-size="25.2" fill="#4d4d4d" text-anchor="end" font-family='"Liberation Sans", Arial, Helvetica, sans-serif'>10°S</text>
<line x1="1128.8" y1="140.055" x2="1138" y2="140.055" stroke="#333" stroke-width="3.3" stroke-linecap="butt"/>
<text x="1120.3" y="150.155" font-size="25.2" fill="#4d4d4d" text-anchor="end" font-family='"Liberation Sans", Arial, Helvetica, sans-serif'>15°S</text>
<line x1="1128.8" y1="227.60999999999999" x2="1138" y2="227.60999999999999" stroke="#333" stroke-width="3.3" stroke-linecap="butt"/>
<text x="1120.3" y="237.70999999999998" font-size="25.2" fill="#4d4d4d" text-anchor="end" font-family='"Liberation Sans", Arial, Helvetica, sans-serif'>20°S</text>
<line x1="1128.8" y1="315.16499999999996" x2="1138" y2="315.16499999999996" stroke="#333" stroke-width="3.3" stroke-linecap="butt"/>
<text x="1120.3" y="325.265" font-size="25.2" fill="#4d4d4d" text-anchor="end" font-family='"Liberation Sans", Arial, Helvetica, sans-serif'>25°S</text>
<line x1="1128.8" y1="402.71999999999997" x2="1138" y2="402.71999999999997" stroke="#333" stroke-width="3.3" stroke-linecap="butt"/>
<text x="1120.3" y="412.82" font-size="25.2" fill="#4d4d4d" text-anchor="end" font-family='"Liberation Sans", Arial, Helvetica, sans-serif'>30°S</text>
<line x1="1128.8" y1="490.275" x2="1138" y2="490.275" stroke="#333" stroke-width="3.3" stroke-linecap="butt"/>
<text x="1120.3" y="500.375" font-size="25.2" fill="#4d4d4d" text-anchor="end" font-family='"Liberation Sans", Arial, Helvetica, sans-serif'>35°S</text>
<line x1="1128.8" y1="577.8299999999999" x2="1138" y2="577.8299999999999" stroke="#333" stroke-width="3.3" stroke-linecap="butt"/>
<text x="1120.3" y="587.93" font-size="25.2" fill="#4d4d4d" text-anchor="end" font-family='"Liberation Sans", Arial, Helvetica, sans-serif'>40°S</text>
<line x1="1128.8" y1="665.385" x2="1138" y2="665.385" stroke="#333" stroke-width="3.3" stroke-linecap="butt"/>
<text x="1120.3" y="675.485" font-size="25.2" fill="#4d4d4d" text-anchor="end" font-family='"Liberation Sans", Arial, Helvetica, sans-serif'>45°S</text>
<line x1="1177.7" y1="671.5" x2="1177.7" y2="680.7" stroke="#333" stroke-width="3.3" stroke-linecap="butt"/>
<text x="1178.5" y="707.7" font-size="25.2" fill="#4d4d4d" text-anchor="middle" font-family='"Liberation Sans", Arial, Helvetica, sans-serif'>110°E</text>
<line x1="1333.7" y1="671.5" x2="1333.7" y2="680.7" stroke="#333" stroke-width="3.3" stroke-linecap="butt"/>
<text x="1334.5" y="707.7" font-size="25.2" fill="#4d4d4d" text-anchor="middle" font-family='"Liberation Sans", Arial, Helvetica, sans-serif'>120°E</text>
<line x1="1489.7" y1="671.5" x2="1489.7" y2="680.7" stroke="#333" stroke-width="3.3" stroke-linecap="butt"/>
<text x="1490.5" y="707.7" font-size="25.2" fill="#4d4d4d" text-anchor="middle" font-family='"Liberation Sans", Arial, Helvetica, sans-serif'>130°E</text>
<line x1="1645.7" y1="671.5" x2="1645.7" y2="680.7" stroke="#333" stroke-width="3.3" stroke-linecap="butt"/>
<text x="1646.5" y="707.7" font-size="25.2" fill="#4d4d4d" text-anchor="middle" font-family='"Liberation Sans", Arial, Helvetica, sans-serif'>140°E</text>
<line x1="1801.7" y1="671.5" x2="1801.7" y2="680.7" stroke="#333" stroke-width="3.3" stroke-linecap="butt"/>
<text x="1802.5" y="707.7" font-size="25.2" fill="#4d4d4d" text-anchor="middle" font-family='"Liberation Sans", Arial, Helvetica, sans-serif'>150°E</text>
<line x1="1957.7" y1="671.5" x2="1957.7" y2="680.7" stroke="#333" stroke-width="3.3" stroke-linecap="butt"/>
<text x="1958.5" y="707.7" font-size="25.2" fill="#4d4d4d" text-anchor="middle" font-family='"Liberation Sans", Arial, Helvetica, sans-serif'>160°E</text>
<text x="1049.2" y="347.1" font-size="36.2" fill="#000" text-anchor="middle" font-family='"Liberation Sans", Arial, Helvetica, sans-serif' textLength="128.5" lengthAdjust="spacingAndGlyphs" transform="rotate(-90 1049.2 347.1)">Latitude</text>
<text x="1567.5" y="748.5" font-size="35.5" fill="#000" text-anchor="middle" font-family='"Liberation Sans", Arial, Helvetica, sans-serif' textLength="158.5" lengthAdjust="spacingAndGlyphs">Longitude</text>
<defs><clipPath id="land"><path d="M1235.0 285.0L1234.2 282.8L1233.9 277.6L1234.0 276.9L1235.3 275.3L1234.5 272.5L1236.2 270.7L1236.6 268.0L1237.8 264.6L1238.8 261.3L1241.8 260.1L1242.7 258.0L1245.0 256.3L1247.9 254.6L1250.1 254.2L1252.9 253.0L1255.0 253.8L1257.7 253.0L1259.5 251.4L1263.2 250.9L1265.0 248.8L1266.7 246.1L1268.6 244.6L1269.7 242.5L1273.4 241.7L1275.0 240.0L1275.8 238.6L1279.4 238.1L1282.2 236.2L1283.8 235.0L1286.4 236.2L1290.0 237.5L1293.7 236.5L1295.1 234.0L1297.2 235.4L1300.0 233.8L1302.8 231.8L1305.2 234.3L1309.2 231.0L1309.2 228.9L1313.3 229.8L1315.0 228.8L1317.8 227.0L1320.0 226.3L1322.9 229.2L1325.0 228.8L1328.1 228.0L1329.4 227.7L1332.7 226.8L1335.6 226.0L1337.5 225.0L1340.7 223.3L1340.9 223.7L1345.4 221.8L1349.2 219.7L1350.0 220.0L1350.9 217.2L1352.5 215.4L1354.6 213.9L1354.8 212.1L1357.5 210.0L1357.2 207.5L1359.8 204.5L1357.7 202.4L1361.3 200.0L1364.9 197.9L1366.3 196.3L1368.5 196.3L1370.0 192.5L1369.3 190.0L1368.9 188.3L1368.2 184.4L1366.5 183.3L1366.3 180.0L1369.3 178.5L1368.8 175.1L1371.3 172.5L1372.9 170.1L1376.1 168.5L1376.4 167.1L1379.5 166.5L1380.0 163.8L1382.5 160.8L1384.7 161.2L1384.6 158.3L1387.5 157.5L1391.6 156.9L1392.9 158.1L1395.1 156.3L1397.0 157.5L1400.0 157.5L1399.6 154.6L1400.1 152.5L1401.0 148.1L1401.3 146.3L1403.1 142.8L1404.6 142.2L1407.9 140.5L1408.8 138.8L1410.3 137.6L1411.5 132.5L1412.5 130.0L1416.2 127.5L1417.7 127.8L1419.7 124.0L1422.5 123.8L1423.9 123.6L1427.1 121.9L1427.2 119.4L1430.0 117.5L1433.4 119.4L1436.3 115.3L1437.9 117.7L1441.3 117.5L1444.7 118.0L1447.1 118.4L1450.0 121.3L1452.3 124.1L1451.6 125.0L1455.4 126.8L1457.6 128.7L1458.8 131.3L1460.0 134.8L1463.4 133.8L1465.0 136.0L1469.0 137.1L1470.9 137.9L1472.1 139.1L1475.0 140.0L1478.3 136.6L1478.6 137.7L1482.5 137.5L1483.0 135.6L1482.8 132.3L1483.4 130.0L1483.8 127.5L1483.9 125.7L1486.6 123.6L1486.5 118.8L1487.8 116.1L1487.6 117.3L1490.0 112.5L1490.8 110.2L1491.1 105.7L1492.4 104.9L1494.2 102.3L1493.8 100.0L1496.5 97.1L1498.0 98.6L1498.6 94.6L1500.8 92.0L1502.5 91.3L1498.4 89.4L1498.8 88.0L1496.3 85.0L1494.0 82.7L1491.3 81.3L1493.8 78.7L1494.0 74.5L1496.3 73.8L1500.4 72.1L1501.1 73.9L1505.0 74.6L1507.5 73.8L1512.5 74.2L1512.5 76.3L1511.5 79.3L1509.4 83.0L1508.8 85.0L1508.7 86.4L1512.2 86.8L1515.0 90.0L1517.9 91.0L1520.2 91.1L1523.5 89.8L1526.3 90.0L1527.9 87.0L1528.8 83.8L1526.2 82.4L1525.0 79.8L1523.4 78.8L1520.7 77.1L1518.8 76.3L1519.3 74.6L1522.5 72.5L1526.2 71.7L1526.8 71.2L1532.2 69.9L1534.3 69.3L1536.3 68.8L1537.1 72.5L1537.7 74.9L1537.5 77.5L1541.1 80.1L1542.2 79.3L1545.7 81.2L1547.5 83.8L1548.5 85.1L1553.3 84.6L1554.8 85.8L1557.5 87.5L1561.3 86.9L1561.9 88.0L1565.4 86.5L1567.8 85.3L1570.0 85.0L1575.0 87.3L1576.7 89.9L1577.5 88.8L1578.8 87.2L1581.0 85.6L1581.6 84.1L1584.6 82.1L1587.5 80.0L1588.4 78.1L1591.3 76.2L1592.3 73.4L1593.7 71.5L1595.0 70.0L1593.8 72.3L1596.0 73.2L1594.5 78.0L1593.8 80.0L1594.4 83.3L1597.5 84.1L1597.5 87.5L1596.1 89.8L1596.6 93.0L1596.5 93.8L1595.8 98.2L1595.0 100.0L1590.8 101.8L1591.0 103.3L1588.2 107.8L1587.5 108.8L1588.8 110.2L1589.8 112.1L1593.7 113.1L1596.3 116.3L1595.2 118.1L1595.3 122.7L1597.8 123.4L1597.5 126.3L1594.9 127.6L1591.3 126.4L1590.0 125.0L1586.1 122.9L1584.2 123.6L1582.5 122.5L1579.3 125.0L1580.0 126.2L1577.7 128.5L1576.4 129.9L1573.8 132.2L1573.8 135.0L1574.0 136.3L1578.2 138.7L1579.0 140.2L1579.2 143.5L1582.5 145.0L1583.5 146.4L1585.6 147.8L1589.2 149.9L1590.1 151.0L1592.7 149.2L1595.0 152.5L1597.3 154.8L1600.4 155.1L1601.2 155.8L1605.0 157.5L1607.0 160.5L1608.6 160.4L1611.1 161.3L1613.0 164.6L1614.1 164.0L1617.5 167.5L1620.5 168.4L1622.8 170.0L1624.5 168.6L1626.8 170.4L1628.2 172.2L1631.3 172.5L1633.7 171.0L1634.7 168.9L1635.9 166.5L1637.5 165.0L1639.1 165.2L1642.5 166.3L1641.5 169.8L1639.8 171.5L1636.9 173.3L1635.0 175.0L1640.0 178.6L1637.7 179.8L1640.0 181.3L1641.9 183.1L1643.7 184.4L1645.8 185.5L1648.8 186.3L1653.1 186.8L1653.5 183.7L1657.0 182.6L1658.8 182.5L1659.1 179.3L1659.7 178.7L1660.9 175.5L1662.6 172.6L1663.7 169.7L1664.7 167.2L1665.1 166.5L1666.3 162.5L1668.0 160.3L1667.2 156.9L1667.9 157.0L1669.1 153.1L1670.7 150.8L1671.9 147.9L1671.3 145.0L1671.0 141.1L1672.9 140.8L1670.9 137.2L1670.8 135.6L1670.3 132.9L1671.0 130.3L1670.0 127.1L1669.3 124.7L1668.1 122.5L1670.0 120.0L1670.0 117.6L1672.0 113.5L1670.6 111.8L1672.4 109.2L1672.6 107.1L1672.3 105.6L1673.1 100.7L1673.8 100.0L1674.0 95.8L1673.8 93.2L1674.7 92.1L1676.1 90.9L1674.8 86.2L1676.3 85.0L1677.1 82.0L1675.9 79.5L1678.0 78.1L1678.3 77.3L1680.3 72.4L1678.6 69.6L1680.3 67.4L1680.0 65.0L1679.6 61.8L1678.3 58.4L1678.1 55.8L1678.8 55.0L1682.5 53.8L1683.2 57.6L1685.0 60.2L1687.5 62.1L1686.3 65.0L1686.8 68.7L1686.6 71.2L1688.7 73.1L1688.7 74.4L1691.3 77.5L1693.4 78.6L1693.1 82.6L1694.1 84.3L1694.2 85.6L1693.9 90.6L1696.3 92.5L1697.4 95.5L1700.0 95.8L1700.0 100.0L1700.7 103.0L1701.0 104.3L1700.7 106.4L1701.8 109.3L1701.3 112.5L1701.5 115.9L1702.8 119.4L1703.5 120.5L1705.3 123.5L1705.0 125.0L1707.4 126.5L1711.3 126.3L1713.9 126.3L1717.5 125.0L1718.3 125.3L1721.0 126.4L1722.0 131.7L1725.0 132.5L1725.4 132.4L1728.4 136.5L1727.2 138.5L1730.0 141.3L1730.4 143.3L1727.2 145.9L1727.5 148.8L1726.6 151.9L1729.6 154.3L1727.8 156.2L1730.0 160.0L1733.6 162.2L1732.5 164.5L1735.2 166.4L1735.9 168.6L1737.1 170.6L1738.8 173.8L1740.0 176.1L1739.3 182.9L1740.5 183.0L1739.4 185.4L1741.3 187.5L1741.8 190.0L1744.4 191.6L1743.9 193.4L1745.5 196.5L1746.1 200.4L1747.5 202.5L1749.5 203.2L1751.6 205.2L1753.0 210.6L1755.0 210.0L1759.6 212.2L1760.0 215.0L1761.7 218.2L1762.6 219.2L1765.0 221.3L1767.5 222.5L1768.9 223.6L1770.0 225.2L1772.4 225.0L1777.1 226.0L1780.0 227.5L1784.0 228.3L1785.8 228.4L1787.5 230.0L1786.6 233.8L1789.5 237.3L1790.0 238.8L1793.2 241.4L1794.2 243.4L1796.2 243.5L1798.8 245.0L1800.3 247.3L1802.1 249.8L1802.2 250.8L1805.0 255.0L1806.3 257.8L1809.2 260.4L1809.4 260.0L1812.5 262.5L1814.2 264.5L1815.6 268.7L1814.6 272.2L1817.7 271.3L1816.3 275.0L1817.2 278.1L1817.6 279.8L1819.6 283.0L1820.0 286.3L1823.0 289.5L1823.9 290.9L1826.7 293.0L1826.3 296.3L1827.3 299.0L1830.1 298.5L1832.0 300.8L1833.8 302.5L1836.0 304.0L1836.4 305.2L1840.2 309.0L1839.2 309.8L1843.0 310.0L1845.0 312.5L1848.5 311.4L1850.7 312.9L1852.5 311.3L1853.4 314.1L1855.0 317.5L1854.0 319.5L1853.2 321.2L1852.3 325.8L1852.5 327.5L1850.9 328.7L1851.3 333.6L1850.0 335.0L1851.4 338.3L1852.4 340.2L1851.8 342.3L1852.7 345.0L1854.5 348.2L1854.2 350.7L1855.5 352.1L1856.0 356.0L1855.0 359.1L1856.9 362.2L1856.8 364.4L1859.1 367.5L1858.7 368.0L1859.7 371.0L1859.3 373.7L1859.0 374.9L1858.5 378.2L1858.6 382.2L1858.2 384.7L1859.0 387.5L1856.9 390.1L1856.3 392.1L1857.9 396.8L1854.9 397.1L1853.9 397.7L1853.8 402.2L1853.8 404.5L1854.2 407.3L1853.4 411.1L1852.2 410.6L1850.7 414.3L1850.3 417.7L1850.5 420.0L1850.3 423.2L1847.7 425.7L1846.5 427.6L1846.2 430.4L1845.0 433.0L1844.3 435.8L1842.4 438.3L1842.8 440.2L1839.9 441.7L1840.0 445.0L1837.7 447.3L1837.6 450.5L1834.7 450.1L1834.3 453.2L1833.2 456.6L1831.6 458.1L1830.0 460.0L1830.1 461.8L1826.5 463.2L1823.7 466.1L1824.8 469.3L1821.2 470.8L1822.8 474.7L1820.0 475.0L1816.4 476.8L1815.9 479.5L1816.9 480.9L1813.4 485.4L1813.5 488.1L1812.5 490.0L1812.4 490.4L1811.0 495.3L1807.0 497.8L1807.5 500.0L1806.2 503.2L1805.2 504.4L1807.3 508.3L1805.7 510.7L1804.5 511.7L1803.8 515.0L1803.4 517.7L1802.9 519.5L1802.8 525.3L1801.3 526.3L1801.1 529.4L1802.4 532.9L1800.0 535.0L1797.9 535.3L1795.3 535.8L1793.2 536.6L1790.0 536.3L1789.7 535.1L1784.0 537.4L1783.6 538.3L1778.1 538.9L1777.7 538.7L1775.0 540.0L1772.1 542.7L1769.3 542.5L1769.4 544.1L1765.4 545.0L1762.2 544.8L1760.0 547.5L1758.0 549.0L1755.9 551.9L1752.0 554.1L1751.7 555.4L1750.0 557.5L1745.8 560.0L1745.8 562.6L1745.0 563.8L1741.5 559.9L1741.9 557.1L1740.0 556.3L1737.0 555.9L1735.2 556.4L1732.3 555.3L1730.0 555.0L1727.5 553.7L1725.2 549.6L1725.3 548.8L1721.5 549.5L1720.0 546.3L1717.2 548.6L1715.3 550.0L1712.5 550.0L1710.4 550.4L1709.2 551.7L1706.4 554.4L1704.6 555.3L1701.3 557.0L1698.5 556.8L1696.8 554.9L1693.3 555.9L1694.5 553.9L1691.2 552.1L1687.5 552.5L1684.4 550.7L1682.4 552.3L1679.4 549.4L1677.4 550.1L1675.0 547.5L1672.5 548.9L1670.9 548.3L1667.5 548.8L1665.2 546.4L1665.2 544.7L1663.8 542.5L1660.6 541.0L1657.7 541.1L1656.0 540.2L1652.5 538.8L1649.8 536.5L1647.9 534.5L1647.5 529.7L1645.6 528.5L1643.8 527.5L1643.4 525.1L1642.7 522.8L1641.1 520.5L1640.5 516.9L1640.0 515.0L1638.9 513.1L1638.3 509.9L1635.5 508.2L1635.1 504.0L1633.8 502.6L1632.5 500.0L1630.8 499.0L1631.4 495.2L1629.0 492.2L1628.0 491.8L1626.3 488.0L1626.3 484.7L1624.6 481.9L1625.0 480.0L1624.4 476.1L1622.7 475.0L1620.7 470.7L1621.3 469.9L1620.0 467.5L1617.0 466.0L1615.5 469.6L1617.5 472.5L1617.2 475.2L1615.7 477.0L1616.3 480.2L1615.0 482.5L1615.0 483.1L1611.8 487.3L1610.4 489.9L1610.0 491.3L1607.6 492.9L1601.5 493.8L1601.2 493.8L1598.8 493.8L1597.5 490.0L1601.6 487.6L1603.6 487.5L1605.0 487.5L1605.2 485.8L1607.9 481.7L1606.4 479.9L1608.4 476.7L1608.8 475.0L1610.4 472.4L1611.4 470.7L1609.9 468.0L1610.1 466.5L1611.6 462.6L1612.5 460.0L1611.2 456.8L1611.8 454.3L1614.1 454.7L1611.0 448.5L1611.0 447.7L1611.3 445.0L1611.3 447.2L1610.9 450.8L1611.0 453.2L1610.0 455.0L1607.4 456.9L1604.6 458.8L1603.8 461.3L1602.4 462.8L1600.0 465.0L1597.8 466.8L1596.7 468.1L1595.0 470.0L1594.5 470.9L1591.8 474.1L1589.6 477.2L1588.6 478.1L1587.5 480.0L1587.0 481.8L1582.8 485.4L1584.2 487.0L1581.3 488.8L1579.7 487.3L1578.0 484.5L1575.5 482.8L1574.6 480.5L1572.5 477.5L1569.6 476.0L1570.3 473.0L1568.5 471.6L1567.1 470.3L1565.0 467.2L1565.0 465.0L1561.3 464.3L1561.6 460.7L1558.2 459.8L1557.2 457.6L1556.3 456.3L1552.7 454.6L1552.0 452.3L1553.5 448.2L1551.5 446.3L1550.0 445.0L1548.3 444.7L1545.6 444.5L1543.7 441.9L1542.8 440.3L1538.9 438.9L1537.5 437.5L1535.4 436.2L1531.7 435.9L1528.3 438.1L1526.3 435.6L1523.8 435.0L1520.4 434.5L1518.6 433.7L1518.8 433.9L1515.2 430.9L1513.0 429.1L1511.0 427.5L1507.5 427.5L1503.3 427.0L1502.6 429.7L1499.8 427.3L1496.9 428.3L1494.6 429.7L1492.5 430.0L1489.4 429.5L1487.6 429.8L1483.4 429.5L1482.1 428.9L1478.8 428.2L1477.1 428.3L1475.0 430.0L1472.4 431.9L1469.9 431.8L1469.1 432.1L1465.0 435.0L1460.8 435.5L1458.7 438.7L1456.1 435.7L1455.3 435.7L1454.3 435.7L1450.1 438.2L1446.0 437.6L1445.0 438.8L1442.8 438.9L1439.8 440.0L1438.7 442.1L1435.4 439.8L1432.8 440.3L1429.4 439.4L1427.5 441.3L1423.8 443.3L1423.6 443.4L1419.5 443.2L1418.5 447.4L1414.5 444.5L1412.5 447.5L1410.8 449.4L1408.2 449.4L1406.7 449.6L1405.0 451.7L1401.7 455.3L1400.0 455.0L1398.9 457.6L1398.0 460.4L1396.3 463.8L1394.9 466.4L1391.3 468.1L1390.0 470.0L1388.0 470.5L1386.3 470.5L1382.4 470.0L1380.4 470.1L1379.4 471.3L1375.0 471.3L1371.4 471.9L1370.5 472.1L1367.8 472.9L1364.5 471.3L1363.3 470.6L1360.0 471.3L1357.7 472.5L1356.5 470.5L1353.2 470.8L1348.1 473.7L1347.0 471.1L1345.0 471.3L1343.2 471.3L1338.5 472.5L1335.3 472.3L1335.5 472.2L1331.6 473.6L1330.0 472.5L1330.8 474.8L1326.7 476.2L1324.4 478.7L1323.3 480.1L1321.3 482.5L1319.6 483.4L1315.8 484.8L1314.9 485.4L1311.3 486.3L1309.3 487.9L1305.3 489.0L1302.9 491.0L1301.3 492.0L1298.4 492.3L1295.0 491.1L1291.7 490.2L1290.7 492.1L1287.5 491.3L1285.3 491.2L1284.8 491.4L1277.2 490.0L1278.1 489.8L1273.8 488.8L1271.0 486.7L1270.9 484.7L1268.8 482.5L1266.4 480.1L1263.0 479.7L1261.3 478.8L1258.8 477.6L1257.6 474.4L1255.0 472.5L1254.9 469.7L1255.6 468.8L1258.8 465.0L1261.4 463.4L1264.2 460.7L1265.0 460.0L1266.4 458.3L1265.5 454.5L1265.8 453.7L1266.2 451.0L1265.7 448.8L1267.8 445.0L1266.1 441.9L1266.3 440.0L1264.8 438.3L1264.1 435.0L1263.2 432.5L1263.2 429.4L1262.5 427.5L1260.9 425.5L1261.1 423.1L1260.0 420.6L1260.1 417.8L1257.0 414.9L1257.7 413.2L1256.3 410.0L1255.8 408.0L1255.5 404.7L1255.3 402.1L1256.3 401.2L1255.4 397.2L1256.1 394.2L1255.0 392.5L1254.2 388.7L1254.1 388.5L1250.1 386.3L1249.8 381.7L1250.9 380.2L1248.8 377.5L1246.7 376.5L1246.2 372.0L1246.5 370.0L1244.8 366.4L1243.7 366.1L1244.4 362.1L1241.3 360.0L1239.1 358.1L1238.0 354.8L1238.5 351.2L1238.6 349.0L1238.5 347.5L1236.3 345.0L1235.2 341.1L1231.9 341.4L1230.3 339.8L1227.9 338.7L1226.3 335.0L1226.4 332.0L1226.7 331.2L1225.4 328.2L1223.8 325.0L1227.6 324.5L1230.0 322.5L1231.0 317.8L1233.6 316.6L1233.8 315.0L1232.0 312.4L1234.5 309.9L1233.3 308.9L1233.1 305.4L1231.0 302.4L1231.3 300.0L1233.9 297.8L1231.7 295.2L1232.7 292.2L1232.7 290.2L1235.7 287.3Z"/></clipPath></defs>
<path d="M1235.0 285.0L1234.2 282.8L1233.9 277.6L1234.0 276.9L1235.3 275.3L1234.5 272.5L1236.2 270.7L1236.6 268.0L1237.8 264.6L1238.8 261.3L1241.8 260.1L1242.7 258.0L1245.0 256.3L1247.9 254.6L1250.1 254.2L1252.9 253.0L1255.0 253.8L1257.7 253.0L1259.5 251.4L1263.2 250.9L1265.0 248.8L1266.7 246.1L1268.6 244.6L1269.7 242.5L1273.4 241.7L1275.0 240.0L1275.8 238.6L1279.4 238.1L1282.2 236.2L1283.8 235.0L1286.4 236.2L1290.0 237.5L1293.7 236.5L1295.1 234.0L1297.2 235.4L1300.0 233.8L1302.8 231.8L1305.2 234.3L1309.2 231.0L1309.2 228.9L1313.3 229.8L1315.0 228.8L1317.8 227.0L1320.0 226.3L1322.9 229.2L1325.0 228.8L1328.1 228.0L1329.4 227.7L1332.7 226.8L1335.6 226.0L1337.5 225.0L1340.7 223.3L1340.9 223.7L1345.4 221.8L1349.2 219.7L1350.0 220.0L1350.9 217.2L1352.5 215.4L1354.6 213.9L1354.8 212.1L1357.5 210.0L1357.2 207.5L1359.8 204.5L1357.7 202.4L1361.3 200.0L1364.9 197.9L1366.3 196.3L1368.5 196.3L1370.0 192.5L1369.3 190.0L1368.9 188.3L1368.2 184.4L1366.5 183.3L1366.3 180.0L1369.3 178.5L1368.8 175.1L1371.3 172.5L1372.9 170.1L1376.1 168.5L1376.4 167.1L1379.5 166.5L1380.0 163.8L1382.5 160.8L1384.7 161.2L1384.6 158.3L1387.5 157.5L1391.6 156.9L1392.9 158.1L1395.1 156.3L1397.0 157.5L1400.0 157.5L1399.6 154.6L1400.1 152.5L1401.0 148.1L1401.3 146.3L1403.1 142.8L1404.6 142.2L1407.9 140.5L1408.8 138.8L1410.3 137.6L1411.5 132.5L1412.5 130.0L1416.2 127.5L1417.7 127.8L1419.7 124.0L1422.5 123.8L1423.9 123.6L1427.1 121.9L1427.2 119.4L1430.0 117.5L1433.4 119.4L1436.3 115.3L1437.9 117.7L1441.3 117.5L1444.7 118.0L1447.1 118.4L1450.0 121.3L1452.3 124.1L1451.6 125.0L1455.4 126.8L1457.6 128.7L1458.8 131.3L1460.0 134.8L1463.4 133.8L1465.0 136.0L1469.0 137.1L1470.9 137.9L1472.1 139.1L1475.0 140.0L1478.3 136.6L1478.6 137.7L1482.5 137.5L1483.0 135.6L1482.8 132.3L1483.4 130.0L1483.8 127.5L1483.9 125.7L1486.6 123.6L1486.5 118.8L1487.8 116.1L1487.6 117.3L1490.0 112.5L1490.8 110.2L1491.1 105.7L1492.4 104.9L1494.2 102.3L1493.8 100.0L1496.5 97.1L1498.0 98.6L1498.6 94.6L1500.8 92.0L1502.5 91.3L1498.4 89.4L1498.8 88.0L1496.3 85.0L1494.0 82.7L1491.3 81.3L1493.8 78.7L1494.0 74.5L1496.3 73.8L1500.4 72.1L1501.1 73.9L1505.0 74.6L1507.5 73.8L1512.5 74.2L1512.5 76.3L1511.5 79.3L1509.4 83.0L1508.8 85.0L1508.7 86.4L1512.2 86.8L1515.0 90.0L1517.9 91.0L1520.2 91.1L1523.5 89.8L1526.3 90.0L1527.9 87.0L1528.8 83.8L1526.2 82.4L1525.0 79.8L1523.4 78.8L1520.7 77.1L1518.8 76.3L1519.3 74.6L1522.5 72.5L1526.2 71.7L1526.8 71.2L1532.2 69.9L1534.3 69.3L1536.3 68.8L1537.1 72.5L1537.7 74.9L1537.5 77.5L1541.1 80.1L1542.2 79.3L1545.7 81.2L1547.5 83.8L1548.5 85.1L1553.3 84.6L1554.8 85.8L1557.5 87.5L1561.3 86.9L1561.9 88.0L1565.4 86.5L1567.8 85.3L1570.0 85.0L1575.0 87.3L1576.7 89.9L1577.5 88.8L1578.8 87.2L1581.0 85.6L1581.6 84.1L1584.6 82.1L1587.5 80.0L1588.4 78.1L1591.3 76.2L1592.3 73.4L1593.7 71.5L1595.0 70.0L1593.8 72.3L1596.0 73.2L1594.5 78.0L1593.8 80.0L1594.4 83.3L1597.5 84.1L1597.5 87.5L1596.1 89.8L1596.6 93.0L1596.5 93.8L1595.8 98.2L1595.0 100.0L1590.8 101.8L1591.0 103.3L1588.2 107.8L1587.5 108.8L1588.8 110.2L1589.8 112.1L1593.7 113.1L1596.3 116.3L1595.2 118.1L1595.3 122.7L1597.8 123.4L1597.5 126.3L1594.9 127.6L1591.3 126.4L1590.0 125.0L1586.1 122.9L1584.2 123.6L1582.5 122.5L1579.3 125.0L1580.0 126.2L1577.7 128.5L1576.4 129.9L1573.8 132.2L1573.8 135.0L1574.0 136.3L1578.2 138.7L1579.0 140.2L1579.2 143.5L1582.5 145.0L1583.5 146.4L1585.6 147.8L1589.2 149.9L1590.1 151.0L1592.7 149.2L1595.0 152.5L1597.3 154.8L1600.4 155.1L1601.2 155.8L1605.0 157.5L1607.0 160.5L1608.6 160.4L1611.1 161.3L1613.0 164.6L1614.1 164.0L1617.5 167.5L1620.5 168.4L1622.8 170.0L1624.5 168.6L1626.8 170.4L1628.2 172.2L1631.3 172.5L1633.7 171.0L1634.7 168.9L1635.9 166.5L1637.5 165.0L1639.1 165.2L1642.5 166.3L1641.5 169.8L1639.8 171.5L1636.9 173.3L1635.0 175.0L1640.0 178.6L1637.7 179.8L1640.0 181.3L1641.9 183.1L1643.7 184.4L1645.8 185.5L1648.8 186.3L1653.1 186.8L1653.5 183.7L1657.0 182.6L1658.8 182.5L1659.1 179.3L1659.7 178.7L1660.9 175.5L1662.6 172.6L1663.7 169.7L1664.7 167.2L1665.1 166.5L1666.3 162.5L1668.0 160.3L1667.2 156.9L1667.9 157.0L1669.1 153.1L1670.7 150.8L1671.9 147.9L1671.3 145.0L1671.0 141.1L1672.9 140.8L1670.9 137.2L1670.8 135.6L1670.3 132.9L1671.0 130.3L1670.0 127.1L1669.3 124.7L1668.1 122.5L1670.0 120.0L1670.0 117.6L1672.0 113.5L1670.6 111.8L1672.4 109.2L1672.6 107.1L1672.3 105.6L1673.1 100.7L1673.8 100.0L1674.0 95.8L1673.8 93.2L1674.7 92.1L1676.1 90.9L1674.8 86.2L1676.3 85.0L1677.1 82.0L1675.9 79.5L1678.0 78.1L1678.3 77.3L1680.3 72.4L1678.6 69.6L1680.3 67.4L1680.0 65.0L1679.6 61.8L1678.3 58.4L1678.1 55.8L1678.8 55.0L1682.5 53.8L1683.2 57.6L1685.0 60.2L1687.5 62.1L1686.3 65.0L1686.8 68.7L1686.6 71.2L1688.7 73.1L1688.7 74.4L1691.3 77.5L1693.4 78.6L1693.1 82.6L1694.1 84.3L1694.2 85.6L1693.9 90.6L1696.3 92.5L1697.4 95.5L1700.0 95.8L1700.0 100.0L1700.7 103.0L1701.0 104.3L1700.7 106.4L1701.8 109.3L1701.3 112.5L1701.5 115.9L1702.8 119.4L1703.5 120.5L1705.3 123.5L1705.0 125.0L1707.4 126.5L1711.3 126.3L1713.9 126.3L1717.5 125.0L1718.3 125.3L1721.0 126.4L1722.0 131.7L1725.0 132.5L1725.4 132.4L1728.4 136.5L1727.2 138.5L1730.0 141.3L1730.4 143.3L1727.2 145.9L1727.5 148.8L1726.6 151.9L1729.6 154.3L1727.8 156.2L1730.0 160.0L1733.6 162.2L1732.5 164.5L1735.2 166.4L1735.9 168.6L1737.1 170.6L1738.8 173.8L1740.0 176.1L1739.3 182.9L1740.5 183.0L1739.4 185.4L1741.3 187.5L1741.8 190.0L1744.4 191.6L1743.9 193.4L1745.5 196.5L1746.1 200.4L1747.5 202.5L1749.5 203.2L1751.6 205.2L1753.0 210.6L1755.0 210.0L1759.6 212.2L1760.0 215.0L1761.7 218.2L1762.6 219.2L1765.0 221.3L1767.5 222.5L1768.9 223.6L1770.0 225.2L1772.4 225.0L1777.1 226.0L1780.0 227.5L1784.0 228.3L1785.8 228.4L1787.5 230.0L1786.6 233.8L1789.5 237.3L1790.0 238.8L1793.2 241.4L1794.2 243.4L1796.2 243.5L1798.8 245.0L1800.3 247.3L1802.1 249.8L1802.2 250.8L1805.0 255.0L1806.3 257.8L1809.2 260.4L1809.4 260.0L1812.5 262.5L1814.2 264.5L1815.6 268.7L1814.6 272.2L1817.7 271.3L1816.3 275.0L1817.2 278.1L1817.6 279.8L1819.6 283.0L1820.0 286.3L1823.0 289.5L1823.9 290.9L1826.7 293.0L1826.3 296.3L1827.3 299.0L1830.1 298.5L1832.0 300.8L1833.8 302.5L1836.0 304.0L1836.4 305.2L1840.2 309.0L1839.2 309.8L1843.0 310.0L1845.0 312.5L1848.5 311.4L1850.7 312.9L1852.5 311.3L1853.4 314.1L1855.0 317.5L1854.0 319.5L1853.2 321.2L1852.3 325.8L1852.5 327.5L1850.9 328.7L1851.3 333.6L1850.0 335.0L1851.4 338.3L1852.4 340.2L1851.8 342.3L1852.7 345.0L1854.5 348.2L1854.2 350.7L1855.5 352.1L1856.0 356.0L1855.0 359.1L1856.9 362.2L1856.8 364.4L1859.1 367.5L1858.7 368.0L1859.7 371.0L1859.3 373.7L1859.0 374.9L1858.5 378.2L1858.6 382.2L1858.2 384.7L1859.0 387.5L1856.9 390.1L1856.3 392.1L1857.9 396.8L1854.9 397.1L1853.9 397.7L1853.8 402.2L1853.8 404.5L1854.2 407.3L1853.4 411.1L1852.2 410.6L1850.7 414.3L1850.3 417.7L1850.5 420.0L1850.3 423.2L1847.7 425.7L1846.5 427.6L1846.2 430.4L1845.0 433.0L1844.3 435.8L1842.4 438.3L1842.8 440.2L1839.9 441.7L1840.0 445.0L1837.7 447.3L1837.6 450.5L1834.7 450.1L1834.3 453.2L1833.2 456.6L1831.6 458.1L1830.0 460.0L1830.1 461.8L1826.5 463.2L1823.7 466.1L1824.8 469.3L1821.2 470.8L1822.8 474.7L1820.0 475.0L1816.4 476.8L1815.9 479.5L1816.9 480.9L1813.4 485.4L1813.5 488.1L1812.5 490.0L1812.4 490.4L1811.0 495.3L1807.0 497.8L1807.5 500.0L1806.2 503.2L1805.2 504.4L1807.3 508.3L1805.7 510.7L1804.5 511.7L1803.8 515.0L1803.4 517.7L1802.9 519.5L1802.8 525.3L1801.3 526.3L1801.1 529.4L1802.4 532.9L1800.0 535.0L1797.9 535.3L1795.3 535.8L1793.2 536.6L1790.0 536.3L1789.7 535.1L1784.0 537.4L1783.6 538.3L1778.1 538.9L1777.7 538.7L1775.0 540.0L1772.1 542.7L1769.3 542.5L1769.4 544.1L1765.4 545.0L1762.2 544.8L1760.0 547.5L1758.0 549.0L1755.9 551.9L1752.0 554.1L1751.7 555.4L1750.0 557.5L1745.8 560.0L1745.8 562.6L1745.0 563.8L1741.5 559.9L1741.9 557.1L1740.0 556.3L1737.0 555.9L1735.2 556.4L1732.3 555.3L1730.0 555.0L1727.5 553.7L1725.2 549.6L1725.3 548.8L1721.5 549.5L1720.0 546.3L1717.2 548.6L1715.3 550.0L1712.5 550.0L1710.4 550.4L1709.2 551.7L1706.4 554.4L1704.6 555.3L1701.3 557.0L1698.5 556.8L1696.8 554.9L1693.3 555.9L1694.5 553.9L1691.2 552.1L1687.5 552.5L1684.4 550.7L1682.4 552.3L1679.4 549.4L1677.4 550.1L1675.0 547.5L1672.5 548.9L1670.9 548.3L1667.5 548.8L1665.2 546.4L1665.2 544.7L1663.8 542.5L1660.6 541.0L1657.7 541.1L1656.0 540.2L1652.5 538.8L1649.8 536.5L1647.9 534.5L1647.5 529.7L1645.6 528.5L1643.8 527.5L1643.4 525.1L1642.7 522.8L1641.1 520.5L1640.5 516.9L1640.0 515.0L1638.9 513.1L1638.3 509.9L1635.5 508.2L1635.1 504.0L1633.8 502.6L1632.5 500.0L1630.8 499.0L1631.4 495.2L1629.0 492.2L1628.0 491.8L1626.3 488.0L1626.3 484.7L1624.6 481.9L1625.0 480.0L1624.4 476.1L1622.7 475.0L1620.7 470.7L1621.3 469.9L1620.0 467.5L1617.0 466.0L1615.5 469.6L1617.5 472.5L1617.2 475.2L1615.7 477.0L1616.3 480.2L1615.0 482.5L1615.0 483.1L1611.8 487.3L1610.4 489.9L1610.0 491.3L1607.6 492.9L1601.5 493.8L1601.2 493.8L1598.8 493.8L1597.5 490.0L1601.6 487.6L1603.6 487.5L1605.0 487.5L1605.2 485.8L1607.9 481.7L1606.4 479.9L1608.4 476.7L1608.8 475.0L1610.4 472.4L1611.4 470.7L1609.9 468.0L1610.1 466.5L1611.6 462.6L1612.5 460.0L1611.2 456.8L1611.8 454.3L1614.1 454.7L1611.0 448.5L1611.0 447.7L1611.3 445.0L1611.3 447.2L1610.9 450.8L1611.0 453.2L1610.0 455.0L1607.4 456.9L1604.6 458.8L1603.8 461.3L1602.4 462.8L1600.0 465.0L1597.8 466.8L1596.7 468.1L1595.0 470.0L1594.5 470.9L1591.8 474.1L1589.6 477.2L1588.6 478.1L1587.5 480.0L1587.0 481.8L1582.8 485.4L1584.2 487.0L1581.3 488.8L1579.7 487.3L1578.0 484.5L1575.5 482.8L1574.6 480.5L1572.5 477.5L1569.6 476.0L1570.3 473.0L1568.5 471.6L1567.1 470.3L1565.0 467.2L1565.0 465.0L1561.3 464.3L1561.6 460.7L1558.2 459.8L1557.2 457.6L1556.3 456.3L1552.7 454.6L1552.0 452.3L1553.5 448.2L1551.5 446.3L1550.0 445.0L1548.3 444.7L1545.6 444.5L1543.7 441.9L1542.8 440.3L1538.9 438.9L1537.5 437.5L1535.4 436.2L1531.7 435.9L1528.3 438.1L1526.3 435.6L1523.8 435.0L1520.4 434.5L1518.6 433.7L1518.8 433.9L1515.2 430.9L1513.0 429.1L1511.0 427.5L1507.5 427.5L1503.3 427.0L1502.6 429.7L1499.8 427.3L1496.9 428.3L1494.6 429.7L1492.5 430.0L1489.4 429.5L1487.6 429.8L1483.4 429.5L1482.1 428.9L1478.8 428.2L1477.1 428.3L1475.0 430.0L1472.4 431.9L1469.9 431.8L1469.1 432.1L1465.0 435.0L1460.8 435.5L1458.7 438.7L1456.1 435.7L1455.3 435.7L1454.3 435.7L1450.1 438.2L1446.0 437.6L1445.0 438.8L1442.8 438.9L1439.8 440.0L1438.7 442.1L1435.4 439.8L1432.8 440.3L1429.4 439.4L1427.5 441.3L1423.8 443.3L1423.6 443.4L1419.5 443.2L1418.5 447.4L1414.5 444.5L1412.5 447.5L1410.8 449.4L1408.2 449.4L1406.7 449.6L1405.0 451.7L1401.7 455.3L1400.0 455.0L1398.9 457.6L1398.0 460.4L1396.3 463.8L1394.9 466.4L1391.3 468.1L1390.0 470.0L1388.0 470.5L1386.3 470.5L1382.4 470.0L1380.4 470.1L1379.4 471.3L1375.0 471.3L1371.4 471.9L1370.5 472.1L1367.8 472.9L1364.5 471.3L1363.3 470.6L1360.0 471.3L1357.7 472.5L1356.5 470.5L1353.2 470.8L1348.1 473.7L1347.0 471.1L1345.0 471.3L1343.2 471.3L1338.5 472.5L1335.3 472.3L1335.5 472.2L1331.6 473.6L1330.0 472.5L1330.8 474.8L1326.7 476.2L1324.4 478.7L1323.3 480.1L1321.3 482.5L1319.6 483.4L1315.8 484.8L1314.9 485.4L1311.3 486.3L1309.3 487.9L1305.3 489.0L1302.9 491.0L1301.3 492.0L1298.4 492.3L1295.0 491.1L1291.7 490.2L1290.7 492.1L1287.5 491.3L1285.3 491.2L1284.8 491.4L1277.2 490.0L1278.1 489.8L1273.8 488.8L1271.0 486.7L1270.9 484.7L1268.8 482.5L1266.4 480.1L1263.0 479.7L1261.3 478.8L1258.8 477.6L1257.6 474.4L1255.0 472.5L1254.9 469.7L1255.6 468.8L1258.8 465.0L1261.4 463.4L1264.2 460.7L1265.0 460.0L1266.4 458.3L1265.5 454.5L1265.8 453.7L1266.2 451.0L1265.7 448.8L1267.8 445.0L1266.1 441.9L1266.3 440.0L1264.8 438.3L1264.1 435.0L1263.2 432.5L1263.2 429.4L1262.5 427.5L1260.9 425.5L1261.1 423.1L1260.0 420.6L1260.1 417.8L1257.0 414.9L1257.7 413.2L1256.3 410.0L1255.8 408.0L1255.5 404.7L1255.3 402.1L1256.3 401.2L1255.4 397.2L1256.1 394.2L1255.0 392.5L1254.2 388.7L1254.1 388.5L1250.1 386.3L1249.8 381.7L1250.9 380.2L1248.8 377.5L1246.7 376.5L1246.2 372.0L1246.5 370.0L1244.8 366.4L1243.7 366.1L1244.4 362.1L1241.3 360.0L1239.1 358.1L1238.0 354.8L1238.5 351.2L1238.6 349.0L1238.5 347.5L1236.3 345.0L1235.2 341.1L1231.9 341.4L1230.3 339.8L1227.9 338.7L1226.3 335.0L1226.4 332.0L1226.7 331.2L1225.4 328.2L1223.8 325.0L1227.6 324.5L1230.0 322.5L1231.0 317.8L1233.6 316.6L1233.8 315.0L1232.0 312.4L1234.5 309.9L1233.3 308.9L1233.1 305.4L1231.0 302.4L1231.3 300.0L1233.9 297.8L1231.7 295.2L1232.7 292.2L1232.7 290.2L1235.7 287.3Z" fill="#98b2c8"/>
<g clip-path="url(#land)" stroke="#595959" stroke-width="3.4" stroke-linejoin="round">
<path d="M1353.8 221.3L1357.5 221.8L1361.1 220.1L1363.1 219.7L1365.0 220.0L1364.7 217.8L1366.3 213.8L1368.9 214.0L1371.1 210.1L1373.4 210.8L1374.3 208.7L1377.5 207.5L1379.2 205.3L1381.4 206.6L1385.4 207.1L1386.7 208.0L1390.0 207.5L1392.0 208.6L1394.3 206.2L1397.9 205.7L1401.8 205.7L1403.8 205.0L1404.4 206.5L1405.5 207.9L1409.6 210.3L1410.0 212.5L1413.3 213.0L1414.6 214.0L1416.5 214.7L1420.0 215.0L1422.2 213.8L1425.7 214.9L1428.3 213.2L1431.2 214.7L1432.5 213.8L1435.2 212.6L1437.5 213.8L1440.9 214.5L1442.5 213.0L1445.0 215.0L1447.5 214.9L1450.4 217.7L1453.8 217.5L1456.2 216.7L1457.8 213.8L1460.4 213.9L1461.6 210.4L1463.2 207.9L1465.0 205.5L1469.0 207.1L1471.5 204.2L1474.0 203.6L1475.8 201.9L1478.8 203.2L1480.0 200.0L1481.8 198.0L1485.3 197.0L1490.1 198.0L1490.0 196.3L1494.3 195.8L1494.7 196.2L1497.5 196.2L1500.7 198.2L1503.5 198.0L1506.1 198.0L1506.6 199.2L1510.0 198.8L1512.2 199.7L1513.9 197.9L1517.9 202.2L1520.3 200.4L1522.0 200.4L1524.9 200.1L1528.3 201.1L1529.6 201.5L1532.5 201.3L1534.0 199.0L1537.7 198.5L1538.3 196.2L1540.0 193.8L1541.3 192.5L1545.0 192.0L1548.8 192.5L1549.2 194.5L1551.2 197.3L1553.7 198.1L1555.6 200.7L1556.3 201.7L1558.3 202.8L1560.0 206.3L1561.1 208.5L1563.5 208.9L1566.1 210.3L1567.5 212.5L1572.0 213.3L1572.0 213.1L1575.0 213.8L1577.5 214.5L1577.2 217.1L1582.7 219.5L1582.4 221.5L1585.0 222.5L1587.1 222.3L1589.5 222.7L1591.9 222.7L1595.0 222.5L1594.8 224.2L1597.5 227.0L1598.0 230.0L1599.1 230.3L1600.4 234.1L1602.5 236.0L1603.0 237.4L1605.5 240.4L1609.0 241.7L1609.2 244.8L1610.8 245.8L1608.6 246.1L1604.0 244.8L1602.8 244.6L1599.5 245.0L1597.7 246.4L1597.7 250.0L1594.4 252.9L1592.8 254.8L1594.2 257.6L1597.8 256.8L1597.2 259.0L1600.4 261.1L1602.5 263.0L1604.0 265.3L1605.8 267.4L1608.2 269.7L1610.0 271.3L1613.7 271.5L1616.0 270.5L1617.7 273.5L1618.3 275.0L1623.5 274.5L1623.5 278.0L1626.9 280.7L1628.0 282.5L1630.2 282.3L1632.7 281.1L1635.5 280.3L1637.2 282.5L1639.6 283.1L1641.8 285.0L1644.5 286.3L1644.8 288.6L1645.4 290.3L1644.6 294.2L1644.5 296.0L1644.0 297.8L1642.6 302.3L1643.0 303.5L1643.2 304.8L1647.5 308.0L1650.6 310.4L1653.5 308.8L1654.8 308.5L1656.4 306.2L1658.8 303.5L1657.7 301.0L1657.8 299.8L1658.0 296.0L1660.2 293.9L1662.8 291.0L1664.0 289.9L1665.5 287.0L1667.2 286.9L1671.2 283.3L1673.0 282.5L1675.2 283.1L1678.5 282.1L1681.4 281.2L1683.5 279.5L1683.7 278.7L1684.8 272.7L1688.0 271.3L1689.3 272.2L1694.1 271.8L1696.3 272.0L1696.4 274.3L1698.6 276.7L1698.5 279.5L1696.7 284.1L1697.0 286.9L1695.5 288.5L1695.4 289.7L1697.1 292.5L1698.5 296.0L1697.3 298.6L1696.9 301.2L1696.3 305.0L1699.7 308.0L1697.4 311.2L1698.5 314.0L1697.8 317.3L1697.4 318.6L1694.0 321.5L1691.8 323.2L1691.6 325.4L1687.0 325.6L1685.0 329.0L1682.8 330.6L1683.5 335.0L1685.0 333.6L1689.5 336.5L1690.8 339.8L1691.5 340.6L1692.1 345.1L1693.1 344.9L1694.0 348.5L1695.0 351.0L1697.9 351.7L1696.5 356.5L1697.9 357.0L1700.0 359.0L1700.0 361.3L1703.0 363.6L1702.9 367.8L1702.5 370.0L1702.1 370.8L1699.9 373.7L1696.9 373.4L1696.3 377.5L1699.0 378.8L1700.9 380.5L1702.5 382.5L1701.4 384.3L1699.8 385.8L1697.1 387.2L1696.3 390.0L1695.4 391.4L1695.3 396.4L1692.2 397.6L1690.3 400.2L1690.0 402.5L1686.6 405.0L1685.1 405.2L1682.7 406.1L1681.3 408.8L1681.2 412.3L1683.5 411.1L1685.8 416.4L1686.3 417.5L1686.0 419.5L1690.9 420.2L1690.4 423.7L1693.8 425.0L1694.0 426.7L1692.8 430.4L1692.3 432.4L1692.5 435.0L1691.4 437.5L1687.4 437.5L1685.5 439.3L1682.5 441.3L1680.8 443.6L1678.5 443.9L1677.1 443.7L1674.9 447.2L1672.5 448.8L1668.8 448.5L1667.1 449.2L1667.5 449.8L1662.5 450.0L1659.1 450.5L1657.5 453.4L1655.0 455.0L1652.1 455.5L1650.0 454.8L1646.4 454.7L1643.5 455.9L1642.0 456.0L1640.0 456.3L1638.1 457.7L1635.7 458.4L1632.5 460.0L1632.7 462.0L1629.5 465.6L1632.2 466.5L1628.7 470.5L1628.8 471.9L1629.2 474.8L1627.5 477.5L1626.4 474.7L1625.3 473.0L1622.7 472.5L1622.6 470.2L1620.2 467.0L1620.0 465.0L1616.7 461.9L1617.3 459.3L1617.3 456.7L1615.6 455.7L1614.7 453.4L1612.5 450.1L1613.7 448.6L1611.3 446.0L1609.1 447.8L1607.9 449.9L1608.1 452.4L1604.8 455.4L1605.4 458.6L1602.5 460.0L1600.3 457.7L1596.8 458.0L1595.1 456.5L1591.4 454.9L1590.0 455.0L1586.8 455.1L1583.7 453.3L1583.9 453.7L1578.4 453.4L1577.5 452.5L1576.9 451.9L1571.5 450.7L1570.3 448.9L1567.3 447.7L1565.0 447.5L1563.7 446.4L1560.8 443.9L1557.9 443.3L1555.7 443.5L1554.5 440.9L1552.5 439.4L1550.0 438.8L1548.6 437.2L1544.1 437.1L1544.0 437.0L1540.0 435.0L1536.5 434.9L1534.0 436.0L1533.5 434.5L1529.9 436.1L1527.8 434.9L1526.7 435.2L1523.0 435.0L1522.2 438.4L1521.6 442.8L1520.7 444.0L1520.0 446.0L1517.3 445.7L1515.7 445.2L1512.8 446.3L1510.3 445.8L1506.7 447.1L1505.3 445.4L1502.2 446.8L1500.9 448.3L1497.7 445.3L1495.9 445.3L1492.7 445.0L1490.4 446.5L1486.7 446.3L1485.5 446.4L1482.4 444.9L1480.0 446.0L1480.0 442.6L1479.6 441.1L1479.3 438.6L1478.0 435.6L1479.1 431.7L1478.0 429.5L1476.7 428.3L1473.1 431.2L1471.4 429.5L1465.6 432.4L1465.0 431.3L1461.7 431.2L1459.5 431.3L1457.3 429.7L1455.0 431.3L1452.3 431.5L1451.8 433.5L1446.4 434.5L1445.6 433.4L1443.0 431.9L1440.0 433.8L1435.2 434.4L1433.5 434.9L1433.6 435.9L1431.1 437.7L1427.8 436.6L1425.0 438.8L1422.6 440.0L1421.0 442.3L1416.8 442.4L1414.2 442.5L1411.5 443.8L1410.0 445.0L1407.0 445.9L1404.3 446.4L1402.7 447.2L1399.0 447.1L1396.3 447.5L1393.5 447.3L1391.3 443.8L1392.0 441.2L1393.8 437.5L1394.9 436.5L1395.1 431.7L1396.3 430.0L1397.4 428.3L1399.8 427.2L1399.7 423.3L1401.3 421.3L1400.3 416.8L1400.1 416.7L1400.0 412.5L1396.3 413.6L1395.1 414.2L1392.4 412.4L1391.4 413.1L1387.2 413.7L1385.0 413.8L1383.4 413.6L1379.5 413.4L1376.8 413.3L1375.0 411.3L1372.9 412.9L1370.0 412.5L1367.5 412.9L1363.5 412.9L1362.9 414.9L1360.0 415.0L1357.7 411.6L1356.3 411.6L1352.1 409.3L1351.6 408.4L1350.0 407.5L1348.6 405.7L1345.6 405.2L1342.7 402.9L1342.1 400.6L1340.0 400.0L1338.4 399.5L1334.0 399.8L1332.2 399.7L1330.0 398.2L1326.9 397.5L1325.0 398.8L1323.9 398.4L1321.2 394.5L1318.7 391.5L1317.2 389.9L1316.3 387.5L1315.2 389.2L1312.5 391.3L1310.6 392.4L1305.1 391.3L1303.5 390.9L1301.3 390.9L1298.8 391.3L1296.8 391.5L1296.4 385.5L1297.8 385.8L1294.3 383.0L1293.8 380.0L1292.2 379.2L1291.5 374.6L1290.6 370.3L1290.0 368.8L1288.5 369.1L1282.0 369.7L1281.3 370.0L1279.4 368.2L1278.9 366.2L1274.9 364.9L1275.8 362.2L1272.5 361.3L1270.1 359.8L1269.7 358.5L1265.1 358.6L1263.3 355.6L1261.3 355.0L1259.6 353.6L1259.7 349.9L1261.3 346.3L1259.7 344.2L1257.3 342.1L1255.0 341.3L1254.1 343.0L1249.7 344.8L1247.5 345.0L1245.0 344.8L1242.7 343.4L1238.8 343.8L1236.1 343.7L1233.1 342.0L1232.3 344.0L1228.9 345.8L1227.0 343.9L1224.5 343.9L1221.5 344.3L1219.7 343.6L1216.2 344.5L1214.4 343.4L1212.3 342.5L1208.9 343.0L1207.7 342.0L1204.7 343.8L1201.7 343.3L1200.0 343.0L1200.4 341.7L1201.1 336.8L1202.1 335.2L1200.3 334.1L1199.4 331.4L1199.0 328.5L1199.6 326.5L1200.7 323.7L1200.4 321.0L1199.6 319.4L1198.8 314.8L1199.3 314.6L1198.9 311.2L1201.0 309.1L1202.3 305.0L1200.1 304.5L1201.2 301.3L1199.9 299.2L1199.4 296.1L1201.1 294.0L1198.9 290.9L1199.8 289.9L1200.1 288.6L1201.9 283.5L1200.1 282.5L1199.4 279.2L1201.3 277.1L1202.0 275.5L1201.0 272.0L1199.0 270.2L1200.2 267.4L1198.9 265.3L1198.3 261.6L1200.9 261.0L1199.7 258.4L1200.2 256.1L1200.5 254.3L1199.3 250.7L1199.4 247.8L1198.8 245.2L1200.4 244.6L1198.0 240.4L1199.1 236.9L1199.8 237.1L1200.5 234.5L1199.7 230.5L1199.5 230.8L1200.4 227.0L1201.3 225.8L1198.7 221.9L1200.8 220.6L1199.6 216.9L1198.7 214.7L1200.0 212.0L1200.6 211.9L1205.1 211.0L1208.0 213.8L1209.5 211.1L1212.2 211.0L1214.6 212.7L1214.3 211.2L1218.3 211.7L1221.2 212.2L1222.9 211.6L1226.5 212.8L1228.8 212.3L1231.6 211.6L1234.4 211.5L1235.8 213.2L1237.6 213.1L1239.5 214.8L1243.5 211.4L1245.4 211.4L1249.4 212.1L1249.5 211.6L1253.9 211.9L1254.6 212.8L1257.0 210.4L1260.2 210.8L1260.0 211.3L1267.0 212.8L1268.3 213.1L1269.1 210.7L1272.9 210.9L1274.6 213.4L1278.2 210.6L1279.9 211.9L1283.6 212.5L1286.5 213.0L1286.2 211.7L1289.5 212.4L1292.3 211.9L1295.1 213.5L1297.3 211.4L1297.9 211.1L1303.2 212.1L1303.9 212.5L1306.9 213.2L1308.3 211.0L1310.8 212.1L1313.0 211.9L1316.7 211.7L1318.0 213.2L1321.8 212.5L1322.4 213.4L1324.7 212.3L1328.1 212.0L1328.4 211.6L1332.6 211.9L1334.3 211.6L1338.2 212.0L1340.1 211.4L1342.4 211.4L1345.0 212.0L1346.2 214.5L1348.5 215.5L1349.5 219.4L1352.0 220.9Z" fill="#fef291"/>
<path d="M1478.0 429.5L1476.7 427.5L1473.5 431.0L1469.6 430.3L1468.3 432.3L1465.0 431.3L1462.9 431.3L1462.3 430.1L1458.0 433.0L1455.0 431.3L1450.5 432.1L1451.4 431.8L1447.8 431.3L1446.1 433.4L1443.0 433.2L1440.0 433.8L1438.4 436.4L1436.3 435.5L1431.7 437.3L1429.7 435.4L1427.5 438.0L1425.0 438.8L1423.2 440.6L1418.0 440.7L1418.3 440.6L1414.3 442.8L1412.8 445.9L1410.0 445.0L1406.9 444.5L1404.7 447.0L1402.1 445.7L1400.7 447.5L1396.3 447.5L1394.9 444.5L1391.3 443.8L1393.7 441.1L1393.8 437.5L1395.4 436.3L1395.0 432.1L1396.3 430.0L1397.4 427.2L1399.0 427.6L1402.1 425.0L1401.3 421.3L1400.9 418.0L1399.2 414.6L1400.0 412.5L1397.8 413.0L1395.9 412.6L1392.4 415.3L1390.1 413.7L1389.0 412.7L1385.0 413.8L1383.2 413.9L1379.8 413.9L1377.2 413.4L1375.4 411.5L1371.9 410.9L1370.0 412.5L1368.3 414.6L1366.2 414.6L1365.2 414.4L1360.0 415.0L1357.5 414.2L1356.7 411.0L1355.1 409.7L1350.8 408.4L1350.0 407.5L1348.2 405.5L1346.4 405.2L1344.1 401.6L1340.9 401.6L1340.0 400.0L1337.8 399.9L1335.0 400.2L1331.8 399.1L1330.1 397.9L1326.9 400.2L1325.0 398.8L1321.2 396.5L1319.4 395.5L1320.9 392.8L1316.9 391.1L1316.3 387.5L1313.6 390.2L1312.5 391.3L1310.3 390.9L1306.3 391.8L1305.0 392.0L1301.8 391.2L1298.8 391.3L1296.8 387.8L1297.1 387.8L1294.1 383.7L1295.6 384.2L1293.8 380.0L1294.1 377.6L1291.6 375.5L1290.3 371.4L1290.0 368.8L1285.7 368.0L1284.6 367.5L1281.3 370.0L1278.9 368.5L1278.0 366.8L1275.3 366.0L1275.3 363.6L1272.5 361.3L1270.2 361.8L1267.2 358.0L1266.4 356.8L1263.5 357.0L1261.3 355.0L1263.9 350.9L1261.0 348.7L1261.3 346.3L1260.9 346.6L1257.9 342.3L1255.0 341.3L1252.3 341.4L1250.9 343.4L1247.5 345.0L1245.3 343.6L1241.8 345.9L1238.8 343.8L1236.2 344.2L1235.9 343.0L1231.1 342.9L1229.6 344.4L1227.5 344.3L1224.1 342.8L1223.6 342.3L1219.9 342.9L1217.3 344.1L1214.8 341.3L1211.0 343.7L1210.0 343.0L1209.5 346.3L1208.5 347.6L1209.5 350.1L1209.6 354.3L1209.5 354.4L1209.9 358.8L1210.0 359.2L1209.2 361.6L1208.7 366.1L1210.7 368.0L1209.5 370.1L1210.3 372.9L1210.2 374.6L1211.9 375.6L1210.3 379.6L1209.8 381.5L1209.2 384.0L1209.2 386.9L1212.1 385.5L1209.5 392.1L1211.4 395.1L1210.7 395.1L1210.4 396.5L1211.1 400.8L1209.8 404.2L1209.6 406.1L1209.2 408.1L1211.5 409.5L1211.3 412.0L1209.1 414.8L1210.5 416.8L1211.3 418.8L1210.0 422.5L1209.0 425.3L1209.4 428.0L1209.1 429.5L1209.1 432.4L1209.4 435.0L1209.0 438.4L1209.5 441.9L1208.8 442.9L1211.3 444.8L1209.9 447.7L1209.5 450.5L1210.9 452.9L1208.3 452.5L1209.1 455.4L1208.0 457.6L1210.2 461.9L1207.5 463.6L1211.8 464.5L1208.7 469.2L1210.3 471.1L1209.5 475.0L1209.5 475.9L1210.0 478.3L1209.6 479.9L1209.7 481.9L1209.9 485.3L1211.3 488.6L1209.7 489.5L1210.9 493.7L1208.7 495.0L1209.1 499.1L1211.2 500.9L1209.5 503.5L1209.0 505.7L1208.7 508.8L1210.0 510.0L1212.5 510.0L1215.6 510.6L1217.0 511.1L1220.5 511.4L1222.2 508.9L1226.2 510.0L1225.5 510.1L1229.9 509.3L1231.4 510.6L1233.9 510.6L1238.2 508.4L1239.5 509.5L1241.8 510.9L1242.0 511.3L1246.0 510.5L1249.5 508.9L1249.4 508.7L1253.1 511.4L1255.1 509.4L1259.7 510.3L1260.2 510.0L1262.8 509.0L1264.7 511.5L1268.5 509.6L1268.5 510.2L1272.6 510.5L1275.1 510.9L1278.0 510.1L1279.9 510.5L1282.6 510.1L1285.1 508.1L1287.9 510.3L1290.4 510.1L1291.5 510.2L1294.4 511.9L1296.4 511.5L1299.7 508.7L1302.3 509.9L1304.7 510.0L1308.8 512.4L1309.4 511.0L1311.1 510.8L1313.0 510.6L1317.9 509.1L1317.0 509.2L1318.4 510.0L1323.6 509.8L1325.3 510.4L1328.6 509.5L1331.0 508.8L1333.3 512.4L1335.3 511.1L1338.6 511.1L1339.4 509.6L1342.4 510.9L1345.3 509.4L1347.3 510.6L1349.7 510.4L1351.6 510.4L1354.8 509.0L1358.2 509.7L1360.5 509.8L1362.0 509.6L1365.0 509.7L1366.2 508.6L1369.4 511.5L1371.9 511.5L1373.8 509.3L1375.5 509.1L1378.3 510.8L1380.9 509.3L1384.1 510.2L1384.1 508.9L1390.1 510.1L1390.6 509.6L1393.8 512.0L1395.5 511.4L1397.4 509.4L1401.0 511.4L1402.2 510.8L1405.6 510.3L1407.3 509.9L1410.9 511.6L1411.0 510.6L1417.0 511.3L1418.2 508.9L1418.1 507.8L1421.6 508.6L1423.7 509.6L1427.1 510.7L1429.6 510.9L1431.2 510.3L1435.5 510.0L1435.9 509.0L1439.1 510.2L1441.0 509.1L1442.0 509.0L1447.9 509.8L1447.0 510.0L1450.9 509.8L1454.8 511.3L1454.5 509.3L1457.7 510.4L1461.2 509.0L1464.0 509.8L1466.1 509.2L1468.3 511.4L1469.4 510.9L1471.8 508.7L1473.4 509.4L1476.3 508.8L1480.0 510.0L1480.5 508.1L1479.8 505.6L1479.4 503.5L1480.8 499.8L1477.8 497.7L1479.9 495.2L1478.9 492.4L1479.4 490.5L1479.8 487.7L1479.2 485.9L1480.6 482.1L1480.7 481.0L1480.3 478.6L1482.0 475.7L1479.8 473.5L1479.6 471.3L1479.9 466.8L1479.3 466.1L1481.2 463.9L1481.1 460.3L1480.9 458.8L1478.5 456.9L1480.5 453.6L1479.0 449.9L1480.3 448.9L1480.0 446.0L1478.6 440.6L1479.4 440.7L1481.5 439.3L1478.5 435.1L1476.7 433.9Z" fill="#c7eba0"/>
<path d="M1523.0 435.0L1525.6 435.3L1529.2 433.6L1528.7 434.4L1533.0 434.6L1535.4 438.2L1537.2 434.1L1540.0 435.0L1541.2 434.5L1545.1 436.2L1547.1 438.3L1550.0 438.8L1551.4 439.0L1555.7 441.0L1556.0 443.5L1558.6 442.2L1560.7 445.7L1563.9 446.2L1565.0 447.5L1567.4 448.5L1569.5 448.9L1571.3 451.5L1575.7 450.2L1577.5 452.5L1580.5 453.7L1582.6 454.3L1585.0 455.9L1588.1 456.5L1590.0 455.0L1592.3 457.5L1595.4 456.6L1595.5 458.3L1600.4 457.7L1602.5 460.0L1603.4 458.2L1605.8 454.1L1606.7 453.5L1608.8 450.2L1609.7 448.9L1611.3 446.0L1611.3 449.3L1610.5 451.0L1611.1 452.5L1612.4 457.3L1609.6 459.2L1614.1 460.4L1610.7 462.3L1609.8 464.2L1611.9 470.8L1612.4 470.1L1611.3 473.1L1612.3 475.7L1612.2 478.6L1612.0 479.4L1613.3 482.8L1612.6 486.2L1613.1 487.1L1612.5 491.7L1612.8 492.4L1613.7 494.9L1612.9 499.0L1613.0 500.0L1609.2 500.6L1609.7 501.6L1605.1 498.5L1604.6 500.4L1600.5 500.2L1595.8 499.0L1596.5 499.8L1592.9 502.4L1591.7 500.6L1588.8 500.1L1586.8 499.7L1582.3 501.7L1582.4 500.0L1579.6 499.1L1576.3 499.7L1573.7 502.3L1571.7 500.1L1568.1 499.2L1566.6 500.1L1562.9 500.3L1561.9 497.9L1560.0 500.6L1556.0 500.9L1556.8 501.1L1552.5 499.8L1550.1 499.7L1547.2 499.9L1543.5 499.7L1542.8 499.5L1537.4 499.8L1537.3 499.9L1536.2 500.2L1531.7 501.4L1529.3 499.6L1527.5 500.3L1525.9 499.9L1522.4 499.5L1520.0 500.0L1520.7 498.3L1520.7 493.7L1522.9 491.2L1519.1 490.8L1519.5 486.9L1520.6 483.8L1519.2 481.7L1519.5 480.5L1521.6 478.5L1519.3 476.6L1519.7 473.6L1520.5 471.9L1518.8 465.7L1520.0 465.9L1520.7 462.7L1520.7 461.3L1520.4 458.8L1518.8 456.3L1520.0 453.2L1520.1 451.3L1520.4 449.0L1520.0 446.0L1522.2 445.5L1520.7 439.9L1521.8 436.2Z" fill="#c7eba0"/>
<path d="M1611.3 446.0L1611.3 448.1L1613.7 449.1L1617.0 453.3L1616.3 456.4L1615.3 457.0L1615.6 461.7L1618.0 463.0L1620.0 465.0L1621.5 466.9L1623.5 468.5L1623.9 472.2L1625.3 471.7L1625.6 474.8L1627.5 477.5L1627.9 474.5L1630.9 471.9L1630.1 470.2L1630.4 466.4L1630.6 466.1L1631.7 462.4L1632.5 460.0L1635.2 459.0L1636.5 459.2L1640.0 456.3L1642.1 458.3L1645.4 456.1L1646.3 456.4L1651.9 455.3L1653.5 455.4L1655.0 455.0L1656.3 454.8L1659.8 452.5L1662.5 450.0L1665.6 447.9L1668.6 449.5L1671.6 449.8L1672.5 448.8L1674.1 447.3L1675.6 447.3L1679.6 445.0L1681.0 444.0L1682.5 441.3L1685.1 439.3L1686.2 438.9L1692.0 438.6L1692.5 435.0L1694.7 432.5L1695.2 431.0L1697.8 432.0L1701.7 431.8L1704.0 432.0L1706.1 431.6L1709.2 430.9L1711.5 432.5L1713.6 429.3L1712.0 426.1L1713.5 424.5L1715.0 422.5L1716.4 422.1L1718.6 420.8L1721.9 417.7L1723.9 416.6L1726.5 420.5L1723.7 423.9L1724.6 425.9L1723.5 427.5L1720.7 428.5L1719.5 431.0L1722.0 433.8L1723.6 436.2L1726.0 437.5L1729.6 439.8L1732.7 439.7L1734.3 442.5L1734.6 446.6L1733.8 448.3L1734.9 450.8L1737.3 451.3L1740.8 451.5L1742.6 453.0L1742.2 457.5L1743.7 459.6L1741.3 458.7L1738.0 457.2L1734.9 458.5L1733.8 457.2L1731.1 455.9L1728.8 453.9L1727.3 454.6L1723.9 453.0L1722.2 454.1L1718.7 453.6L1715.7 453.6L1713.3 454.6L1710.6 455.2L1707.5 457.5L1705.7 460.0L1705.4 463.1L1704.9 463.9L1703.6 467.1L1700.2 471.7L1700.0 472.5L1701.3 474.4L1701.0 475.1L1698.8 478.9L1700.0 482.5L1700.6 485.5L1700.0 489.0L1702.5 490.0L1702.2 490.9L1699.9 495.5L1699.3 496.9L1698.8 500.0L1699.4 500.3L1698.2 505.2L1699.6 507.2L1700.0 510.0L1699.6 512.5L1696.9 514.9L1695.0 517.5L1694.4 520.1L1690.2 520.3L1687.8 522.8L1687.3 522.6L1685.0 525.0L1681.7 525.7L1679.9 525.5L1677.3 526.5L1675.0 525.0L1673.2 524.4L1670.6 526.2L1666.3 528.8L1665.0 528.8L1663.6 530.8L1663.2 531.9L1663.5 535.5L1663.7 539.6L1662.5 540.6L1661.3 541.6L1662.0 546.0L1658.4 546.3L1657.1 545.5L1655.6 545.2L1652.2 547.4L1650.1 546.8L1649.3 544.5L1646.2 545.3L1641.3 545.4L1640.3 547.4L1638.3 545.8L1636.1 547.2L1632.7 546.6L1630.5 546.0L1627.3 545.4L1624.2 545.9L1623.1 546.2L1622.2 546.3L1616.4 547.4L1615.1 546.2L1613.3 545.2L1610.7 546.7L1608.5 546.4L1604.5 547.0L1603.9 544.2L1599.5 546.6L1599.9 546.1L1596.0 546.0L1594.2 542.1L1596.5 541.6L1596.8 538.7L1595.7 536.1L1597.3 533.6L1596.1 532.0L1596.6 528.0L1596.7 525.8L1596.1 523.4L1595.8 520.7L1595.6 520.1L1594.9 516.5L1595.7 513.8L1594.4 511.2L1596.3 509.8L1596.0 508.8L1596.9 505.7L1596.1 503.2L1596.3 500.0L1596.4 496.9L1597.5 494.7L1596.1 490.9L1594.6 489.5L1595.3 488.4L1595.9 484.7L1597.8 483.2L1596.4 478.5L1596.0 478.3L1595.6 475.4L1597.0 472.3L1596.4 470.0L1594.6 467.0L1596.4 465.0L1595.6 461.8L1595.8 461.0L1597.0 457.8L1596.6 455.9L1596.0 454.3L1595.5 450.1L1594.9 449.4L1596.0 446.0L1597.6 446.2L1600.7 445.1L1603.0 446.8L1606.1 445.7L1608.4 445.1Z" fill="#c7eba0"/>
<path d="M1698.5 315.5L1700.0 316.4L1701.8 320.8L1704.5 320.0L1707.0 316.9L1708.3 314.7L1709.0 314.0L1711.2 311.4L1713.0 309.8L1718.5 309.8L1718.0 308.0L1718.8 310.4L1720.7 313.0L1722.8 315.2L1724.0 317.0L1726.0 320.8L1728.5 319.3L1730.1 318.4L1734.3 317.0L1734.9 314.2L1737.0 311.0L1738.5 314.2L1735.7 315.6L1739.3 317.3L1739.8 321.9L1741.3 323.9L1741.5 325.2L1743.3 326.9L1747.5 330.8L1748.0 331.8L1750.4 330.2L1747.9 325.8L1749.7 323.5L1750.2 320.4L1750.3 318.6L1751.7 322.4L1753.0 323.4L1754.6 325.5L1755.8 327.4L1755.3 330.0L1757.1 331.8L1758.0 335.2L1756.9 338.4L1759.7 339.6L1762.8 338.7L1765.7 341.8L1766.4 343.8L1770.5 344.4L1772.4 348.1L1774.5 348.4L1777.7 351.1L1778.5 351.7L1779.8 354.4L1782.2 356.0L1783.7 358.5L1782.1 360.4L1782.5 364.7L1783.3 367.0L1786.1 368.2L1782.3 372.8L1782.8 374.6L1785.4 375.5L1785.0 380.0L1787.5 379.7L1791.0 378.0L1792.2 375.3L1796.4 375.3L1797.9 373.8L1799.1 372.0L1802.0 371.0L1803.5 372.5L1805.1 373.1L1807.5 376.7L1807.8 375.4L1812.0 378.0L1812.5 381.3L1814.0 383.0L1812.3 381.9L1808.6 381.1L1806.0 380.0L1803.3 380.2L1800.7 383.3L1797.0 383.0L1796.2 387.3L1796.0 388.0L1797.3 389.5L1800.0 392.0L1799.4 395.6L1795.5 394.8L1794.0 397.0L1793.0 399.0L1793.6 402.8L1795.0 405.0L1792.5 406.4L1790.5 404.9L1786.7 407.7L1786.5 407.3L1783.3 410.7L1781.3 410.5L1778.0 410.0L1779.8 413.8L1783.2 413.7L1782.6 417.6L1784.0 420.0L1782.1 422.5L1781.7 424.1L1781.1 426.3L1778.3 428.2L1778.4 429.9L1778.1 433.0L1775.8 435.0L1775.0 437.0L1772.6 439.5L1769.8 441.8L1768.0 442.0L1767.6 444.5L1766.5 447.6L1763.5 448.6L1761.3 450.8L1762.2 452.5L1758.1 454.1L1758.2 456.5L1757.0 460.0L1756.5 462.4L1755.8 464.8L1753.3 466.6L1753.4 469.0L1749.8 471.0L1750.0 473.0L1749.7 473.6L1749.6 478.7L1746.8 481.6L1747.2 481.9L1747.4 483.9L1743.8 487.7L1745.0 490.0L1742.4 491.8L1744.7 495.3L1743.0 496.7L1743.1 499.4L1742.5 502.5L1740.7 503.3L1737.9 504.8L1735.0 507.5L1732.1 507.5L1730.5 507.7L1727.6 508.1L1725.9 509.0L1723.2 507.7L1718.3 508.8L1717.5 510.0L1718.3 508.4L1712.9 506.0L1710.0 505.0L1708.0 503.0L1707.1 499.6L1707.9 497.9L1706.7 495.6L1705.7 490.9L1705.0 490.0L1703.2 487.7L1701.6 485.3L1700.0 482.5L1698.7 480.0L1700.2 478.3L1699.5 475.1L1700.0 472.5L1701.3 469.3L1703.8 467.8L1704.6 465.1L1706.6 463.4L1705.4 460.0L1707.5 457.5L1710.6 455.2L1713.3 454.7L1714.4 456.6L1718.0 454.5L1720.9 454.2L1723.9 453.0L1726.5 454.0L1726.4 455.8L1730.6 456.1L1732.2 456.4L1734.9 458.5L1739.6 460.3L1740.9 457.0L1743.7 459.6L1742.7 456.0L1742.6 453.0L1739.8 452.5L1736.5 451.4L1734.9 450.8L1735.7 447.4L1733.6 443.8L1733.4 443.0L1732.7 439.7L1728.0 437.6L1726.0 437.5L1725.3 435.4L1722.7 433.5L1719.5 431.0L1720.0 429.2L1722.6 426.2L1722.2 424.3L1725.5 421.8L1726.5 420.5L1723.9 416.6L1721.5 416.8L1720.6 419.2L1717.7 421.0L1714.2 424.7L1713.5 424.5L1712.0 426.9L1710.9 429.6L1711.5 432.5L1710.0 432.0L1707.0 431.1L1704.0 432.0L1701.4 432.1L1696.5 430.9L1695.2 431.0L1692.6 433.7L1692.5 435.0L1691.3 432.9L1690.9 430.4L1694.1 427.8L1693.8 425.0L1692.7 422.7L1690.7 420.8L1686.9 419.2L1686.3 417.5L1684.2 415.6L1682.9 413.8L1682.9 410.8L1681.3 408.8L1683.1 408.9L1685.0 406.2L1687.7 403.9L1690.0 402.5L1691.1 400.2L1691.9 400.4L1693.0 393.0L1695.4 392.0L1696.3 390.0L1699.0 386.9L1700.8 385.6L1702.5 382.0L1702.5 382.5L1699.7 379.5L1698.8 379.7L1696.3 377.5L1697.3 375.3L1699.4 374.1L1701.0 371.2L1702.5 370.0L1702.0 368.3L1700.5 363.4L1699.4 363.4L1700.0 359.0L1697.0 356.8L1697.2 354.9L1696.8 352.2L1696.5 349.1L1694.0 348.5L1694.7 347.9L1691.7 342.9L1691.6 341.6L1691.1 338.2L1689.5 336.5L1688.0 334.5L1683.5 335.0L1684.0 329.9L1685.0 329.0L1686.6 327.4L1689.1 326.6L1690.8 322.9L1694.0 321.5L1695.7 320.1L1697.4 317.2Z" fill="#8fc8c4"/>
<path d="M1816.0 297.5L1816.1 301.1L1816.4 303.1L1819.1 304.6L1820.0 307.5L1819.9 312.0L1821.3 312.4L1821.9 315.2L1824.0 318.6L1824.6 321.7L1826.4 324.7L1826.9 326.1L1828.2 328.6L1829.9 331.4L1828.5 334.0L1830.3 336.8L1830.5 339.6L1828.7 343.2L1830.7 345.4L1830.5 344.5L1831.0 348.3L1831.2 352.7L1830.7 352.2L1831.8 356.0L1832.4 358.0L1833.7 362.0L1833.7 362.2L1836.5 366.3L1837.0 370.6L1836.2 371.5L1833.6 371.0L1831.6 369.3L1829.4 368.6L1827.4 367.0L1825.7 368.9L1822.8 369.7L1822.0 371.9L1818.6 372.6L1818.7 374.5L1816.3 376.3L1814.6 380.2L1814.0 383.0L1814.2 388.0L1814.0 390.0L1811.8 392.0L1809.5 393.2L1808.0 395.0L1804.9 396.9L1804.4 399.4L1804.0 402.0L1804.2 402.1L1803.0 407.0L1804.2 409.2L1807.5 411.9L1808.0 415.0L1810.0 417.9L1809.9 421.2L1811.0 424.0L1810.7 426.9L1812.1 428.3L1813.7 430.4L1815.0 433.0L1816.5 435.2L1814.0 440.0L1812.4 440.0L1809.3 440.3L1807.3 438.2L1804.9 437.9L1803.3 439.9L1800.6 435.6L1795.5 436.2L1795.0 436.0L1793.0 436.6L1788.8 439.4L1789.3 440.2L1786.7 443.3L1785.0 443.0L1782.2 441.5L1778.5 438.5L1777.0 438.3L1775.0 437.0L1772.7 440.4L1768.5 438.5L1768.0 442.0L1767.0 444.1L1763.2 444.9L1763.5 448.6L1762.8 451.1L1761.2 454.0L1759.2 453.7L1756.5 458.2L1757.0 460.0L1754.1 462.2L1755.4 464.9L1755.3 467.2L1752.5 469.1L1751.4 470.8L1750.0 473.0L1750.6 476.3L1748.7 480.3L1747.9 480.6L1747.4 482.7L1747.5 485.1L1744.2 486.7L1745.0 490.0L1744.6 491.4L1745.3 497.9L1741.6 496.7L1742.4 499.4L1742.5 502.5L1739.0 501.9L1738.7 505.4L1735.0 507.5L1733.1 508.4L1729.2 508.2L1726.0 509.8L1724.7 510.4L1721.2 508.8L1719.3 508.7L1717.5 510.0L1714.6 509.8L1712.1 506.8L1710.0 505.0L1710.3 502.2L1707.7 498.6L1706.9 496.9L1707.3 494.4L1706.4 492.9L1705.0 490.0L1702.5 490.0L1702.9 493.7L1700.7 494.5L1699.8 497.9L1698.8 500.0L1697.1 504.6L1698.6 505.2L1699.5 507.5L1700.0 510.0L1697.7 512.9L1696.9 513.3L1695.0 517.5L1691.7 519.7L1692.0 520.6L1689.6 522.5L1685.2 525.3L1685.0 525.0L1683.1 524.4L1679.6 526.1L1677.7 527.0L1675.0 525.0L1672.3 528.4L1670.8 524.2L1667.1 528.2L1665.0 528.8L1665.6 531.0L1662.6 534.8L1663.4 535.9L1663.0 539.6L1663.8 541.8L1663.1 542.6L1662.0 546.0L1662.6 548.9L1661.5 550.7L1663.5 552.4L1662.5 555.8L1662.9 558.4L1660.7 561.6L1661.7 564.2L1661.3 566.6L1662.4 567.0L1662.4 570.0L1662.1 572.8L1662.0 575.0L1663.6 576.0L1667.1 575.3L1667.2 574.5L1674.4 577.0L1675.1 575.0L1676.2 574.2L1680.4 574.5L1681.7 575.6L1683.8 577.0L1688.1 574.8L1688.3 575.2L1691.0 574.3L1693.8 574.6L1695.1 576.7L1698.0 574.5L1699.3 573.9L1704.4 575.8L1704.6 573.8L1707.7 575.5L1710.4 573.0L1711.6 574.3L1715.2 575.5L1716.7 574.7L1721.1 575.8L1722.6 575.1L1724.6 575.0L1727.2 574.7L1730.7 575.2L1731.1 574.9L1735.3 574.2L1738.0 575.6L1737.9 574.6L1741.4 574.7L1744.2 574.6L1747.0 574.3L1748.9 575.1L1751.9 573.4L1752.0 574.7L1757.0 575.4L1756.9 574.9L1761.4 574.9L1765.0 576.0L1764.8 574.6L1768.8 574.6L1770.0 574.1L1774.0 577.0L1774.7 575.1L1778.4 576.1L1780.8 574.7L1782.2 573.7L1784.1 575.8L1788.3 574.2L1791.0 574.6L1793.0 574.6L1796.1 574.9L1798.0 575.4L1799.3 575.7L1802.7 574.3L1805.8 575.8L1806.9 574.2L1809.9 574.2L1813.4 575.5L1814.7 573.8L1816.8 574.7L1818.1 574.7L1821.0 574.7L1825.9 576.6L1827.3 574.4L1828.6 573.2L1830.8 574.9L1834.8 575.9L1836.8 573.7L1839.9 574.3L1839.9 576.1L1844.4 577.1L1846.5 576.5L1849.5 573.4L1849.4 575.6L1853.4 574.6L1856.6 575.1L1857.5 575.9L1860.0 574.3L1863.2 575.9L1866.6 572.9L1866.6 576.4L1870.8 575.4L1873.5 575.5L1875.0 575.0L1874.9 573.0L1875.6 570.4L1877.5 567.8L1875.2 564.9L1874.1 563.4L1876.0 560.5L1873.3 557.5L1875.5 556.0L1875.7 551.8L1875.2 551.1L1875.3 549.3L1876.0 545.7L1876.9 542.9L1873.6 540.5L1873.5 537.6L1874.9 536.0L1874.7 534.0L1875.8 530.9L1875.0 530.1L1874.7 528.8L1875.1 522.6L1875.2 522.3L1874.1 518.5L1875.3 517.4L1875.8 514.4L1876.1 512.0L1873.9 509.9L1876.9 508.0L1874.6 505.7L1874.7 504.0L1874.2 502.3L1873.8 497.7L1874.3 494.3L1875.4 493.5L1874.4 490.6L1874.7 488.8L1875.6 486.0L1874.4 482.5L1874.8 481.8L1873.8 478.0L1875.6 475.6L1873.7 474.8L1874.6 471.3L1875.1 468.6L1875.9 467.7L1875.7 463.0L1876.4 462.1L1875.2 458.5L1876.1 455.2L1875.4 452.9L1874.3 451.9L1874.5 449.0L1874.7 447.4L1873.8 443.0L1875.0 441.7L1876.2 439.9L1874.9 437.8L1874.2 434.1L1873.2 433.4L1875.9 428.5L1875.3 427.6L1875.2 426.8L1873.5 422.4L1876.0 420.2L1874.9 417.5L1874.8 415.4L1874.8 412.2L1873.5 410.0L1873.3 408.1L1875.5 406.4L1874.1 403.4L1876.1 401.7L1873.3 397.8L1875.6 396.8L1875.1 393.4L1877.1 392.3L1874.6 388.8L1874.6 386.3L1874.7 383.9L1875.9 380.7L1874.9 381.3L1874.4 377.2L1874.7 375.1L1875.2 371.0L1876.2 368.9L1874.8 366.0L1874.1 362.8L1875.5 362.2L1873.6 362.1L1873.7 358.2L1875.7 355.7L1872.7 351.2L1876.4 350.8L1875.8 348.9L1874.4 345.5L1875.0 343.5L1876.3 339.7L1876.7 337.2L1874.9 335.8L1875.4 333.5L1873.2 332.0L1876.1 327.7L1875.3 324.7L1875.5 323.2L1874.9 320.5L1875.0 318.2L1876.5 316.4L1875.1 315.2L1874.7 312.6L1873.8 309.3L1874.9 307.4L1875.2 304.0L1874.9 301.9L1876.4 299.6L1875.1 297.1L1875.0 296.5L1876.0 292.2L1875.0 290.0L1873.2 290.3L1869.5 292.2L1867.4 291.9L1866.8 290.7L1861.4 291.0L1859.4 291.0L1859.5 294.5L1858.0 292.2L1853.7 291.8L1850.0 296.4L1848.7 294.4L1845.9 293.3L1840.7 294.9L1840.6 294.3L1836.9 293.6L1836.6 294.8L1832.9 295.4L1830.8 295.7L1827.2 296.6L1827.0 294.4L1823.2 296.0L1821.4 297.3L1820.1 297.5Z" fill="#a09dc4"/>
<path d="M1727.5 148.8L1727.2 150.9L1729.6 152.9L1729.7 157.9L1730.0 160.0L1732.4 161.3L1732.2 165.0L1733.8 167.9L1735.6 170.2L1735.9 170.7L1738.8 173.8L1738.3 176.1L1739.5 179.5L1740.6 182.9L1739.0 185.2L1741.3 187.5L1742.6 190.4L1744.2 192.8L1745.7 194.8L1745.8 198.5L1745.7 200.1L1747.5 202.5L1746.1 207.1L1746.0 209.0L1743.4 208.0L1741.5 205.0L1741.2 203.1L1738.5 201.0L1737.4 199.8L1736.5 196.0L1736.4 192.6L1735.6 192.2L1734.3 188.6L1734.0 185.1L1733.0 184.0L1732.3 181.2L1730.0 179.4L1731.2 176.8L1730.6 174.7L1729.0 172.0L1726.9 169.4L1725.8 166.0L1725.8 163.5L1725.0 161.0L1723.0 156.7L1724.5 154.0L1726.2 151.7Z" fill="#a380ab"/>
<path d="M1776.0 230.0L1779.5 230.8L1781.1 232.4L1783.0 232.0L1783.4 236.4L1784.9 238.4L1787.0 240.0L1786.9 242.7L1789.9 243.5L1790.6 247.2L1791.0 250.0L1790.5 253.0L1793.0 252.9L1792.5 257.8L1795.0 260.0L1791.5 263.0L1788.9 260.2L1787.4 258.2L1788.5 257.6L1785.5 254.0L1785.3 251.1L1782.4 248.9L1779.9 247.3L1780.0 245.0L1777.3 244.3L1778.4 241.6L1775.6 238.5L1775.0 236.0L1774.3 233.2Z" fill="#a380ab"/>
<path d="M1775 503l5 -2l3 6l-4 6l-5 -3z" fill="#9adbbb" stroke-width="1.5"/>
<path d="M1642.0 472.0L1644.3 473.7L1647.6 472.3L1650.0 476.0L1651.8 472.8L1654.8 473.3L1659.2 472.5L1660.0 473.0L1661.7 475.2L1664.8 472.6L1667.1 474.8L1670.0 476.0L1671.1 476.0L1673.8 474.7L1676.8 474.6L1679.8 473.6L1682.0 474.0" fill="none" stroke-width="3.2" stroke-linecap="round"/>
<path d="M1672.5 450.0L1672.3 451.1L1674.4 456.5L1674.6 457.0L1674.3 459.2L1676.0 462.0L1678.3 464.1L1678.9 467.4L1680.4 467.8L1679.7 471.5L1682.2 473.5L1682.5 475.0L1683.2 477.0L1684.0 481.2L1685.0 482.5L1688.5 482.3L1689.4 484.4L1692.4 483.1L1695.0 484.9L1697.5 485.0" fill="none" stroke-width="3.2" stroke-linecap="round"/>
<path d="M1711.0 514.0L1712.2 516.5L1714.7 517.2L1718.0 519.0L1719.6 520.0L1724.5 523.9L1726.0 523.0L1728.1 526.1L1732.1 526.6L1733.0 527.0L1735.6 527.8L1739.8 531.4L1740.0 533.0L1742.6 532.0L1744.4 534.2L1748.0 536.0L1749.4 534.1L1751.9 531.3L1755.0 530.0L1758.9 526.4L1758.1 526.7L1762.0 525.0L1766.0 523.6L1766.5 522.5L1770.0 521.0L1772.4 519.3L1774.6 516.8L1776.0 515.0L1776.8 513.3L1778.0 510.7L1780.0 509.0" fill="none" stroke-width="5.0" stroke-linecap="round"/>
<path d="M1722.0 516.0L1724.7 517.4L1728.5 518.6L1730.0 520.0L1733.8 520.7L1735.4 521.8L1738.7 522.4L1740.0 524.0L1741.1 523.4L1745.9 524.1L1749.5 522.5L1750.0 521.0L1751.5 518.2L1754.5 517.5L1758.0 516.0L1759.7 516.0L1763.2 513.0L1766.0 512.0L1766.9 510.1L1770.4 508.9L1772.0 508.0" fill="none" stroke-width="5.0" stroke-linecap="round"/>
<path d="M1738.0 526.0L1740.3 528.8L1739.5 531.0L1739.9 534.0L1740.0 536.0L1740.7 538.4L1743.9 539.6L1746.0 541.0" fill="none" stroke-width="4.0" stroke-linecap="round"/>
<path d="M1756.0 516.0L1757.3 513.3L1759.1 509.3L1758.5 507.8L1758.0 506.0L1754.2 504.6L1755.0 501.9L1752.0 500.0" fill="none" stroke-width="4.0" stroke-linecap="round"/>
<path d="M1778.0 410.0L1780.5 409.0L1783.4 409.6L1784.9 406.3L1788.2 406.5L1790.2 407.0L1792.9 407.5L1795.0 406.0L1798.0 407.5L1800.2 406.8L1803.0 407.0" fill="none" stroke-width="3.2" stroke-linecap="round"/>
<path d="M1780.0 387.0L1776.4 388.4L1776.1 389.8L1772.8 391.6L1772.0 393.0L1769.4 394.0L1769.5 396.3L1768.0 400.0" fill="none" stroke-width="3.2" stroke-linecap="round"/>
<path d="M1704.5 320.0L1705.3 323.9L1705.5 325.4L1706.5 329.4L1707.8 331.0L1707.0 334.0" fill="none" stroke-width="3.2" stroke-linecap="round"/>
<path d="M1806.0 420.0L1805.1 422.1L1804.7 424.5L1800.7 424.4L1800.0 428.0L1798.8 432.0L1794.9 433.5L1795.0 436.0" fill="none" stroke-width="3.2" stroke-linecap="round"/>
</g>
<path d="M1235.0 285.0L1234.2 282.8L1233.9 277.6L1234.0 276.9L1235.3 275.3L1234.5 272.5L1236.2 270.7L1236.6 268.0L1237.8 264.6L1238.8 261.3L1241.8 260.1L1242.7 258.0L1245.0 256.3L1247.9 254.6L1250.1 254.2L1252.9 253.0L1255.0 253.8L1257.7 253.0L1259.5 251.4L1263.2 250.9L1265.0 248.8L1266.7 246.1L1268.6 244.6L1269.7 242.5L1273.4 241.7L1275.0 240.0L1275.8 238.6L1279.4 238.1L1282.2 236.2L1283.8 235.0L1286.4 236.2L1290.0 237.5L1293.7 236.5L1295.1 234.0L1297.2 235.4L1300.0 233.8L1302.8 231.8L1305.2 234.3L1309.2 231.0L1309.2 228.9L1313.3 229.8L1315.0 228.8L1317.8 227.0L1320.0 226.3L1322.9 229.2L1325.0 228.8L1328.1 228.0L1329.4 227.7L1332.7 226.8L1335.6 226.0L1337.5 225.0L1340.7 223.3L1340.9 223.7L1345.4 221.8L1349.2 219.7L1350.0 220.0L1350.9 217.2L1352.5 215.4L1354.6 213.9L1354.8 212.1L1357.5 210.0L1357.2 207.5L1359.8 204.5L1357.7 202.4L1361.3 200.0L1364.9 197.9L1366.3 196.3L1368.5 196.3L1370.0 192.5L1369.3 190.0L1368.9 188.3L1368.2 184.4L1366.5 183.3L1366.3 180.0L1369.3 178.5L1368.8 175.1L1371.3 172.5L1372.9 170.1L1376.1 168.5L1376.4 167.1L1379.5 166.5L1380.0 163.8L1382.5 160.8L1384.7 161.2L1384.6 158.3L1387.5 157.5L1391.6 156.9L1392.9 158.1L1395.1 156.3L1397.0 157.5L1400.0 157.5L1399.6 154.6L1400.1 152.5L1401.0 148.1L1401.3 146.3L1403.1 142.8L1404.6 142.2L1407.9 140.5L1408.8 138.8L1410.3 137.6L1411.5 132.5L1412.5 130.0L1416.2 127.5L1417.7 127.8L1419.7 124.0L1422.5 123.8L1423.9 123.6L1427.1 121.9L1427.2 119.4L1430.0 117.5L1433.4 119.4L1436.3 115.3L1437.9 117.7L1441.3 117.5L1444.7 118.0L1447.1 118.4L1450.0 121.3L1452.3 124.1L1451.6 125.0L1455.4 126.8L1457.6 128.7L1458.8 131.3L1460.0 134.8L1463.4 133.8L1465.0 136.0L1469.0 137.1L1470.9 137.9L1472.1 139.1L1475.0 140.0L1478.3 136.6L1478.6 137.7L1482.5 137.5L1483.0 135.6L1482.8 132.3L1483.4 130.0L1483.8 127.5L1483.9 125.7L1486.6 123.6L1486.5 118.8L1487.8 116.1L1487.6 117.3L1490.0 112.5L1490.8 110.2L1491.1 105.7L1492.4 104.9L1494.2 102.3L1493.8 100.0L1496.5 97.1L1498.0 98.6L1498.6 94.6L1500.8 92.0L1502.5 91.3L1498.4 89.4L1498.8 88.0L1496.3 85.0L1494.0 82.7L1491.3 81.3L1493.8 78.7L1494.0 74.5L1496.3 73.8L1500.4 72.1L1501.1 73.9L1505.0 74.6L1507.5 73.8L1512.5 74.2L1512.5 76.3L1511.5 79.3L1509.4 83.0L1508.8 85.0L1508.7 86.4L1512.2 86.8L1515.0 90.0L1517.9 91.0L1520.2 91.1L1523.5 89.8L1526.3 90.0L1527.9 87.0L1528.8 83.8L1526.2 82.4L1525.0 79.8L1523.4 78.8L1520.7 77.1L1518.8 76.3L1519.3 74.6L1522.5 72.5L1526.2 71.7L1526.8 71.2L1532.2 69.9L1534.3 69.3L1536.3 68.8L1537.1 72.5L1537.7 74.9L1537.5 77.5L1541.1 80.1L1542.2 79.3L1545.7 81.2L1547.5 83.8L1548.5 85.1L1553.3 84.6L1554.8 85.8L1557.5 87.5L1561.3 86.9L1561.9 88.0L1565.4 86.5L1567.8 85.3L1570.0 85.0L1575.0 87.3L1576.7 89.9L1577.5 88.8L1578.8 87.2L1581.0 85.6L1581.6 84.1L1584.6 82.1L1587.5 80.0L1588.4 78.1L1591.3 76.2L1592.3 73.4L1593.7 71.5L1595.0 70.0L1593.8 72.3L1596.0 73.2L1594.5 78.0L1593.8 80.0L1594.4 83.3L1597.5 84.1L1597.5 87.5L1596.1 89.8L1596.6 93.0L1596.5 93.8L1595.8 98.2L1595.0 100.0L1590.8 101.8L1591.0 103.3L1588.2 107.8L1587.5 108.8L1588.8 110.2L1589.8 112.1L1593.7 113.1L1596.3 116.3L1595.2 118.1L1595.3 122.7L1597.8 123.4L1597.5 126.3L1594.9 127.6L1591.3 126.4L1590.0 125.0L1586.1 122.9L1584.2 123.6L1582.5 122.5L1579.3 125.0L1580.0 126.2L1577.7 128.5L1576.4 129.9L1573.8 132.2L1573.8 135.0L1574.0 136.3L1578.2 138.7L1579.0 140.2L1579.2 143.5L1582.5 145.0L1583.5 146.4L1585.6 147.8L1589.2 149.9L1590.1 151.0L1592.7 149.2L1595.0 152.5L1597.3 154.8L1600.4 155.1L1601.2 155.8L1605.0 157.5L1607.0 160.5L1608.6 160.4L1611.1 161.3L1613.0 164.6L1614.1 164.0L1617.5 167.5L1620.5 168.4L1622.8 170.0L1624.5 168.6L1626.8 170.4L1628.2 172.2L1631.3 172.5L1633.7 171.0L1634.7 168.9L1635.9 166.5L1637.5 165.0L1639.1 165.2L1642.5 166.3L1641.5 169.8L1639.8 171.5L1636.9 173.3L1635.0 175.0L1640.0 178.6L1637.7 179.8L1640.0 181.3L1641.9 183.1L1643.7 184.4L1645.8 185.5L1648.8 186.3L1653.1 186.8L1653.5 183.7L1657.0 182.6L1658.8 182.5L1659.1 179.3L1659.7 178.7L1660.9 175.5L1662.6 172.6L1663.7 169.7L1664.7 167.2L1665.1 166.5L1666.3 162.5L1668.0 160.3L1667.2 156.9L1667.9 157.0L1669.1 153.1L1670.7 150.8L1671.9 147.9L1671.3 145.0L1671.0 141.1L1672.9 140.8L1670.9 137.2L1670.8 135.6L1670.3 132.9L1671.0 130.3L1670.0 127.1L1669.3 124.7L1668.1 122.5L1670.0 120.0L1670.0 117.6L1672.0 113.5L1670.6 111.8L1672.4 109.2L1672.6 107.1L1672.3 105.6L1673.1 100.7L1673.8 100.0L1674.0 95.8L1673.8 93.2L1674.7 92.1L1676.1 90.9L1674.8 86.2L1676.3 85.0L1677.1 82.0L1675.9 79.5L1678.0 78.1L1678.3 77.3L1680.3 72.4L1678.6 69.6L1680.3 67.4L1680.0 65.0L1679.6 61.8L1678.3 58.4L1678.1 55.8L1678.8 55.0L1682.5 53.8L1683.2 57.6L1685.0 60.2L1687.5 62.1L1686.3 65.0L1686.8 68.7L1686.6 71.2L1688.7 73.1L1688.7 74.4L1691.3 77.5L1693.4 78.6L1693.1 82.6L1694.1 84.3L1694.2 85.6L1693.9 90.6L1696.3 92.5L1697.4 95.5L1700.0 95.8L1700.0 100.0L1700.7 103.0L1701.0 104.3L1700.7 106.4L1701.8 109.3L1701.3 112.5L1701.5 115.9L1702.8 119.4L1703.5 120.5L1705.3 123.5L1705.0 125.0L1707.4 126.5L1711.3 126.3L1713.9 126.3L1717.5 125.0L1718.3 125.3L1721.0 126.4L1722.0 131.7L1725.0 132.5L1725.4 132.4L1728.4 136.5L1727.2 138.5L1730.0 141.3L1730.4 143.3L1727.2 145.9L1727.5 148.8L1726.6 151.9L1729.6 154.3L1727.8 156.2L1730.0 160.0L1733.6 162.2L1732.5 164.5L1735.2 166.4L1735.9 168.6L1737.1 170.6L1738.8 173.8L1740.0 176.1L1739.3 182.9L1740.5 183.0L1739.4 185.4L1741.3 187.5L1741.8 190.0L1744.4 191.6L1743.9 193.4L1745.5 196.5L1746.1 200.4L1747.5 202.5L1749.5 203.2L1751.6 205.2L1753.0 210.6L1755.0 210.0L1759.6 212.2L1760.0 215.0L1761.7 218.2L1762.6 219.2L1765.0 221.3L1767.5 222.5L1768.9 223.6L1770.0 225.2L1772.4 225.0L1777.1 226.0L1780.0 227.5L1784.0 228.3L1785.8 228.4L1787.5 230.0L1786.6 233.8L1789.5 237.3L1790.0 238.8L1793.2 241.4L1794.2 243.4L1796.2 243.5L1798.8 245.0L1800.3 247.3L1802.1 249.8L1802.2 250.8L1805.0 255.0L1806.3 257.8L1809.2 260.4L1809.4 260.0L1812.5 262.5L1814.2 264.5L1815.6 268.7L1814.6 272.2L1817.7 271.3L1816.3 275.0L1817.2 278.1L1817.6 279.8L1819.6 283.0L1820.0 286.3L1823.0 289.5L1823.9 290.9L1826.7 293.0L1826.3 296.3L1827.3 299.0L1830.1 298.5L1832.0 300.8L1833.8 302.5L1836.0 304.0L1836.4 305.2L1840.2 309.0L1839.2 309.8L1843.0 310.0L1845.0 312.5L1848.5 311.4L1850.7 312.9L1852.5 311.3L1853.4 314.1L1855.0 317.5L1854.0 319.5L1853.2 321.2L1852.3 325.8L1852.5 327.5L1850.9 328.7L1851.3 333.6L1850.0 335.0L1851.4 338.3L1852.4 340.2L1851.8 342.3L1852.7 345.0L1854.5 348.2L1854.2 350.7L1855.5 352.1L1856.0 356.0L1855.0 359.1L1856.9 362.2L1856.8 364.4L1859.1 367.5L1858.7 368.0L1859.7 371.0L1859.3 373.7L1859.0 374.9L1858.5 378.2L1858.6 382.2L1858.2 384.7L1859.0 387.5L1856.9 390.1L1856.3 392.1L1857.9 396.8L1854.9 397.1L1853.9 397.7L1853.8 402.2L1853.8 404.5L1854.2 407.3L1853.4 411.1L1852.2 410.6L1850.7 414.3L1850.3 417.7L1850.5 420.0L1850.3 423.2L1847.7 425.7L1846.5 427.6L1846.2 430.4L1845.0 433.0L1844.3 435.8L1842.4 438.3L1842.8 440.2L1839.9 441.7L1840.0 445.0L1837.7 447.3L1837.6 450.5L1834.7 450.1L1834.3 453.2L1833.2 456.6L1831.6 458.1L1830.0 460.0L1830.1 461.8L1826.5 463.2L1823.7 466.1L1824.8 469.3L1821.2 470.8L1822.8 474.7L1820.0 475.0L1816.4 476.8L1815.9 479.5L1816.9 480.9L1813.4 485.4L1813.5 488.1L1812.5 490.0L1812.4 490.4L1811.0 495.3L1807.0 497.8L1807.5 500.0L1806.2 503.2L1805.2 504.4L1807.3 508.3L1805.7 510.7L1804.5 511.7L1803.8 515.0L1803.4 517.7L1802.9 519.5L1802.8 525.3L1801.3 526.3L1801.1 529.4L1802.4 532.9L1800.0 535.0L1797.9 535.3L1795.3 535.8L1793.2 536.6L1790.0 536.3L1789.7 535.1L1784.0 537.4L1783.6 538.3L1778.1 538.9L1777.7 538.7L1775.0 540.0L1772.1 542.7L1769.3 542.5L1769.4 544.1L1765.4 545.0L1762.2 544.8L1760.0 547.5L1758.0 549.0L1755.9 551.9L1752.0 554.1L1751.7 555.4L1750.0 557.5L1745.8 560.0L1745.8 562.6L1745.0 563.8L1741.5 559.9L1741.9 557.1L1740.0 556.3L1737.0 555.9L1735.2 556.4L1732.3 555.3L1730.0 555.0L1727.5 553.7L1725.2 549.6L1725.3 548.8L1721.5 549.5L1720.0 546.3L1717.2 548.6L1715.3 550.0L1712.5 550.0L1710.4 550.4L1709.2 551.7L1706.4 554.4L1704.6 555.3L1701.3 557.0L1698.5 556.8L1696.8 554.9L1693.3 555.9L1694.5 553.9L1691.2 552.1L1687.5 552.5L1684.4 550.7L1682.4 552.3L1679.4 549.4L1677.4 550.1L1675.0 547.5L1672.5 548.9L1670.9 548.3L1667.5 548.8L1665.2 546.4L1665.2 544.7L1663.8 542.5L1660.6 541.0L1657.7 541.1L1656.0 540.2L1652.5 538.8L1649.8 536.5L1647.9 534.5L1647.5 529.7L1645.6 528.5L1643.8 527.5L1643.4 525.1L1642.7 522.8L1641.1 520.5L1640.5 516.9L1640.0 515.0L1638.9 513.1L1638.3 509.9L1635.5 508.2L1635.1 504.0L1633.8 502.6L1632.5 500.0L1630.8 499.0L1631.4 495.2L1629.0 492.2L1628.0 491.8L1626.3 488.0L1626.3 484.7L1624.6 481.9L1625.0 480.0L1624.4 476.1L1622.7 475.0L1620.7 470.7L1621.3 469.9L1620.0 467.5L1617.0 466.0L1615.5 469.6L1617.5 472.5L1617.2 475.2L1615.7 477.0L1616.3 480.2L1615.0 482.5L1615.0 483.1L1611.8 487.3L1610.4 489.9L1610.0 491.3L1607.6 492.9L1601.5 493.8L1601.2 493.8L1598.8 493.8L1597.5 490.0L1601.6 487.6L1603.6 487.5L1605.0 487.5L1605.2 485.8L1607.9 481.7L1606.4 479.9L1608.4 476.7L1608.8 475.0L1610.4 472.4L1611.4 470.7L1609.9 468.0L1610.1 466.5L1611.6 462.6L1612.5 460.0L1611.2 456.8L1611.8 454.3L1614.1 454.7L1611.0 448.5L1611.0 447.7L1611.3 445.0L1611.3 447.2L1610.9 450.8L1611.0 453.2L1610.0 455.0L1607.4 456.9L1604.6 458.8L1603.8 461.3L1602.4 462.8L1600.0 465.0L1597.8 466.8L1596.7 468.1L1595.0 470.0L1594.5 470.9L1591.8 474.1L1589.6 477.2L1588.6 478.1L1587.5 480.0L1587.0 481.8L1582.8 485.4L1584.2 487.0L1581.3 488.8L1579.7 487.3L1578.0 484.5L1575.5 482.8L1574.6 480.5L1572.5 477.5L1569.6 476.0L1570.3 473.0L1568.5 471.6L1567.1 470.3L1565.0 467.2L1565.0 465.0L1561.3 464.3L1561.6 460.7L1558.2 459.8L1557.2 457.6L1556.3 456.3L1552.7 454.6L1552.0 452.3L1553.5 448.2L1551.5 446.3L1550.0 445.0L1548.3 444.7L1545.6 444.5L1543.7 441.9L1542.8 440.3L1538.9 438.9L1537.5 437.5L1535.4 436.2L1531.7 435.9L1528.3 438.1L1526.3 435.6L1523.8 435.0L1520.4 434.5L1518.6 433.7L1518.8 433.9L1515.2 430.9L1513.0 429.1L1511.0 427.5L1507.5 427.5L1503.3 427.0L1502.6 429.7L1499.8 427.3L1496.9 428.3L1494.6 429.7L1492.5 430.0L1489.4 429.5L1487.6 429.8L1483.4 429.5L1482.1 428.9L1478.8 428.2L1477.1 428.3L1475.0 430.0L1472.4 431.9L1469.9 431.8L1469.1 432.1L1465.0 435.0L1460.8 435.5L1458.7 438.7L1456.1 435.7L1455.3 435.7L1454.3 435.7L1450.1 438.2L1446.0 437.6L1445.0 438.8L1442.8 438.9L1439.8 440.0L1438.7 442.1L1435.4 439.8L1432.8 440.3L1429.4 439.4L1427.5 441.3L1423.8 443.3L1423.6 443.4L1419.5 443.2L1418.5 447.4L1414.5 444.5L1412.5 447.5L1410.8 449.4L1408.2 449.4L1406.7 449.6L1405.0 451.7L1401.7 455.3L1400.0 455.0L1398.9 457.6L1398.0 460.4L1396.3 463.8L1394.9 466.4L1391.3 468.1L1390.0 470.0L1388.0 470.5L1386.3 470.5L1382.4 470.0L1380.4 470.1L1379.4 471.3L1375.0 471.3L1371.4 471.9L1370.5 472.1L1367.8 472.9L1364.5 471.3L1363.3 470.6L1360.0 471.3L1357.7 472.5L1356.5 470.5L1353.2 470.8L1348.1 473.7L1347.0 471.1L1345.0 471.3L1343.2 471.3L1338.5 472.5L1335.3 472.3L1335.5 472.2L1331.6 473.6L1330.0 472.5L1330.8 474.8L1326.7 476.2L1324.4 478.7L1323.3 480.1L1321.3 482.5L1319.6 483.4L1315.8 484.8L1314.9 485.4L1311.3 486.3L1309.3 487.9L1305.3 489.0L1302.9 491.0L1301.3 492.0L1298.4 492.3L1295.0 491.1L1291.7 490.2L1290.7 492.1L1287.5 491.3L1285.3 491.2L1284.8 491.4L1277.2 490.0L1278.1 489.8L1273.8 488.8L1271.0 486.7L1270.9 484.7L1268.8 482.5L1266.4 480.1L1263.0 479.7L1261.3 478.8L1258.8 477.6L1257.6 474.4L1255.0 472.5L1254.9 469.7L1255.6 468.8L1258.8 465.0L1261.4 463.4L1264.2 460.7L1265.0 460.0L1266.4 458.3L1265.5 454.5L1265.8 453.7L1266.2 451.0L1265.7 448.8L1267.8 445.0L1266.1 441.9L1266.3 440.0L1264.8 438.3L1264.1 435.0L1263.2 432.5L1263.2 429.4L1262.5 427.5L1260.9 425.5L1261.1 423.1L1260.0 420.6L1260.1 417.8L1257.0 414.9L1257.7 413.2L1256.3 410.0L1255.8 408.0L1255.5 404.7L1255.3 402.1L1256.3 401.2L1255.4 397.2L1256.1 394.2L1255.0 392.5L1254.2 388.7L1254.1 388.5L1250.1 386.3L1249.8 381.7L1250.9 380.2L1248.8 377.5L1246.7 376.5L1246.2 372.0L1246.5 370.0L1244.8 366.4L1243.7 366.1L1244.4 362.1L1241.3 360.0L1239.1 358.1L1238.0 354.8L1238.5 351.2L1238.6 349.0L1238.5 347.5L1236.3 345.0L1235.2 341.1L1231.9 341.4L1230.3 339.8L1227.9 338.7L1226.3 335.0L1226.4 332.0L1226.7 331.2L1225.4 328.2L1223.8 325.0L1227.6 324.5L1230.0 322.5L1231.0 317.8L1233.6 316.6L1233.8 315.0L1232.0 312.4L1234.5 309.9L1233.3 308.9L1233.1 305.4L1231.0 302.4L1231.3 300.0L1233.9 297.8L1231.7 295.2L1232.7 292.2L1232.7 290.2L1235.7 287.3Z" fill="none" stroke="#595959" stroke-width="3.5" stroke-linejoin="round"/>
<path d="M1720.0 586.3L1719.5 589.8L1717.5 592.5L1719.0 594.9L1719.1 598.4L1717.5 599.3L1720.0 602.5L1720.8 604.1L1720.7 607.8L1722.9 609.5L1723.4 612.1L1725.0 615.0L1727.0 616.9L1726.8 619.7L1730.6 621.9L1730.0 625.0L1731.8 627.2L1733.7 630.6L1735.7 632.1L1736.3 635.0L1737.8 637.2L1741.3 640.0L1743.7 639.7L1746.5 639.4L1748.1 641.2L1752.5 640.0L1752.6 639.4L1758.0 636.6L1758.5 633.9L1760.0 632.5L1760.9 632.3L1766.7 634.3L1769.9 633.0L1771.3 632.5L1770.9 628.7L1771.4 627.8L1772.0 624.2L1772.5 622.5L1772.1 619.9L1771.6 618.1L1776.2 615.0L1775.0 612.5L1777.4 610.6L1775.8 607.0L1775.0 604.0L1775.6 602.2L1776.3 600.0L1776.3 598.8L1775.8 596.3L1775.3 592.4L1775.0 590.0L1772.3 592.5L1770.1 592.6L1768.6 591.3L1765.0 592.5L1759.9 593.2L1759.9 594.1L1757.4 595.1L1753.4 595.9L1752.5 596.3L1750.1 597.5L1747.8 596.2L1745.0 597.3L1741.4 597.0L1740.0 596.3L1736.5 593.4L1735.9 591.6L1730.9 591.9L1730.0 590.0L1728.2 588.0L1726.6 586.5L1723.8 585.0Z" fill="#a09dc4" stroke="#595959" stroke-width="3.2" stroke-linejoin="round"/>
<path d="M1706.0 571.0L1709.0 572.0L1710.0 578.0L1707.0 581.0L1704.5 577.0Z" fill="#595959" stroke="#595959" stroke-width="2.2" stroke-linejoin="round"/>
<path d="M1768.0 571.0L1773.0 570.0L1778.0 577.0L1776.0 584.0L1771.0 585.0L1767.0 578.0Z" fill="#595959" stroke="#595959" stroke-width="2.2" stroke-linejoin="round"/>
<path d="M1592.5 503.0L1594.5 501.7L1598.2 501.1L1601.2 501.9L1603.0 500.5L1606.1 500.6L1608.7 501.9L1611.9 502.6L1614.0 503.0L1612.3 504.9L1610.0 507.5L1607.5 508.6L1604.7 507.8L1602.7 508.5L1600.0 508.6L1598.0 508.5L1596.4 507.1L1594.5 504.4Z" fill="#c7eba0" stroke="#595959" stroke-width="2.8" stroke-linejoin="round"/>
<path d="M1261.5 235.0L1263.0 234.5L1264.0 238.0L1262.0 243.0L1260.5 241.0Z" fill="#595959" stroke="#595959" stroke-width="1.2" stroke-linejoin="round"/>
<path d="M1226.0 310.0L1228.0 311.0L1227.0 319.0L1225.0 318.0Z" fill="#595959" stroke="#595959" stroke-width="1.2" stroke-linejoin="round"/>
<path d="M1229.0 322.0L1233.0 320.0L1238.0 327.0L1241.0 334.0L1240.0 339.0L1235.0 336.0L1230.0 330.0Z" fill="#595959" stroke="#595959" stroke-width="1.2" stroke-linejoin="round"/>
<path d="M1367.0 173.0L1370.4 171.2L1373.0 172.0L1373.0 170.0L1376.9 167.6L1377.8 166.7L1376.3 166.3L1380.0 165.0L1382.9 162.9L1383.8 163.2L1387.8 161.4L1388.0 160.0L1391.1 163.5L1391.2 160.4L1394.3 161.7L1397.5 162.5L1398.4 161.1L1400.0 161.0L1400.5 159.0L1404.8 158.9L1403.0 154.0L1403.8 155.2L1401.7 146.5L1403.3 148.5L1401.0 146.0L1401.9 147.5L1407.0 142.1L1404.5 142.9L1408.4 140.7L1410.0 139.5L1409.7 137.9L1411.0 136.7L1410.6 131.2L1413.0 130.0L1415.5 129.4L1418.8 125.9L1417.9 126.5L1419.9 124.4L1423.0 125.0L1427.6 124.6L1430.0 123.8L1429.0 120.0L1432.4 120.9L1431.3 118.2L1438.7 117.3L1435.9 116.5L1440.0 118.5" fill="none" stroke="#595959" stroke-width="5.5" stroke-linejoin="round" stroke-linecap="round"/>
<path d="M1390.0 158.0L1391.4 154.4L1397.7 154.7L1393.1 158.7L1398.0 156.0L1399.0 152.1L1401.9 157.2L1402.4 151.9L1402.6 150.4L1404.0 148.0L1404.4 147.3L1404.2 141.9L1409.2 146.1L1409.0 141.0L1409.3 139.0L1412.0 142.1L1415.2 137.2L1415.7 135.4L1415.0 131.0" fill="none" stroke="#595959" stroke-width="4.5" stroke-linejoin="round" stroke-linecap="round"/>
<path d="M1458.0 136.0L1457.5 137.3L1458.6 142.3L1459.0 142.0L1461.2 146.8L1460.6 145.6L1461.0 149.0" fill="none" stroke="#595959" stroke-width="5.5" stroke-linejoin="round" stroke-linecap="round"/>
<path d="M1475.0 139.0L1477.7 141.2L1478.4 142.0L1479.0 144.0L1482.5 141.1L1483.0 140.0L1483.4 136.7L1486.2 137.3L1488.0 136.5" fill="none" stroke="#595959" stroke-width="4.5" stroke-linejoin="round" stroke-linecap="round"/>
<path d="M1491.0 82.0L1493.4 80.2L1492.0 78.3L1494.7 75.9L1496.0 74.0L1496.1 74.3L1499.1 74.2L1500.9 74.1L1506.4 72.9L1504.9 71.2L1508.0 74.0L1509.5 75.1L1512.0 77.0L1511.3 79.2L1510.8 80.6L1508.0 81.4L1509.0 85.0" fill="none" stroke="#595959" stroke-width="4.8" stroke-linejoin="round" stroke-linecap="round"/>
<path d="M1516.0 89.0L1515.8 90.7L1519.3 89.6L1523.1 87.8L1525.3 88.6L1527.0 89.5L1527.2 87.7L1527.6 87.6L1528.5 83.0L1527.7 82.1L1524.7 80.0L1525.6 77.6L1520.5 77.6L1520.0 76.0L1521.1 73.0L1525.3 73.0L1527.5 73.0L1528.0 71.0L1529.7 71.2L1533.6 69.0L1533.0 67.1L1536.0 69.0L1535.3 72.3L1537.7 71.1L1536.5 76.1L1538.0 78.0" fill="none" stroke="#595959" stroke-width="4.8" stroke-linejoin="round" stroke-linecap="round"/>
<path d="M1547.0 84.0L1547.3 83.3L1549.1 84.9L1552.1 86.7L1555.2 87.9L1558.0 88.0L1560.2 88.9L1561.2 86.5L1565.9 86.9L1564.0 84.1L1568.4 83.2L1570.0 85.0L1570.9 85.1L1574.0 85.7L1576.1 89.1L1578.0 89.0L1579.7 86.8L1581.1 87.6L1582.4 86.1L1584.0 82.8L1586.3 81.1L1588.0 80.0L1586.9 78.7L1589.1 75.4L1591.8 74.9L1591.8 76.3L1595.0 71.0" fill="none" stroke="#595959" stroke-width="4.2" stroke-linejoin="round" stroke-linecap="round"/>
<path d="M1596.0 88.0L1597.6 87.5L1596.5 91.1L1597.9 94.3L1598.3 95.6L1595.2 95.4L1595.0 100.0L1595.4 101.8L1591.1 102.5L1586.4 105.1L1588.2 105.1L1588.0 109.0L1587.1 107.8L1592.6 110.8L1593.3 111.4L1592.4 112.4L1596.0 116.0L1599.4 115.8L1595.7 119.5L1597.0 123.0L1594.4 123.6L1597.0 126.0L1594.9 126.5L1589.7 126.4L1590.0 125.0L1588.4 125.5L1585.0 122.5L1583.0 123.0" fill="none" stroke="#595959" stroke-width="5.2" stroke-linejoin="round" stroke-linecap="round"/>
<path d="M1582.0 145.0L1583.4 146.4L1584.7 146.9L1586.6 147.6L1590.7 147.8L1591.4 151.0L1594.0 150.8L1595.0 152.5" fill="none" stroke="#595959" stroke-width="4.5" stroke-linejoin="round" stroke-linecap="round"/>
<path d="M1776.0 229.0L1779.4 228.9L1780.6 230.4L1782.8 233.3L1780.5 232.9L1784.6 232.3L1788.0 231.0L1785.2 233.5L1786.8 237.6L1792.0 236.8L1791.0 240.0L1792.3 243.2L1790.1 244.7L1797.9 241.4L1796.2 242.7L1799.0 246.0L1801.5 251.9L1799.7 249.4L1799.3 254.4L1800.3 253.8L1805.0 256.0L1804.7 259.9L1810.6 255.1L1809.7 261.0L1812.0 263.0L1812.3 264.1L1812.5 267.0L1812.0 267.3L1814.7 272.7L1816.6 272.1L1816.0 275.0L1814.1 279.3L1819.0 276.3L1822.0 282.3L1815.5 283.9L1820.0 286.0" fill="none" stroke="#595959" stroke-width="5.0" stroke-linejoin="round" stroke-linecap="round"/>
<path d="M1789.0 236.0L1790.2 238.9L1791.7 238.4L1791.4 239.3L1794.6 245.7L1792.5 245.5L1790.6 249.0L1794.0 250.0L1795.5 253.9L1790.5 254.3L1796.4 259.0L1796.3 257.5L1797.0 261.5L1796.8 262.6L1799.3 260.8L1797.0 266.0L1796.7 273.6L1794.0 270.9L1794.0 274.0L1794.0 274.0" fill="none" stroke="#595959" stroke-width="4.0" stroke-linejoin="round" stroke-linecap="round"/>
<path d="M1747.0 203.0L1749.0 206.0L1751.3 206.1L1751.9 206.6L1753.5 209.6L1755.0 210.0L1757.0 212.3L1758.6 213.5L1760.5 215.3L1760.0 215.7L1761.0 217.1L1764.7 218.8L1763.4 220.9L1767.0 222.0" fill="none" stroke="#595959" stroke-width="4.2" stroke-linejoin="round" stroke-linecap="round"/>
<path d="M1226.0 312.0L1224.3 313.3L1226.1 314.4L1226.6 317.4L1225.1 320.3L1221.2 324.2L1225.0 324.0L1223.1 325.8L1226.8 328.7L1230.1 332.3L1230.0 332.0L1232.2 335.3L1230.5 337.0L1232.4 336.4L1234.4 337.2L1233.9 343.9L1237.0 343.0" fill="none" stroke="#595959" stroke-width="4.5" stroke-linejoin="round" stroke-linecap="round"/>
<path d="M1620.0 468.0L1621.3 470.6L1621.2 471.7L1623.2 474.4L1622.9 477.3L1624.2 478.0L1625.0 480.0L1626.6 481.1L1625.4 483.7L1626.7 484.6L1626.0 488.0" fill="none" stroke="#595959" stroke-width="4.5" stroke-linejoin="round" stroke-linecap="round"/>
<path d="M1382.3 168.2L1389.5 184.1L1392.6 173Z" fill="#fff" stroke="#595959" stroke-width="2.6" stroke-linejoin="round"/>
<g fill="#595959"><circle cx="1391.5" cy="159.9" r="1.9"/><circle cx="1388.0" cy="157.1" r="2.3"/><circle cx="1388.9" cy="157.3" r="2.3"/><circle cx="1398.6" cy="156.4" r="1.8"/><circle cx="1397.1" cy="152.4" r="1.4"/><circle cx="1400.1" cy="153.5" r="1.8"/><circle cx="1400.3" cy="153.0" r="2.4"/><circle cx="1391.4" cy="157.2" r="1.8"/><circle cx="1403.1" cy="139.7" r="1.5"/><circle cx="1406.8" cy="129.7" r="1.4"/><circle cx="1406.0" cy="138.3" r="1.3"/><circle cx="1413.6" cy="131.2" r="1.4"/><circle cx="1411.8" cy="136.1" r="2.3"/><circle cx="1404.5" cy="144.2" r="1.4"/><circle cx="1401.8" cy="139.1" r="2.3"/><circle cx="1404.9" cy="131.4" r="1.2"/><circle cx="1401.0" cy="143.7" r="1.8"/><circle cx="1410.9" cy="135.1" r="1.2"/><circle cx="1407.7" cy="129.0" r="1.6"/><circle cx="1400.3" cy="138.9" r="1.4"/><circle cx="1403.3" cy="148.7" r="1.8"/><circle cx="1403.4" cy="146.0" r="1.3"/><circle cx="1407.9" cy="135.9" r="1.2"/><circle cx="1413.5" cy="133.6" r="1.3"/><circle cx="1414.0" cy="129.0" r="2.1"/><circle cx="1420.6" cy="119.6" r="1.5"/><circle cx="1418.9" cy="124.4" r="2.4"/><circle cx="1429.5" cy="115.2" r="1.7"/><circle cx="1417.2" cy="121.5" r="1.2"/><circle cx="1414.6" cy="127.7" r="1.5"/><circle cx="1427.1" cy="115.3" r="1.9"/><circle cx="1427.3" cy="123.7" r="2.1"/><circle cx="1431.0" cy="118.4" r="2.0"/><circle cx="1414.9" cy="125.0" r="2.1"/><circle cx="1429.9" cy="118.0" r="1.2"/><circle cx="1419.3" cy="123.1" r="2.4"/><circle cx="1364.4" cy="179.1" r="1.6"/><circle cx="1370.0" cy="183.6" r="2.0"/><circle cx="1364.5" cy="178.9" r="1.3"/><circle cx="1368.3" cy="175.0" r="1.2"/><circle cx="1393.4" cy="162.5" r="2.0"/><circle cx="1392.0" cy="167.2" r="1.6"/><circle cx="1390.7" cy="162.9" r="1.7"/><circle cx="1396.3" cy="179.9" r="1.3"/><circle cx="1393.5" cy="172.3" r="2.3"/><circle cx="1390.6" cy="175.5" r="2.2"/><circle cx="1392.9" cy="175.0" r="1.8"/><circle cx="1392.8" cy="161.0" r="2.1"/><circle cx="1508.0" cy="76.6" r="1.5"/><circle cx="1506.9" cy="72.1" r="1.4"/><circle cx="1500.3" cy="81.1" r="1.5"/><circle cx="1503.8" cy="75.8" r="1.5"/><circle cx="1505.3" cy="82.0" r="2.1"/><circle cx="1498.0" cy="79.8" r="1.7"/><circle cx="1503.3" cy="79.1" r="1.8"/><circle cx="1496.4" cy="75.3" r="1.3"/><circle cx="1498.1" cy="76.9" r="1.2"/><circle cx="1495.4" cy="80.9" r="2.1"/><circle cx="1530.2" cy="74.9" r="2.1"/><circle cx="1522.5" cy="75.8" r="1.6"/><circle cx="1532.4" cy="73.2" r="1.4"/><circle cx="1535.7" cy="74.1" r="2.1"/><circle cx="1527.8" cy="72.8" r="1.7"/><circle cx="1528.1" cy="73.2" r="1.9"/><circle cx="1533.2" cy="70.5" r="2.2"/><circle cx="1526.9" cy="75.1" r="1.3"/><circle cx="1534.2" cy="69.0" r="1.3"/><circle cx="1529.9" cy="75.4" r="1.7"/><circle cx="1593.3" cy="74.9" r="1.9"/><circle cx="1584.0" cy="81.8" r="1.8"/><circle cx="1578.0" cy="86.1" r="2.2"/><circle cx="1578.4" cy="85.0" r="1.3"/><circle cx="1585.7" cy="82.0" r="1.3"/><circle cx="1596.3" cy="72.8" r="1.3"/><circle cx="1583.1" cy="80.4" r="2.1"/><circle cx="1586.2" cy="79.1" r="1.5"/><circle cx="1593.5" cy="74.5" r="1.7"/><circle cx="1581.5" cy="78.9" r="2.4"/><circle cx="1584.5" cy="112.5" r="1.6"/><circle cx="1589.5" cy="119.4" r="1.3"/><circle cx="1587.6" cy="113.5" r="2.1"/><circle cx="1592.4" cy="119.6" r="1.3"/><circle cx="1593.7" cy="114.4" r="2.3"/><circle cx="1597.7" cy="123.4" r="2.1"/><circle cx="1590.5" cy="114.8" r="1.9"/><circle cx="1584.8" cy="112.5" r="2.2"/><circle cx="1800.1" cy="257.6" r="1.3"/><circle cx="1799.4" cy="257.4" r="2.0"/><circle cx="1786.0" cy="239.9" r="1.6"/><circle cx="1796.9" cy="250.0" r="2.0"/><circle cx="1791.5" cy="242.7" r="2.4"/><circle cx="1783.3" cy="231.3" r="1.4"/><circle cx="1803.9" cy="256.0" r="1.6"/><circle cx="1781.9" cy="232.4" r="1.7"/><circle cx="1780.4" cy="231.4" r="1.7"/><circle cx="1790.4" cy="247.5" r="2.3"/><circle cx="1800.9" cy="256.9" r="2.2"/><circle cx="1788.4" cy="243.6" r="1.7"/><circle cx="1787.0" cy="240.6" r="2.2"/><circle cx="1782.7" cy="235.8" r="1.8"/><circle cx="1794.7" cy="251.4" r="1.6"/><circle cx="1792.9" cy="249.6" r="1.2"/><circle cx="1791.4" cy="247.3" r="2.2"/><circle cx="1786.9" cy="241.5" r="1.2"/><circle cx="1781.8" cy="225.3" r="1.5"/><circle cx="1777.7" cy="230.2" r="1.6"/><circle cx="1786.1" cy="238.0" r="2.3"/><circle cx="1787.0" cy="238.9" r="1.9"/><circle cx="1776.2" cy="228.0" r="1.6"/><circle cx="1787.5" cy="239.6" r="1.9"/><circle cx="1798.9" cy="243.6" r="2.0"/><circle cx="1788.4" cy="241.8" r="2.3"/><circle cx="1819.2" cy="280.9" r="2.2"/><circle cx="1820.3" cy="288.9" r="1.2"/><circle cx="1806.0" cy="261.4" r="2.0"/><circle cx="1810.2" cy="270.9" r="2.1"/><circle cx="1803.3" cy="256.6" r="1.3"/><circle cx="1811.6" cy="260.5" r="2.0"/><circle cx="1809.6" cy="269.6" r="2.2"/><circle cx="1807.2" cy="264.5" r="1.5"/><circle cx="1802.1" cy="254.8" r="1.3"/><circle cx="1825.7" cy="288.5" r="1.6"/><circle cx="1814.6" cy="275.6" r="1.7"/><circle cx="1802.7" cy="258.6" r="1.2"/><circle cx="1806.3" cy="262.5" r="1.5"/><circle cx="1807.3" cy="264.2" r="2.3"/><circle cx="1806.5" cy="265.9" r="2.1"/><circle cx="1819.1" cy="283.3" r="1.4"/><circle cx="1816.7" cy="268.6" r="2.0"/><circle cx="1835.5" cy="294.3" r="1.7"/><circle cx="1816.4" cy="266.3" r="2.0"/><circle cx="1828.3" cy="282.1" r="1.7"/><circle cx="1832.0" cy="267.7" r="1.8"/><circle cx="1830.5" cy="287.6" r="2.2"/><circle cx="1828.9" cy="271.9" r="2.3"/><circle cx="1823.0" cy="275.8" r="1.3"/><circle cx="1231.0" cy="322.3" r="2.2"/><circle cx="1235.3" cy="335.9" r="1.9"/><circle cx="1233.6" cy="327.7" r="2.2"/><circle cx="1228.5" cy="326.7" r="1.4"/><circle cx="1232.2" cy="324.5" r="2.0"/><circle cx="1231.8" cy="327.5" r="1.6"/><circle cx="1234.4" cy="323.1" r="2.3"/><circle cx="1233.6" cy="321.8" r="1.5"/><circle cx="1232.5" cy="314.9" r="1.6"/><circle cx="1238.2" cy="334.7" r="2.4"/><circle cx="1228.8" cy="312.9" r="2.1"/><circle cx="1228.6" cy="327.1" r="2.1"/><circle cx="1231.1" cy="322.1" r="1.5"/><circle cx="1224.0" cy="309.4" r="1.8"/><circle cx="1775.4" cy="513.4" r="2.4"/><circle cx="1780.9" cy="508.9" r="2.6"/><circle cx="1723.0" cy="512.8" r="1.5"/><circle cx="1738.0" cy="526.4" r="1.4"/><circle cx="1713.5" cy="519.9" r="1.7"/><circle cx="1755.4" cy="506.1" r="2.3"/><circle cx="1768.5" cy="513.8" r="2.0"/><circle cx="1719.1" cy="520.6" r="1.5"/><circle cx="1733.9" cy="519.5" r="2.1"/><circle cx="1735.7" cy="521.2" r="2.4"/><circle cx="1712.8" cy="515.5" r="1.3"/><circle cx="1772.6" cy="513.2" r="2.3"/><circle cx="1779.4" cy="519.1" r="2.6"/><circle cx="1728.9" cy="514.3" r="2.2"/><circle cx="1767.3" cy="504.6" r="1.9"/><circle cx="1715.3" cy="518.3" r="2.7"/><circle cx="1775.8" cy="520.7" r="2.4"/><circle cx="1774.7" cy="503.6" r="2.7"/><circle cx="1743.3" cy="511.9" r="2.0"/><circle cx="1753.1" cy="506.5" r="2.2"/><circle cx="1715.0" cy="517.9" r="2.6"/><circle cx="1759.2" cy="518.8" r="2.0"/><circle cx="1768.6" cy="510.8" r="2.5"/><circle cx="1742.5" cy="514.0" r="1.7"/><circle cx="1755.1" cy="502.2" r="2.3"/><circle cx="1755.3" cy="512.4" r="1.4"/><circle cx="1751.1" cy="522.7" r="2.2"/><circle cx="1733.1" cy="503.9" r="1.9"/><circle cx="1745.2" cy="507.5" r="2.1"/><circle cx="1731.1" cy="514.7" r="1.6"/><circle cx="1719.1" cy="509.2" r="2.6"/><circle cx="1723.3" cy="517.7" r="2.6"/><circle cx="1735.8" cy="505.1" r="1.3"/><circle cx="1773.7" cy="503.0" r="1.5"/><circle cx="1764.4" cy="520.7" r="2.6"/><circle cx="1764.6" cy="511.5" r="2.7"/><circle cx="1750.8" cy="516.2" r="2.5"/><circle cx="1739.5" cy="510.1" r="2.0"/><circle cx="1714.6" cy="519.2" r="1.6"/><circle cx="1753.1" cy="502.4" r="2.6"/><circle cx="1751.7" cy="525.0" r="2.0"/><circle cx="1723.9" cy="526.2" r="2.2"/><circle cx="1730.2" cy="530.5" r="1.8"/><circle cx="1720.6" cy="535.1" r="1.8"/><circle cx="1723.7" cy="528.8" r="1.6"/><circle cx="1737.1" cy="524.7" r="1.4"/><circle cx="1741.8" cy="521.0" r="2.4"/><circle cx="1725.6" cy="526.6" r="1.4"/><circle cx="1731.1" cy="530.6" r="1.3"/><circle cx="1730.2" cy="522.4" r="1.8"/><circle cx="1752.8" cy="537.8" r="1.4"/><circle cx="1724.8" cy="530.3" r="1.4"/><circle cx="1744.3" cy="535.6" r="2.1"/><circle cx="1730.2" cy="531.0" r="1.3"/><circle cx="1742.1" cy="536.9" r="2.1"/><circle cx="1724.2" cy="530.1" r="2.1"/><circle cx="1631.1" cy="475.2" r="2.3"/><circle cx="1620.8" cy="474.5" r="1.9"/><circle cx="1633.1" cy="470.1" r="2.4"/><circle cx="1631.6" cy="475.1" r="2.0"/><circle cx="1624.1" cy="467.5" r="1.6"/><circle cx="1627.3" cy="472.5" r="1.2"/><circle cx="1698.4" cy="424.3" r="2.1"/><circle cx="1694.1" cy="432.9" r="1.4"/><circle cx="1697.5" cy="429.3" r="2.1"/><circle cx="1701.1" cy="425.5" r="2.0"/><circle cx="1692.0" cy="434.3" r="1.3"/><circle cx="1696.9" cy="430.1" r="1.6"/><circle cx="1855.3" cy="318.4" r="1.8"/><circle cx="1848.9" cy="319.1" r="1.5"/><circle cx="1852.5" cy="327.3" r="2.2"/><circle cx="1850.6" cy="327.6" r="1.5"/><circle cx="1850.6" cy="324.4" r="2.3"/><circle cx="1712.3" cy="133.0" r="2.0"/><circle cx="1709.3" cy="130.1" r="1.6"/><circle cx="1708.5" cy="126.0" r="1.7"/><circle cx="1719.9" cy="134.3" r="2.2"/><circle cx="1712.6" cy="127.3" r="1.2"/><circle cx="1710.5" cy="130.5" r="1.7"/></g>
<g fill="#000"><circle cx="1524.3" cy="115.8" r="3"/><circle cx="1523.0" cy="133.8" r="3"/><circle cx="1730.8" cy="182.5" r="3.2"/><circle cx="1627.0" cy="488.0" r="5"/><circle cx="1655.0" cy="536.3" r="3.3"/><circle cx="1660.0" cy="537.0" r="3.3"/><circle cx="1698.8" cy="540.5" r="3.2"/><circle cx="1705.0" cy="528.8" r="3.2"/><circle cx="1703.8" cy="536.3" r="3.2"/><circle cx="1711.0" cy="535.0" r="3.2"/><circle cx="1715.0" cy="546.3" r="3.4"/><circle cx="1718.0" cy="547.0" r="3.2"/><circle cx="1725.0" cy="547.5" r="3.2"/><circle cx="1732.5" cy="553.8" r="3.2"/><circle cx="1737.5" cy="550.0" r="3.2"/><circle cx="1738.8" cy="556.3" r="3.2"/><circle cx="1742.5" cy="543.8" r="3.2"/><circle cx="1746.3" cy="548.8" r="3.2"/><circle cx="1735.0" cy="537.5" r="3.2"/><circle cx="1746.3" cy="507.5" r="3.2"/><circle cx="1755.0" cy="506.3" r="3.2"/><circle cx="1713.8" cy="495.5" r="3.2"/><circle cx="1792.5" cy="478.8" r="3.2"/><circle cx="1793.8" cy="535.0" r="3.2"/><circle cx="1797.5" cy="535.5" r="3.2"/><circle cx="1808.8" cy="496.0" r="3.2"/><circle cx="1801.0" cy="507.0" r="3.2"/><circle cx="1742.0" cy="597.5" r="3.2"/><circle cx="1750.8" cy="596.8" r="3.2"/><circle cx="1762.5" cy="628.0" r="3.4"/><circle cx="1765.0" cy="626.0" r="3.4"/><circle cx="1728.0" cy="541.0" r="3.2"/><circle cx="1722.0" cy="540.0" r="3.2"/></g>
<g fill="#ff0000"><circle cx="1433.0" cy="152.0" r="3"/><circle cx="1418.8" cy="177.5" r="3"/><circle cx="1505.0" cy="97.5" r="6"/><circle cx="1594.5" cy="93.8" r="6"/><circle cx="1537.0" cy="93.0" r="3.3"/><circle cx="1533.8" cy="98.8" r="3.3"/><circle cx="1531.3" cy="102.5" r="3.3"/><circle cx="1507.5" cy="110.0" r="3.3"/><circle cx="1511.0" cy="113.8" r="3.3"/><circle cx="1515.0" cy="117.5" r="3.3"/><circle cx="1518.8" cy="121.3" r="3.3"/><circle cx="1521.3" cy="123.8" r="3.3"/><circle cx="1512.0" cy="124.5" r="3.3"/><circle cx="1527.0" cy="128.8" r="3.3"/><circle cx="1524.5" cy="131.3" r="3.3"/><circle cx="1470.0" cy="153.0" r="3"/><circle cx="1475.0" cy="157.0" r="3"/><circle cx="1498.8" cy="174.5" r="3"/><circle cx="1727.5" cy="150.0" r="4"/><circle cx="1728.0" cy="168.0" r="4"/><circle cx="1731.0" cy="171.0" r="4"/><circle cx="1733.0" cy="174.0" r="4"/><circle cx="1730.0" cy="175.0" r="4"/><circle cx="1731.0" cy="180.0" r="3.5"/><circle cx="1740.0" cy="187.5" r="4"/><circle cx="1748.0" cy="212.0" r="3.6"/><circle cx="1752.0" cy="214.0" r="3.6"/><circle cx="1753.0" cy="211.0" r="3.6"/><circle cx="1750.0" cy="216.0" r="3.3"/><circle cx="1743.3" cy="218.8" r="3.2"/><circle cx="1788.0" cy="250.8" r="3.3"/><circle cx="1776.8" cy="290.5" r="3.3"/><circle cx="1808.0" cy="285.0" r="3.5"/><circle cx="1810.0" cy="288.0" r="3.5"/><circle cx="1832.5" cy="305.5" r="3.3"/><circle cx="1833.0" cy="315.0" r="3.3"/><circle cx="1837.5" cy="317.5" r="3.3"/><circle cx="1842.0" cy="317.5" r="3.3"/><circle cx="1843.8" cy="322.5" r="3.3"/><circle cx="1842.5" cy="327.5" r="3.3"/><circle cx="1845.0" cy="332.5" r="3.3"/><circle cx="1790.0" cy="340.6" r="3.3"/><circle cx="1763.5" cy="418.8" r="3.3"/><circle cx="1761.5" cy="421.0" r="3.3"/><circle cx="1797.6" cy="409.0" r="3.5"/><circle cx="1800.5" cy="412.0" r="3.5"/><circle cx="1795.4" cy="448.5" r="3.3"/><circle cx="1797.6" cy="454.0" r="3.3"/><circle cx="1786.6" cy="459.6" r="3.3"/><circle cx="1788.5" cy="460.5" r="3.3"/><circle cx="1774.5" cy="478.3" r="3.3"/><circle cx="1776.7" cy="291.0" r="3.3"/><circle cx="1271.0" cy="436.0" r="4.5"/><circle cx="1268.0" cy="440.0" r="4"/><circle cx="1274.0" cy="433.5" r="4"/><circle cx="1276.5" cy="432.0" r="3.5"/><circle cx="1269.5" cy="443.0" r="3.5"/><circle cx="1272.5" cy="439.0" r="4"/><circle cx="1265.0" cy="462.5" r="3.3"/><circle cx="1256.0" cy="469.0" r="3.5"/><circle cx="1256.5" cy="472.0" r="3.5"/><circle cx="1258.5" cy="467.0" r="3"/><circle cx="1266.0" cy="472.0" r="3.3"/><circle cx="1269.0" cy="471.0" r="3.3"/><circle cx="1272.0" cy="470.0" r="3.3"/><circle cx="1276.0" cy="476.0" r="3.3"/><circle cx="1280.5" cy="476.0" r="3.3"/><circle cx="1273.8" cy="481.0" r="3.3"/><circle cx="1272.0" cy="485.0" r="3.3"/><circle cx="1274.5" cy="487.0" r="3.3"/><circle cx="1280.5" cy="490.0" r="3.2"/><circle cx="1285.0" cy="490.0" r="3.2"/><circle cx="1290.0" cy="490.0" r="3.2"/><circle cx="1295.0" cy="490.0" r="3.2"/><circle cx="1297.5" cy="483.8" r="3.3"/><circle cx="1301.0" cy="485.0" r="3.3"/><circle cx="1300.0" cy="490.5" r="3.3"/><circle cx="1701.0" cy="495.0" r="3.2"/><circle cx="1708.8" cy="493.0" r="3.2"/><circle cx="1707.0" cy="498.8" r="3.2"/><circle cx="1722.5" cy="504.5" r="3.2"/><circle cx="1721.0" cy="510.0" r="3.2"/><circle cx="1730.0" cy="507.5" r="3.2"/><circle cx="1727.5" cy="515.0" r="3.2"/><circle cx="1715.0" cy="512.5" r="3.2"/><circle cx="1710.0" cy="514.5" r="3.2"/><circle cx="1707.5" cy="518.8" r="3.2"/><circle cx="1711.0" cy="522.5" r="3.2"/><circle cx="1712.5" cy="527.5" r="3.2"/><circle cx="1717.5" cy="531.0" r="3.2"/><circle cx="1722.5" cy="533.8" r="3.2"/><circle cx="1726.0" cy="536.0" r="3.2"/><circle cx="1728.8" cy="538.8" r="3.2"/><circle cx="1730.0" cy="542.5" r="3.2"/><circle cx="1677.5" cy="537.5" r="3.2"/><circle cx="1742.5" cy="526.0" r="5"/><circle cx="1750.0" cy="518.8" r="3.2"/><circle cx="1752.5" cy="511.0" r="3.2"/><circle cx="1751.0" cy="515.0" r="3.2"/><circle cx="1757.5" cy="542.5" r="3.2"/><circle cx="1760.0" cy="540.0" r="3.2"/><circle cx="1786.0" cy="460.0" r="3.3"/><circle cx="1775.0" cy="478.0" r="3.3"/><circle cx="1797.5" cy="448.8" r="3.3"/><circle cx="1800.0" cy="477.5" r="3.3"/><circle cx="1806.0" cy="501.0" r="3.2"/><circle cx="1803.8" cy="507.5" r="3.2"/><circle cx="1802.5" cy="513.8" r="3.2"/><circle cx="1800.0" cy="521.0" r="3.2"/><circle cx="1801.5" cy="517.0" r="3.2"/><circle cx="1848.3" cy="329.1" r="3.4"/><circle cx="1847.8" cy="345.6" r="3.4"/><circle cx="1849.4" cy="337.3" r="3.4"/><circle cx="1850.0" cy="343.9" r="3.4"/><circle cx="1850.3" cy="341.8" r="3.4"/><circle cx="1848.4" cy="337.7" r="3.4"/><circle cx="1846.7" cy="326.5" r="3.4"/><circle cx="1848.3" cy="342.7" r="3.4"/><circle cx="1847.8" cy="325.0" r="3.4"/><circle cx="1846.1" cy="346.9" r="3.4"/><circle cx="1850.4" cy="344.0" r="3.4"/><circle cx="1847.1" cy="325.0" r="3.4"/><circle cx="1845.2" cy="320.6" r="3.4"/><circle cx="1850.5" cy="341.1" r="3.4"/><circle cx="1847.7" cy="327.6" r="3.4"/><circle cx="1848.0" cy="324.3" r="3.4"/><circle cx="1848.0" cy="344.1" r="3.4"/><circle cx="1847.6" cy="321.8" r="3.4"/><circle cx="1850.7" cy="341.7" r="3.4"/><circle cx="1845.3" cy="329.0" r="3.4"/><circle cx="1850.5" cy="330.1" r="3.4"/><circle cx="1845.8" cy="322.0" r="3.4"/><circle cx="1849.6" cy="357.9" r="3.4"/><circle cx="1850.9" cy="378.8" r="3.4"/><circle cx="1855.7" cy="376.4" r="3.4"/><circle cx="1851.0" cy="354.3" r="3.4"/><circle cx="1852.0" cy="353.5" r="3.4"/><circle cx="1849.2" cy="353.7" r="3.4"/><circle cx="1851.2" cy="354.7" r="3.4"/><circle cx="1854.4" cy="384.3" r="3.4"/><circle cx="1857.2" cy="383.1" r="3.4"/><circle cx="1854.2" cy="362.7" r="3.4"/><circle cx="1852.6" cy="353.3" r="3.4"/><circle cx="1851.7" cy="376.4" r="3.4"/><circle cx="1852.7" cy="352.4" r="3.4"/><circle cx="1854.3" cy="375.5" r="3.4"/><circle cx="1850.9" cy="352.3" r="3.4"/><circle cx="1852.8" cy="362.4" r="3.4"/><circle cx="1852.7" cy="374.3" r="3.4"/><circle cx="1849.9" cy="377.4" r="3.4"/><circle cx="1853.2" cy="360.3" r="3.4"/><circle cx="1852.8" cy="376.0" r="3.4"/><circle cx="1854.8" cy="378.1" r="3.4"/><circle cx="1851.9" cy="365.2" r="3.4"/><circle cx="1853.3" cy="353.6" r="3.4"/><circle cx="1855.3" cy="370.2" r="3.4"/><circle cx="1852.2" cy="375.7" r="3.4"/><circle cx="1850.0" cy="355.8" r="3.4"/><circle cx="1853.5" cy="352.6" r="3.4"/><circle cx="1854.0" cy="353.4" r="3.4"/><circle cx="1855.9" cy="369.9" r="3.4"/><circle cx="1852.6" cy="351.4" r="3.4"/><circle cx="1846.5" cy="360.8" r="3.4"/><circle cx="1854.6" cy="359.8" r="3.4"/><circle cx="1849.9" cy="366.1" r="3.4"/><circle cx="1856.1" cy="371.1" r="3.4"/><circle cx="1850.9" cy="377.1" r="3.4"/><circle cx="1853.8" cy="361.9" r="3.4"/><circle cx="1849.4" cy="361.6" r="3.4"/><circle cx="1854.3" cy="377.3" r="3.4"/><circle cx="1847.5" cy="364.4" r="3.4"/><circle cx="1851.3" cy="377.0" r="3.4"/><circle cx="1851.6" cy="373.4" r="3.4"/><circle cx="1852.9" cy="378.1" r="3.4"/><circle cx="1855.3" cy="365.8" r="3.4"/><circle cx="1852.1" cy="354.0" r="3.4"/><circle cx="1851.2" cy="369.8" r="3.4"/><circle cx="1854.6" cy="367.5" r="3.4"/><circle cx="1853.5" cy="375.3" r="3.4"/><circle cx="1856.5" cy="388.7" r="3.4"/><circle cx="1851.4" cy="366.9" r="3.4"/><circle cx="1848.4" cy="374.2" r="3.4"/><circle cx="1851.6" cy="351.9" r="3.4"/><circle cx="1851.5" cy="368.4" r="3.4"/><circle cx="1855.0" cy="382.8" r="3.4"/><circle cx="1850.6" cy="350.6" r="3.4"/><circle cx="1855.1" cy="368.1" r="3.4"/><circle cx="1846.7" cy="413.4" r="3.4"/><circle cx="1849.9" cy="403.9" r="3.4"/><circle cx="1843.3" cy="409.3" r="3.4"/><circle cx="1848.0" cy="406.3" r="3.4"/><circle cx="1850.0" cy="409.3" r="3.4"/><circle cx="1847.2" cy="410.1" r="3.4"/><circle cx="1847.0" cy="420.8" r="3.4"/><circle cx="1847.4" cy="421.9" r="3.4"/><circle cx="1846.1" cy="414.8" r="3.4"/><circle cx="1856.5" cy="400.4" r="3.4"/><circle cx="1853.6" cy="414.9" r="3.4"/><circle cx="1851.0" cy="404.6" r="3.4"/><circle cx="1848.9" cy="401.0" r="3.4"/><circle cx="1846.3" cy="424.7" r="3.4"/><circle cx="1847.3" cy="404.0" r="3.4"/><circle cx="1846.6" cy="423.9" r="3.4"/><circle cx="1852.3" cy="399.1" r="3.4"/><circle cx="1848.9" cy="401.9" r="3.4"/><circle cx="1846.8" cy="418.9" r="3.4"/><circle cx="1847.8" cy="417.7" r="3.4"/><circle cx="1845.7" cy="402.9" r="3.4"/><circle cx="1850.4" cy="404.7" r="3.4"/><circle cx="1850.5" cy="399.5" r="3.4"/><circle cx="1851.7" cy="395.5" r="3.4"/><circle cx="1855.8" cy="400.9" r="3.4"/><circle cx="1855.3" cy="399.5" r="3.4"/><circle cx="1854.4" cy="403.7" r="3.4"/><circle cx="1848.3" cy="419.3" r="3.4"/><circle cx="1847.0" cy="416.9" r="3.4"/><circle cx="1846.1" cy="410.6" r="3.4"/><circle cx="1857.2" cy="401.5" r="3.4"/><circle cx="1851.2" cy="407.4" r="3.4"/><circle cx="1847.1" cy="396.0" r="3.4"/><circle cx="1846.0" cy="396.7" r="3.4"/><circle cx="1846.4" cy="416.6" r="3.4"/><circle cx="1842.7" cy="414.2" r="3.4"/><circle cx="1851.9" cy="406.8" r="3.4"/><circle cx="1853.4" cy="411.0" r="3.4"/><circle cx="1841.8" cy="362.3" r="3.4"/><circle cx="1840.1" cy="366.1" r="3.4"/><circle cx="1835.7" cy="356.0" r="3.4"/><circle cx="1837.5" cy="358.6" r="3.4"/><circle cx="1839.9" cy="363.4" r="3.4"/><circle cx="1841.7" cy="370.2" r="3.4"/><circle cx="1849.5" cy="352.8" r="3.4"/><circle cx="1841.3" cy="366.6" r="3.4"/><circle cx="1838.2" cy="382.1" r="3.4"/><circle cx="1834.4" cy="402.4" r="3.4"/><circle cx="1834.3" cy="384.9" r="3.4"/><circle cx="1826.4" cy="406.0" r="3.4"/><circle cx="1827.5" cy="395.1" r="3.4"/><circle cx="1831.2" cy="383.0" r="3.4"/><circle cx="1836.6" cy="408.1" r="3.4"/><circle cx="1830.2" cy="400.4" r="3.4"/><circle cx="1824.4" cy="396.2" r="3.4"/><circle cx="1827.0" cy="395.6" r="3.4"/><circle cx="1827.7" cy="392.8" r="3.4"/><circle cx="1832.8" cy="392.0" r="3.4"/><circle cx="1833.9" cy="401.9" r="3.4"/><circle cx="1828.6" cy="403.4" r="3.4"/><circle cx="1842.1" cy="379.6" r="3.4"/><circle cx="1846.5" cy="390.3" r="3.4"/><circle cx="1844.4" cy="390.5" r="3.4"/><circle cx="1841.9" cy="409.8" r="3.4"/><circle cx="1848.2" cy="406.4" r="3.4"/><circle cx="1846.7" cy="413.4" r="3.4"/><circle cx="1850.5" cy="405.9" r="3.4"/><circle cx="1848.8" cy="409.1" r="3.4"/><circle cx="1851.7" cy="408.6" r="3.4"/><circle cx="1846.4" cy="381.4" r="3.4"/><circle cx="1842.6" cy="409.4" r="3.4"/><circle cx="1844.4" cy="415.6" r="3.4"/><circle cx="1845.4" cy="412.7" r="3.4"/><circle cx="1844.5" cy="378.6" r="3.4"/><circle cx="1850.1" cy="399.2" r="3.4"/><circle cx="1849.0" cy="386.3" r="3.4"/><circle cx="1844.7" cy="419.5" r="3.4"/><circle cx="1852.0" cy="393.8" r="3.4"/><circle cx="1847.8" cy="419.8" r="3.4"/><circle cx="1847.8" cy="406.4" r="3.4"/><circle cx="1846.5" cy="393.6" r="3.4"/><circle cx="1848.6" cy="396.5" r="3.4"/><circle cx="1845.8" cy="393.3" r="3.4"/><circle cx="1839.2" cy="404.0" r="3.4"/><circle cx="1845.6" cy="400.7" r="3.4"/><circle cx="1847.1" cy="418.3" r="3.4"/><circle cx="1842.4" cy="422.4" r="3.4"/><circle cx="1837.8" cy="430.0" r="3.4"/><circle cx="1841.4" cy="438.4" r="3.4"/><circle cx="1830.4" cy="429.2" r="3.4"/><circle cx="1838.5" cy="431.7" r="3.4"/><circle cx="1843.6" cy="431.6" r="3.4"/><circle cx="1842.9" cy="441.6" r="3.4"/><circle cx="1824.7" cy="446.0" r="3.4"/><circle cx="1831.2" cy="437.4" r="3.4"/><circle cx="1832.2" cy="426.1" r="3.4"/><circle cx="1835.5" cy="443.7" r="3.4"/><circle cx="1834.7" cy="428.3" r="3.4"/><circle cx="1836.0" cy="428.6" r="3.4"/><circle cx="1830.0" cy="450.5" r="3.4"/><circle cx="1832.6" cy="430.5" r="3.4"/><circle cx="1826.4" cy="451.2" r="3.4"/><circle cx="1831.5" cy="448.3" r="3.4"/><circle cx="1825.4" cy="446.7" r="3.4"/><circle cx="1839.6" cy="438.2" r="3.4"/><circle cx="1844.2" cy="423.1" r="3.4"/><circle cx="1830.5" cy="442.9" r="3.4"/><circle cx="1831.4" cy="438.0" r="3.4"/><circle cx="1843.7" cy="422.5" r="3.4"/><circle cx="1842.6" cy="423.1" r="3.4"/><circle cx="1842.1" cy="438.8" r="3.4"/><circle cx="1844.2" cy="424.7" r="3.4"/><circle cx="1823.9" cy="453.3" r="3.4"/><circle cx="1838.4" cy="430.1" r="3.4"/><circle cx="1846.2" cy="422.9" r="3.4"/><circle cx="1826.0" cy="438.3" r="3.4"/><circle cx="1832.0" cy="442.8" r="3.4"/><circle cx="1829.8" cy="441.5" r="3.4"/><circle cx="1827.8" cy="442.1" r="3.4"/><circle cx="1839.2" cy="428.6" r="3.4"/><circle cx="1842.4" cy="431.8" r="3.4"/><circle cx="1839.6" cy="431.9" r="3.4"/><circle cx="1825.9" cy="447.7" r="3.4"/><circle cx="1827.4" cy="451.5" r="3.4"/><circle cx="1833.4" cy="434.3" r="3.4"/><circle cx="1826.8" cy="436.5" r="3.4"/><circle cx="1822.6" cy="452.7" r="3.4"/><circle cx="1826.7" cy="446.9" r="3.4"/><circle cx="1844.4" cy="430.9" r="3.4"/><circle cx="1839.7" cy="430.6" r="3.4"/><circle cx="1825.1" cy="453.1" r="3.4"/><circle cx="1808.6" cy="468.8" r="3.4"/><circle cx="1802.8" cy="487.9" r="3.4"/><circle cx="1819.1" cy="461.5" r="3.4"/><circle cx="1817.0" cy="465.1" r="3.4"/><circle cx="1801.5" cy="476.9" r="3.4"/><circle cx="1822.6" cy="462.1" r="3.4"/><circle cx="1817.4" cy="467.1" r="3.4"/><circle cx="1809.5" cy="482.7" r="3.4"/><circle cx="1805.3" cy="473.6" r="3.4"/><circle cx="1806.1" cy="485.5" r="3.4"/><circle cx="1805.8" cy="477.5" r="3.4"/><circle cx="1798.9" cy="481.9" r="3.4"/><circle cx="1823.6" cy="463.4" r="3.4"/><circle cx="1812.7" cy="466.1" r="3.4"/><circle cx="1803.2" cy="479.9" r="3.4"/><circle cx="1808.2" cy="477.6" r="3.4"/><circle cx="1815.0" cy="456.8" r="3.4"/><circle cx="1825.1" cy="475.8" r="3.4"/><circle cx="1806.4" cy="474.8" r="3.4"/><circle cx="1805.6" cy="473.1" r="3.4"/><circle cx="1794.7" cy="483.2" r="3.4"/><circle cx="1799.5" cy="480.1" r="3.4"/><circle cx="1802.5" cy="476.5" r="3.4"/><circle cx="1822.3" cy="458.9" r="3.4"/><circle cx="1800.1" cy="483.5" r="3.4"/><circle cx="1815.8" cy="465.1" r="3.4"/><circle cx="1807.2" cy="474.7" r="3.4"/><circle cx="1802.4" cy="479.2" r="3.4"/><circle cx="1806.7" cy="479.5" r="3.4"/><circle cx="1808.6" cy="478.3" r="3.4"/><circle cx="1811.0" cy="476.9" r="3.4"/><circle cx="1806.3" cy="477.7" r="3.4"/><circle cx="1821.6" cy="455.1" r="3.4"/><circle cx="1812.5" cy="477.8" r="3.4"/><circle cx="1815.6" cy="476.6" r="3.4"/><circle cx="1814.9" cy="464.0" r="3.4"/><circle cx="1815.9" cy="462.1" r="3.4"/><circle cx="1819.7" cy="468.0" r="3.4"/><circle cx="1804.0" cy="484.3" r="3.4"/><circle cx="1820.0" cy="459.4" r="3.4"/><circle cx="1814.7" cy="454.8" r="3.4"/><circle cx="1796.7" cy="477.9" r="3.4"/><circle cx="1813.3" cy="472.6" r="3.4"/><circle cx="1808.4" cy="459.1" r="3.4"/><circle cx="1798.8" cy="485.1" r="3.4"/><circle cx="1806.6" cy="470.0" r="3.4"/><circle cx="1814.1" cy="452.5" r="3.4"/><circle cx="1823.3" cy="463.2" r="3.4"/><circle cx="1807.0" cy="479.9" r="3.4"/><circle cx="1807.4" cy="473.1" r="3.4"/><circle cx="1806.5" cy="480.3" r="3.4"/><circle cx="1807.9" cy="477.8" r="3.4"/><circle cx="1816.0" cy="478.0" r="3.4"/><circle cx="1809.2" cy="485.5" r="3.4"/><circle cx="1807.5" cy="481.3" r="3.4"/><circle cx="1796.8" cy="494.0" r="3.4"/><circle cx="1796.4" cy="490.7" r="3.4"/><circle cx="1789.5" cy="484.1" r="3.4"/><circle cx="1793.0" cy="495.1" r="3.4"/><circle cx="1797.4" cy="493.7" r="3.4"/><circle cx="1788.6" cy="496.7" r="3.4"/><circle cx="1798.2" cy="495.0" r="3.4"/><circle cx="1799.6" cy="492.7" r="3.4"/><circle cx="1790.2" cy="492.8" r="3.4"/><circle cx="1795.6" cy="488.4" r="3.4"/><circle cx="1787.1" cy="492.8" r="3.4"/><circle cx="1788.3" cy="494.3" r="3.4"/><circle cx="1791.8" cy="494.5" r="3.4"/><circle cx="1797.8" cy="486.0" r="3.4"/><circle cx="1799.0" cy="491.7" r="3.4"/><circle cx="1787.0" cy="493.1" r="3.4"/><circle cx="1826.8" cy="452.9" r="3.4"/><circle cx="1814.4" cy="444.1" r="3.4"/><circle cx="1834.6" cy="434.7" r="3.4"/><circle cx="1822.5" cy="443.0" r="3.4"/><circle cx="1828.7" cy="438.4" r="3.4"/><circle cx="1825.8" cy="437.9" r="3.4"/><circle cx="1817.2" cy="459.1" r="3.4"/><circle cx="1825.9" cy="440.4" r="3.4"/><circle cx="1828.6" cy="435.9" r="3.4"/><circle cx="1811.9" cy="455.3" r="3.4"/><circle cx="1836.1" cy="437.2" r="3.4"/><circle cx="1828.3" cy="431.5" r="3.4"/><circle cx="1824.5" cy="443.6" r="3.4"/><circle cx="1823.1" cy="437.4" r="3.4"/><circle cx="1826.2" cy="439.6" r="3.4"/><circle cx="1821.6" cy="451.0" r="3.4"/><circle cx="1811.8" cy="471.4" r="3.4"/><circle cx="1810.8" cy="471.9" r="3.4"/><circle cx="1811.0" cy="485.3" r="3.4"/><circle cx="1809.6" cy="475.1" r="3.4"/><circle cx="1810.9" cy="473.6" r="3.4"/><circle cx="1806.9" cy="487.5" r="3.4"/><circle cx="1809.1" cy="486.0" r="3.4"/><circle cx="1810.8" cy="473.5" r="3.4"/><circle cx="1810.8" cy="481.8" r="3.4"/><circle cx="1812.1" cy="470.5" r="3.4"/></g>
<text x="1126.5" y="890.8" font-size="37.5" fill="#000" text-anchor="start" font-family='"Liberation Sans", Arial, Helvetica, sans-serif' textLength="175.5" lengthAdjust="spacingAndGlyphs">Ecoregion</text>
<rect x="1325.55" y="817.75" width="56.9" height="56.9" fill="#a380ab" stroke="#5a5a5a" stroke-width="3.3"/>
<text x="1404.2" y="857.8000000000001" font-size="31.2" fill="#000" text-anchor="start" font-family='"Liberation Sans", Arial, Helvetica, sans-serif' textLength="66.5" lengthAdjust="spacingAndGlyphs">TrFo</text>
<rect x="1325.55" y="879.65" width="56.9" height="56.9" fill="#a09dc4" stroke="#5a5a5a" stroke-width="3.3"/>
<text x="1404.2" y="919.7" font-size="31.2" fill="#000" text-anchor="start" font-family='"Liberation Sans", Arial, Helvetica, sans-serif' textLength="73.5" lengthAdjust="spacingAndGlyphs">TeFo</text>
<rect x="1497.05" y="817.75" width="56.9" height="56.9" fill="#98b2c8" stroke="#5a5a5a" stroke-width="3.3"/>
<text x="1575.7" y="857.8000000000001" font-size="31.2" fill="#000" text-anchor="start" font-family='"Liberation Sans", Arial, Helvetica, sans-serif' textLength="66" lengthAdjust="spacingAndGlyphs">TrGr</text>
<rect x="1497.05" y="879.65" width="56.9" height="56.9" fill="#8fc8c4" stroke="#5a5a5a" stroke-width="3.3"/>
<text x="1575.7" y="919.7" font-size="31.2" fill="#000" text-anchor="start" font-family='"Liberation Sans", Arial, Helvetica, sans-serif' textLength="73.5" lengthAdjust="spacingAndGlyphs">TeGr</text>
<rect x="1667.25" y="817.75" width="56.9" height="56.9" fill="#9adbbb" stroke="#5a5a5a" stroke-width="3.3"/>
<text x="1745.8999999999999" y="857.8000000000001" font-size="31.2" fill="#000" text-anchor="start" font-family='"Liberation Sans", Arial, Helvetica, sans-serif' textLength="80.5" lengthAdjust="spacingAndGlyphs">MoGr</text>
<rect x="1667.25" y="879.65" width="56.9" height="56.9" fill="#c7eba0" stroke="#5a5a5a" stroke-width="3.3"/>
<text x="1745.8999999999999" y="919.7" font-size="31.2" fill="#000" text-anchor="start" font-family='"Liberation Sans", Arial, Helvetica, sans-serif' textLength="81.5" lengthAdjust="spacingAndGlyphs">MeFo</text>
<rect x="1849.75" y="817.75" width="56.9" height="56.9" fill="#fef291" stroke="#5a5a5a" stroke-width="3.3"/>
<text x="1928.3999999999999" y="857.8000000000001" font-size="31.2" fill="#000" text-anchor="start" font-family='"Liberation Sans", Arial, Helvetica, sans-serif' textLength="75.5" lengthAdjust="spacingAndGlyphs">DeSh</text>
</svg>
</body></html>
